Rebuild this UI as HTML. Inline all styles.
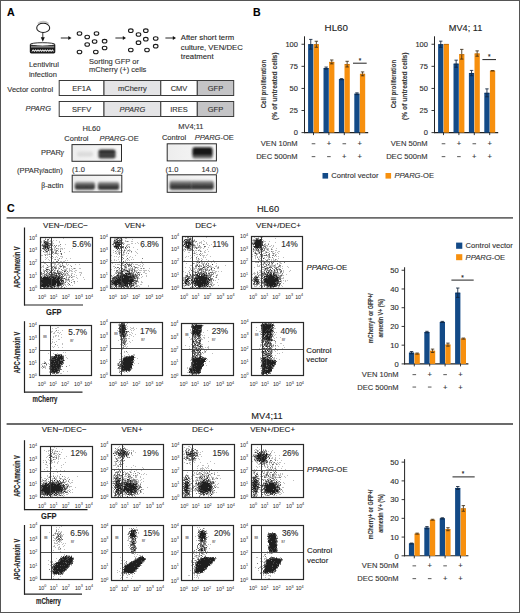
<!DOCTYPE html>
<html><head><meta charset="utf-8"><style>
html,body{margin:0;padding:0;background:#fff;}
body{width:520px;height:613px;overflow:hidden;}
svg{display:block;font-family:"Liberation Sans", sans-serif;}
</style></head><body>
<svg width="520" height="613" viewBox="0 0 520 613">
<defs>
<linearGradient id="blotbg" x1="0" y1="0" x2="1" y2="0"><stop offset="0" stop-color="#ededed"/><stop offset="1" stop-color="#f8f8f8"/></linearGradient>
<linearGradient id="gband" x1="0" y1="0" x2="0" y2="1"><stop offset="0" stop-color="#2a2a2a"/><stop offset="0.45" stop-color="#333"/><stop offset="0.55" stop-color="#555"/><stop offset="0.7" stop-color="#333"/><stop offset="1" stop-color="#4a4a4a"/></linearGradient>
<linearGradient id="gband2" x1="0" y1="0" x2="0" y2="1"><stop offset="0" stop-color="#141414"/><stop offset="0.55" stop-color="#111"/><stop offset="0.75" stop-color="#444"/><stop offset="1" stop-color="#9a9a9a"/></linearGradient>
<linearGradient id="gfaint" x1="0" y1="0" x2="0" y2="1"><stop offset="0" stop-color="#e2e2e2"/><stop offset="1" stop-color="#d8d8d8"/></linearGradient>
<linearGradient id="gactin" x1="0" y1="0" x2="0" y2="1"><stop offset="0" stop-color="#a8a8a8"/><stop offset="0.35" stop-color="#5a5a5a"/><stop offset="0.7" stop-color="#333"/><stop offset="1" stop-color="#474747"/></linearGradient>
<filter id="bl1" x="-30%" y="-50%" width="160%" height="200%"><feGaussianBlur stdDeviation="0.8"/></filter>
</defs>
<rect x="0" y="0" width="520" height="613" fill="#fff"/>
<text x="6.90" y="16.20" font-size="10.6" font-weight="bold" fill="#000" stroke="#000" stroke-width="0.12">A</text>
<path d="M37.8 23.6 Q43.2 19.6 48.6 23.6" fill="none" stroke="#c4c4c4" stroke-width="1.6"/>
<ellipse cx="43.2" cy="27.9" rx="6.5" ry="4.6" fill="#fff" stroke="#1e1e1e" stroke-width="1.05"/>
<line x1="42.80" y1="32.50" x2="42.80" y2="38.00" stroke="#222" stroke-width="0.9"/>
<path d="M40.8 37.2 L44.8 37.2 L42.8 41.8 Z" fill="#111"/>
<path d="M29.8 44.6 L29.8 52 Q29.8 53.4 31.3 53.4 L53.8 53.4 Q55.3 53.4 55.3 52 L55.3 44.6 Z" fill="#1a1a1a"/>
<ellipse cx="42.55" cy="44.4" rx="12.4" ry="1.7" fill="#fff" stroke="#1a1a1a" stroke-width="0.9"/>
<line x1="31.00" y1="46.90" x2="54.20" y2="46.90" stroke="#f4f4f4" stroke-width="0.75"/>
<path d="M32 51.6 L33.2 49.6 L34.4 51.6 L35.6 49.6 L36.8 51.6 L38 49.6 L39.2 51.6 L40.4 49.6 L41.6 51.6 L42.8 49.6 L44 51.6 L45.2 49.6 L46.4 51.6 L47.6 49.6 L48.8 51.6 L50 49.6 L51.2 51.6 L52.4 49.6 L53.4 51.6" fill="none" stroke="#fff" stroke-width="0.8"/>
<line x1="32.00" y1="50.60" x2="53.40" y2="50.60" stroke="#fff" stroke-width="0.6"/>
<line x1="60.80" y1="38.00" x2="69.00" y2="38.00" stroke="#111" stroke-width="0.9"/>
<path d="M68.3 36.0 L71.5 38.0 L68.3 40.0 Z" fill="#111"/>
<line x1="115.40" y1="38.00" x2="123.50" y2="38.00" stroke="#111" stroke-width="0.9"/>
<path d="M122.8 36.0 L126.0 38.0 L122.8 40.0 Z" fill="#111"/>
<line x1="165.40" y1="38.00" x2="173.50" y2="38.00" stroke="#111" stroke-width="0.9"/>
<path d="M172.8 36.0 L176.0 38.0 L172.8 40.0 Z" fill="#111"/>
<ellipse cx="79.5" cy="33.5" rx="2.3" ry="1.8" fill="#fff" stroke="#1a1a1a" stroke-width="1.1"/>
<ellipse cx="87.2" cy="37.0" rx="2.3" ry="1.8" fill="#fff" stroke="#1a1a1a" stroke-width="1.1"/>
<ellipse cx="96.5" cy="33.5" rx="2.3" ry="1.8" fill="#fff" stroke="#1a1a1a" stroke-width="1.1"/>
<ellipse cx="94.6" cy="41.5" rx="2.3" ry="1.8" fill="#fff" stroke="#1a1a1a" stroke-width="1.1"/>
<ellipse cx="104.6" cy="41.2" rx="2.3" ry="1.8" fill="#fff" stroke="#1a1a1a" stroke-width="1.1"/>
<ellipse cx="87.2" cy="44.5" rx="2.3" ry="1.8" fill="#fff" stroke="#1a1a1a" stroke-width="1.1"/>
<ellipse cx="104.6" cy="48.0" rx="2.3" ry="1.8" fill="#fff" stroke="#1a1a1a" stroke-width="1.1"/>
<ellipse cx="79.5" cy="52.0" rx="2.3" ry="1.8" fill="#fff" stroke="#1a1a1a" stroke-width="1.1"/>
<ellipse cx="95.8" cy="52.0" rx="2.3" ry="1.8" fill="#fff" stroke="#1a1a1a" stroke-width="1.1"/>
<ellipse cx="130.8" cy="30.7" rx="2.3" ry="1.8" fill="#fff" stroke="#1a1a1a" stroke-width="1.1"/>
<ellipse cx="138.5" cy="34.5" rx="2.3" ry="1.8" fill="#fff" stroke="#1a1a1a" stroke-width="1.1"/>
<ellipse cx="145.8" cy="30.7" rx="2.3" ry="1.8" fill="#fff" stroke="#1a1a1a" stroke-width="1.1"/>
<ellipse cx="145.8" cy="39.2" rx="2.3" ry="1.8" fill="#fff" stroke="#1a1a1a" stroke-width="1.1"/>
<ellipse cx="155.7" cy="38.5" rx="2.3" ry="1.8" fill="#fff" stroke="#1a1a1a" stroke-width="1.1"/>
<ellipse cx="138.5" cy="42.7" rx="2.3" ry="1.8" fill="#fff" stroke="#1a1a1a" stroke-width="1.1"/>
<ellipse cx="155.7" cy="46.2" rx="2.3" ry="1.8" fill="#fff" stroke="#1a1a1a" stroke-width="1.1"/>
<ellipse cx="130.8" cy="50.0" rx="2.3" ry="1.8" fill="#fff" stroke="#1a1a1a" stroke-width="1.1"/>
<ellipse cx="147.0" cy="50.0" rx="2.3" ry="1.8" fill="#fff" stroke="#1a1a1a" stroke-width="1.1"/>
<text x="28.90" y="67.20" font-size="7.5" fill="#333" stroke="#333" stroke-width="0.12">Lentivirul</text>
<text x="28.90" y="76.70" font-size="7.5" fill="#333" stroke="#333" stroke-width="0.12">infection</text>
<text x="89.00" y="63.70" font-size="7.5" fill="#333" stroke="#333" stroke-width="0.12">Sorting GFP or</text>
<text x="89.00" y="72.30" font-size="7.5" fill="#333" stroke="#333" stroke-width="0.12">mCherry (+) cells</text>
<text x="180.80" y="40.10" font-size="7.75" fill="#2a2a2a" stroke="#2a2a2a" stroke-width="0.12">After short term</text>
<text x="180.80" y="49.50" font-size="7.75" fill="#2a2a2a" stroke="#2a2a2a" stroke-width="0.12">culture, VEN/DEC</text>
<text x="180.80" y="58.90" font-size="7.75" fill="#2a2a2a" stroke="#2a2a2a" stroke-width="0.12">treatment</text>
<rect x="59.20" y="80.50" width="44.80" height="15.00" fill="#fff" stroke="#3a3a3a" stroke-width="1"/>
<rect x="104.00" y="80.50" width="56.80" height="15.00" fill="#e4e4e6" stroke="#3a3a3a" stroke-width="1"/>
<rect x="160.80" y="80.50" width="36.50" height="15.00" fill="#fff" stroke="#3a3a3a" stroke-width="1"/>
<rect x="197.30" y="80.50" width="36.40" height="15.00" fill="#c4c4c6" stroke="#3a3a3a" stroke-width="1"/>
<text x="81.60" y="90.70" font-size="7.5" text-anchor="middle" fill="#333" stroke="#333" stroke-width="0.12">EF1A</text>
<text x="132.40" y="90.70" font-size="7.5" text-anchor="middle" fill="#333" stroke="#333" stroke-width="0.12">mCherry</text>
<text x="179.05" y="90.70" font-size="7.5" text-anchor="middle" fill="#333" stroke="#333" stroke-width="0.12">CMV</text>
<text x="215.50" y="90.70" font-size="7.5" text-anchor="middle" fill="#333" stroke="#333" stroke-width="0.12">GFP</text>
<rect x="59.20" y="101.50" width="44.80" height="15.00" fill="#fff" stroke="#3a3a3a" stroke-width="1"/>
<rect x="104.00" y="101.50" width="56.80" height="15.00" fill="#e4e4e6" stroke="#3a3a3a" stroke-width="1"/>
<rect x="160.80" y="101.50" width="36.50" height="15.00" fill="#fff" stroke="#3a3a3a" stroke-width="1"/>
<rect x="197.30" y="101.50" width="36.40" height="15.00" fill="#c4c4c6" stroke="#3a3a3a" stroke-width="1"/>
<text x="81.60" y="111.70" font-size="7.5" text-anchor="middle" fill="#333" stroke="#333" stroke-width="0.12">SFFV</text>
<text x="132.40" y="111.70" font-size="7.5" text-anchor="middle" font-style="italic" fill="#333" stroke="#333" stroke-width="0.12">PPARG</text>
<text x="179.05" y="111.70" font-size="7.5" text-anchor="middle" fill="#333" stroke="#333" stroke-width="0.12">IRES</text>
<text x="215.50" y="111.70" font-size="7.5" text-anchor="middle" fill="#333" stroke="#333" stroke-width="0.12">GFP</text>
<text x="53.20" y="92.40" font-size="7.5" text-anchor="end" fill="#333" stroke="#333" stroke-width="0.12">Vector control</text>
<text x="51.10" y="111.40" font-size="7.5" text-anchor="end" font-style="italic" fill="#333" stroke="#333" stroke-width="0.12">PPARG</text>
<text x="91.50" y="130.80" font-size="7.5" text-anchor="middle" fill="#333" stroke="#333" stroke-width="0.12">HL60</text>
<text x="190.80" y="129.40" font-size="7.5" text-anchor="middle" fill="#333" stroke="#333" stroke-width="0.12">MV4;11</text>
<text x="76.40" y="140.70" font-size="7.5" text-anchor="middle" fill="#333" stroke="#333" stroke-width="0.12">Control</text>
<text x="99.60" y="140.70" font-size="7.5" fill="#333" stroke="#333" stroke-width="0.12"><tspan font-style="italic">PPARG</tspan>-OE</text>
<text x="174.00" y="140.20" font-size="7.5" text-anchor="middle" fill="#333" stroke="#333" stroke-width="0.12">Control</text>
<text x="194.70" y="140.20" font-size="7.5" fill="#333" stroke="#333" stroke-width="0.12"><tspan font-style="italic">PPARG</tspan>-OE</text>
<text x="63.80" y="154.80" font-size="7.5" text-anchor="end" fill="#333" stroke="#333" stroke-width="0.12">PPAR<tspan font-family="Liberation Serif" font-style="italic">γ</tspan></text>
<text x="62.70" y="173.10" font-size="7.5" text-anchor="end" fill="#333" stroke="#333" stroke-width="0.12">(PPAR<tspan font-family="Liberation Serif" font-style="italic">γ</tspan>/actin)</text>
<text x="63.40" y="188.10" font-size="7.5" text-anchor="end" fill="#333" stroke="#333" stroke-width="0.12"><tspan font-family="Liberation Serif">β</tspan>-actin</text>
<text x="72.00" y="172.30" font-size="7.5" fill="#333" stroke="#333" stroke-width="0.12">(1.0</text>
<text x="123.60" y="172.30" font-size="7.5" text-anchor="end" fill="#333" stroke="#333" stroke-width="0.12">4.2)</text>
<text x="165.40" y="171.70" font-size="7.5" fill="#333" stroke="#333" stroke-width="0.12">(1.0</text>
<text x="218.50" y="171.70" font-size="7.5" text-anchor="end" fill="#333" stroke="#333" stroke-width="0.12">14.0)</text>
<rect x="72.0" y="144.6" width="49.50" height="16.70" fill="url(#blotbg)"/>
<rect x="77" y="151.3" width="16.00" height="5.20" rx="2.2" fill="url(#gfaint)" filter="url(#bl1)"/>
<rect x="98.4" y="149.6" width="17.20" height="8.80" rx="2.2" fill="url(#gband)" filter="url(#bl1)"/>
<rect x="72.0" y="144.6" width="49.50" height="16.70" fill="none" stroke="#2a2a2a" stroke-width="1"/>
<rect x="72.2" y="175.2" width="49.60" height="16.80" fill="url(#blotbg)"/>
<rect x="74.8" y="181.8" width="20.20" height="8.00" rx="2.2" fill="url(#gactin)" filter="url(#bl1)"/>
<rect x="97.8" y="181.8" width="21.40" height="8.20" rx="2.2" fill="url(#gactin)" filter="url(#bl1)"/>
<rect x="72.2" y="175.2" width="49.60" height="16.80" fill="none" stroke="#2a2a2a" stroke-width="1"/>
<rect x="167.2" y="143.8" width="49.20" height="17.10" fill="url(#blotbg)"/>
<rect x="192.4" y="147.2" width="20.20" height="11.60" rx="2.2" fill="url(#gband2)" filter="url(#bl1)"/>
<rect x="167.2" y="143.8" width="49.20" height="17.10" fill="none" stroke="#2a2a2a" stroke-width="1"/>
<rect x="167.2" y="174.8" width="49.20" height="17.50" fill="url(#blotbg)"/>
<rect x="169.6" y="180.6" width="22.60" height="9.20" rx="2.2" fill="url(#gactin)" filter="url(#bl1)"/>
<rect x="190.6" y="180.6" width="23.20" height="9.20" rx="2.2" fill="url(#gactin)" filter="url(#bl1)"/>
<rect x="167.2" y="174.8" width="49.20" height="17.50" fill="none" stroke="#2a2a2a" stroke-width="1"/>
<text x="253.00" y="16.20" font-size="10.6" font-weight="bold" fill="#000" stroke="#000" stroke-width="0.12">B</text>
<text x="336.30" y="30.60" font-size="9.2" text-anchor="middle" fill="#222" textLength="23.40" lengthAdjust="spacingAndGlyphs" stroke="#222" stroke-width="0.12">HL60</text>
<line x1="304.50" y1="36.30" x2="304.50" y2="133.10" stroke="#222" stroke-width="1"/>
<line x1="304.00" y1="132.60" x2="368.20" y2="132.60" stroke="#222" stroke-width="1.1"/>
<line x1="301.50" y1="132.60" x2="304.50" y2="132.60" stroke="#222" stroke-width="0.9"/>
<text x="297.90" y="135.30" font-size="7.5" text-anchor="end" fill="#2a2a2a" stroke="#2a2a2a" stroke-width="0.12">0</text>
<line x1="301.50" y1="110.51" x2="304.50" y2="110.51" stroke="#222" stroke-width="0.9"/>
<text x="297.90" y="113.21" font-size="7.5" text-anchor="end" fill="#2a2a2a" stroke="#2a2a2a" stroke-width="0.12">25</text>
<line x1="301.50" y1="88.43" x2="304.50" y2="88.43" stroke="#222" stroke-width="0.9"/>
<text x="297.90" y="91.13" font-size="7.5" text-anchor="end" fill="#2a2a2a" stroke="#2a2a2a" stroke-width="0.12">50</text>
<line x1="301.50" y1="66.34" x2="304.50" y2="66.34" stroke="#222" stroke-width="0.9"/>
<text x="297.90" y="69.05" font-size="7.5" text-anchor="end" fill="#2a2a2a" stroke="#2a2a2a" stroke-width="0.12">75</text>
<line x1="301.50" y1="44.26" x2="304.50" y2="44.26" stroke="#222" stroke-width="0.9"/>
<text x="297.90" y="46.96" font-size="7.5" text-anchor="end" fill="#2a2a2a" stroke="#2a2a2a" stroke-width="0.12">100</text>
<rect x="308.10" y="44.26" width="5.30" height="88.34" fill="#134a87"/>
<line x1="310.75" y1="39.40" x2="310.75" y2="49.12" stroke="#10243c" stroke-width="0.85"/>
<line x1="309.05" y1="39.40" x2="312.45" y2="39.40" stroke="#10243c" stroke-width="0.85"/>
<line x1="309.05" y1="49.12" x2="312.45" y2="49.12" stroke="#10243c" stroke-width="0.85"/>
<line x1="308.40" y1="44.66" x2="313.10" y2="44.66" stroke="#0b2c52" stroke-width="0.8"/>
<rect x="313.70" y="44.26" width="5.30" height="88.34" fill="#f7900e"/>
<line x1="316.35" y1="41.26" x2="316.35" y2="47.26" stroke="#3a2a14" stroke-width="0.85"/>
<line x1="314.65" y1="41.26" x2="318.05" y2="41.26" stroke="#3a2a14" stroke-width="0.85"/>
<line x1="314.65" y1="47.26" x2="318.05" y2="47.26" stroke="#3a2a14" stroke-width="0.85"/>
<line x1="314.00" y1="44.66" x2="318.70" y2="44.66" stroke="#b0650a" stroke-width="0.8"/>
<rect x="323.50" y="68.11" width="5.30" height="64.49" fill="#134a87"/>
<line x1="326.15" y1="67.05" x2="326.15" y2="69.17" stroke="#10243c" stroke-width="0.85"/>
<line x1="324.45" y1="67.05" x2="327.85" y2="67.05" stroke="#10243c" stroke-width="0.85"/>
<line x1="324.45" y1="69.17" x2="327.85" y2="69.17" stroke="#10243c" stroke-width="0.85"/>
<line x1="323.80" y1="68.51" x2="328.50" y2="68.51" stroke="#0b2c52" stroke-width="0.8"/>
<rect x="329.10" y="61.93" width="5.30" height="70.67" fill="#f7900e"/>
<line x1="331.75" y1="59.98" x2="331.75" y2="63.87" stroke="#3a2a14" stroke-width="0.85"/>
<line x1="330.05" y1="59.98" x2="333.45" y2="59.98" stroke="#3a2a14" stroke-width="0.85"/>
<line x1="330.05" y1="63.87" x2="333.45" y2="63.87" stroke="#3a2a14" stroke-width="0.85"/>
<line x1="329.40" y1="62.33" x2="334.10" y2="62.33" stroke="#b0650a" stroke-width="0.8"/>
<rect x="338.90" y="79.15" width="5.30" height="53.45" fill="#134a87"/>
<line x1="341.55" y1="78.62" x2="341.55" y2="79.68" stroke="#10243c" stroke-width="0.85"/>
<line x1="339.85" y1="78.62" x2="343.25" y2="78.62" stroke="#10243c" stroke-width="0.85"/>
<line x1="339.85" y1="79.68" x2="343.25" y2="79.68" stroke="#10243c" stroke-width="0.85"/>
<line x1="339.20" y1="79.55" x2="343.90" y2="79.55" stroke="#0b2c52" stroke-width="0.8"/>
<rect x="344.50" y="64.14" width="5.30" height="68.46" fill="#f7900e"/>
<line x1="347.15" y1="61.31" x2="347.15" y2="66.96" stroke="#3a2a14" stroke-width="0.85"/>
<line x1="345.45" y1="61.31" x2="348.85" y2="61.31" stroke="#3a2a14" stroke-width="0.85"/>
<line x1="345.45" y1="66.96" x2="348.85" y2="66.96" stroke="#3a2a14" stroke-width="0.85"/>
<line x1="344.80" y1="64.54" x2="349.50" y2="64.54" stroke="#b0650a" stroke-width="0.8"/>
<rect x="354.30" y="93.73" width="5.30" height="38.87" fill="#134a87"/>
<line x1="356.95" y1="92.85" x2="356.95" y2="94.61" stroke="#10243c" stroke-width="0.85"/>
<line x1="355.25" y1="92.85" x2="358.65" y2="92.85" stroke="#10243c" stroke-width="0.85"/>
<line x1="355.25" y1="94.61" x2="358.65" y2="94.61" stroke="#10243c" stroke-width="0.85"/>
<line x1="354.60" y1="94.13" x2="359.30" y2="94.13" stroke="#0b2c52" stroke-width="0.8"/>
<rect x="359.90" y="73.85" width="5.30" height="58.75" fill="#f7900e"/>
<line x1="362.55" y1="71.91" x2="362.55" y2="75.80" stroke="#3a2a14" stroke-width="0.85"/>
<line x1="360.85" y1="71.91" x2="364.25" y2="71.91" stroke="#3a2a14" stroke-width="0.85"/>
<line x1="360.85" y1="75.80" x2="364.25" y2="75.80" stroke="#3a2a14" stroke-width="0.85"/>
<line x1="360.20" y1="74.25" x2="364.90" y2="74.25" stroke="#b0650a" stroke-width="0.8"/>
<line x1="313.50" y1="132.60" x2="313.50" y2="135.10" stroke="#222" stroke-width="0.9"/>
<line x1="328.90" y1="132.60" x2="328.90" y2="135.10" stroke="#222" stroke-width="0.9"/>
<line x1="344.30" y1="132.60" x2="344.30" y2="135.10" stroke="#222" stroke-width="0.9"/>
<line x1="359.70" y1="132.60" x2="359.70" y2="135.10" stroke="#222" stroke-width="0.9"/>
<line x1="353.00" y1="63.20" x2="366.70" y2="63.20" stroke="#222" stroke-width="1"/>
<text x="360.00" y="62.70" font-size="6.5" text-anchor="middle" fill="#222" stroke="#222" stroke-width="0.12">*</text>
<text transform="translate(264.75,84.00) rotate(-90)" x="0" y="1.69" font-size="7.7" text-anchor="middle" font-weight="bold" fill="#3a3a3a" textLength="48.60" lengthAdjust="spacingAndGlyphs" stroke="#3a3a3a" stroke-width="0.12">Cell proliferation</text>
<text transform="translate(275.05,86.20) rotate(-90)" x="0" y="1.65" font-size="7.5" text-anchor="middle" font-weight="bold" fill="#3a3a3a" textLength="67.40" lengthAdjust="spacingAndGlyphs" stroke="#3a3a3a" stroke-width="0.12">(% of untreated cells)</text>
<text x="297.50" y="146.30" font-size="7.6" text-anchor="end" fill="#333" stroke="#333" stroke-width="0.12">VEN 10nM</text>
<text x="297.50" y="159.20" font-size="7.6" text-anchor="end" fill="#333" stroke="#333" stroke-width="0.12">DEC 500nM</text>
<line x1="311.70" y1="143.75" x2="315.30" y2="143.75" stroke="#3a3a3a" stroke-width="0.85"/>
<line x1="311.70" y1="156.65" x2="315.30" y2="156.65" stroke="#3a3a3a" stroke-width="0.85"/>
<text x="328.90" y="146.30" font-size="7.6" text-anchor="middle" fill="#333" stroke="#333" stroke-width="0.12">+</text>
<line x1="327.10" y1="156.65" x2="330.70" y2="156.65" stroke="#3a3a3a" stroke-width="0.85"/>
<line x1="342.50" y1="143.75" x2="346.10" y2="143.75" stroke="#3a3a3a" stroke-width="0.85"/>
<text x="344.30" y="159.20" font-size="7.6" text-anchor="middle" fill="#333" stroke="#333" stroke-width="0.12">+</text>
<text x="359.70" y="146.30" font-size="7.6" text-anchor="middle" fill="#333" stroke="#333" stroke-width="0.12">+</text>
<text x="359.70" y="159.20" font-size="7.6" text-anchor="middle" fill="#333" stroke="#333" stroke-width="0.12">+</text>
<text x="465.60" y="30.60" font-size="9.2" text-anchor="middle" fill="#222" stroke="#222" stroke-width="0.12">MV4; 11</text>
<line x1="434.50" y1="36.30" x2="434.50" y2="133.10" stroke="#222" stroke-width="1"/>
<line x1="434.00" y1="132.60" x2="498.20" y2="132.60" stroke="#222" stroke-width="1.1"/>
<line x1="431.50" y1="132.60" x2="434.50" y2="132.60" stroke="#222" stroke-width="0.9"/>
<text x="427.90" y="135.30" font-size="7.5" text-anchor="end" fill="#2a2a2a" stroke="#2a2a2a" stroke-width="0.12">0</text>
<line x1="431.50" y1="110.51" x2="434.50" y2="110.51" stroke="#222" stroke-width="0.9"/>
<text x="427.90" y="113.21" font-size="7.5" text-anchor="end" fill="#2a2a2a" stroke="#2a2a2a" stroke-width="0.12">25</text>
<line x1="431.50" y1="88.43" x2="434.50" y2="88.43" stroke="#222" stroke-width="0.9"/>
<text x="427.90" y="91.13" font-size="7.5" text-anchor="end" fill="#2a2a2a" stroke="#2a2a2a" stroke-width="0.12">50</text>
<line x1="431.50" y1="66.34" x2="434.50" y2="66.34" stroke="#222" stroke-width="0.9"/>
<text x="427.90" y="69.05" font-size="7.5" text-anchor="end" fill="#2a2a2a" stroke="#2a2a2a" stroke-width="0.12">75</text>
<line x1="431.50" y1="44.26" x2="434.50" y2="44.26" stroke="#222" stroke-width="0.9"/>
<text x="427.90" y="46.96" font-size="7.5" text-anchor="end" fill="#2a2a2a" stroke="#2a2a2a" stroke-width="0.12">100</text>
<rect x="438.10" y="44.26" width="5.30" height="88.34" fill="#134a87"/>
<line x1="440.75" y1="41.17" x2="440.75" y2="47.35" stroke="#10243c" stroke-width="0.85"/>
<line x1="439.05" y1="41.17" x2="442.45" y2="41.17" stroke="#10243c" stroke-width="0.85"/>
<line x1="439.05" y1="47.35" x2="442.45" y2="47.35" stroke="#10243c" stroke-width="0.85"/>
<line x1="438.40" y1="44.66" x2="443.10" y2="44.66" stroke="#0b2c52" stroke-width="0.8"/>
<rect x="443.70" y="43.99" width="5.30" height="88.61" fill="#f7900e"/>
<line x1="444.00" y1="44.39" x2="448.70" y2="44.39" stroke="#b0650a" stroke-width="0.8"/>
<rect x="453.50" y="63.69" width="5.30" height="68.91" fill="#134a87"/>
<line x1="456.15" y1="60.16" x2="456.15" y2="67.23" stroke="#10243c" stroke-width="0.85"/>
<line x1="454.45" y1="60.16" x2="457.85" y2="60.16" stroke="#10243c" stroke-width="0.85"/>
<line x1="454.45" y1="67.23" x2="457.85" y2="67.23" stroke="#10243c" stroke-width="0.85"/>
<line x1="453.80" y1="64.09" x2="458.50" y2="64.09" stroke="#0b2c52" stroke-width="0.8"/>
<rect x="459.10" y="54.24" width="5.30" height="78.36" fill="#f7900e"/>
<line x1="461.75" y1="49.38" x2="461.75" y2="59.10" stroke="#3a2a14" stroke-width="0.85"/>
<line x1="460.05" y1="49.38" x2="463.45" y2="49.38" stroke="#3a2a14" stroke-width="0.85"/>
<line x1="460.05" y1="59.10" x2="463.45" y2="59.10" stroke="#3a2a14" stroke-width="0.85"/>
<line x1="459.40" y1="54.64" x2="464.10" y2="54.64" stroke="#b0650a" stroke-width="0.8"/>
<rect x="468.90" y="73.06" width="5.30" height="59.54" fill="#134a87"/>
<line x1="471.55" y1="70.41" x2="471.55" y2="75.71" stroke="#10243c" stroke-width="0.85"/>
<line x1="469.85" y1="70.41" x2="473.25" y2="70.41" stroke="#10243c" stroke-width="0.85"/>
<line x1="469.85" y1="75.71" x2="473.25" y2="75.71" stroke="#10243c" stroke-width="0.85"/>
<line x1="469.20" y1="73.46" x2="473.90" y2="73.46" stroke="#0b2c52" stroke-width="0.8"/>
<rect x="474.50" y="53.54" width="5.30" height="79.06" fill="#f7900e"/>
<line x1="477.15" y1="50.89" x2="477.15" y2="56.19" stroke="#3a2a14" stroke-width="0.85"/>
<line x1="475.45" y1="50.89" x2="478.85" y2="50.89" stroke="#3a2a14" stroke-width="0.85"/>
<line x1="475.45" y1="56.19" x2="478.85" y2="56.19" stroke="#3a2a14" stroke-width="0.85"/>
<line x1="474.80" y1="53.94" x2="479.50" y2="53.94" stroke="#b0650a" stroke-width="0.8"/>
<rect x="484.30" y="92.85" width="5.30" height="39.75" fill="#134a87"/>
<line x1="486.95" y1="88.87" x2="486.95" y2="96.82" stroke="#10243c" stroke-width="0.85"/>
<line x1="485.25" y1="88.87" x2="488.65" y2="88.87" stroke="#10243c" stroke-width="0.85"/>
<line x1="485.25" y1="96.82" x2="488.65" y2="96.82" stroke="#10243c" stroke-width="0.85"/>
<line x1="484.60" y1="93.25" x2="489.30" y2="93.25" stroke="#0b2c52" stroke-width="0.8"/>
<rect x="489.90" y="70.76" width="5.30" height="61.84" fill="#f7900e"/>
<line x1="492.55" y1="70.50" x2="492.55" y2="71.03" stroke="#3a2a14" stroke-width="0.85"/>
<line x1="490.85" y1="70.50" x2="494.25" y2="70.50" stroke="#3a2a14" stroke-width="0.85"/>
<line x1="490.85" y1="71.03" x2="494.25" y2="71.03" stroke="#3a2a14" stroke-width="0.85"/>
<line x1="490.20" y1="71.16" x2="494.90" y2="71.16" stroke="#b0650a" stroke-width="0.8"/>
<line x1="443.50" y1="132.60" x2="443.50" y2="135.10" stroke="#222" stroke-width="0.9"/>
<line x1="458.90" y1="132.60" x2="458.90" y2="135.10" stroke="#222" stroke-width="0.9"/>
<line x1="474.30" y1="132.60" x2="474.30" y2="135.10" stroke="#222" stroke-width="0.9"/>
<line x1="489.70" y1="132.60" x2="489.70" y2="135.10" stroke="#222" stroke-width="0.9"/>
<line x1="482.40" y1="59.60" x2="496.00" y2="59.60" stroke="#222" stroke-width="1"/>
<text x="489.20" y="59.10" font-size="6.5" text-anchor="middle" fill="#222" stroke="#222" stroke-width="0.12">*</text>
<text transform="translate(394.75,84.00) rotate(-90)" x="0" y="1.69" font-size="7.7" text-anchor="middle" font-weight="bold" fill="#3a3a3a" textLength="48.60" lengthAdjust="spacingAndGlyphs" stroke="#3a3a3a" stroke-width="0.12">Cell proliferation</text>
<text transform="translate(405.05,86.20) rotate(-90)" x="0" y="1.65" font-size="7.5" text-anchor="middle" font-weight="bold" fill="#3a3a3a" textLength="67.40" lengthAdjust="spacingAndGlyphs" stroke="#3a3a3a" stroke-width="0.12">(% of untreated cells)</text>
<text x="427.50" y="146.30" font-size="7.6" text-anchor="end" fill="#333" stroke="#333" stroke-width="0.12">VEN 50nM</text>
<text x="427.50" y="159.20" font-size="7.6" text-anchor="end" fill="#333" stroke="#333" stroke-width="0.12">DEC 500nM</text>
<line x1="441.70" y1="143.75" x2="445.30" y2="143.75" stroke="#3a3a3a" stroke-width="0.85"/>
<line x1="441.70" y1="156.65" x2="445.30" y2="156.65" stroke="#3a3a3a" stroke-width="0.85"/>
<text x="458.90" y="146.30" font-size="7.6" text-anchor="middle" fill="#333" stroke="#333" stroke-width="0.12">+</text>
<line x1="457.10" y1="156.65" x2="460.70" y2="156.65" stroke="#3a3a3a" stroke-width="0.85"/>
<line x1="472.50" y1="143.75" x2="476.10" y2="143.75" stroke="#3a3a3a" stroke-width="0.85"/>
<text x="474.30" y="159.20" font-size="7.6" text-anchor="middle" fill="#333" stroke="#333" stroke-width="0.12">+</text>
<text x="489.70" y="146.30" font-size="7.6" text-anchor="middle" fill="#333" stroke="#333" stroke-width="0.12">+</text>
<text x="489.70" y="159.20" font-size="7.6" text-anchor="middle" fill="#333" stroke="#333" stroke-width="0.12">+</text>
<rect x="322.50" y="173.00" width="5.60" height="5.60" fill="#134a87"/>
<text x="331.20" y="178.30" font-size="7.6" fill="#333" stroke="#333" stroke-width="0.12">Control vector</text>
<rect x="385.50" y="173.00" width="5.60" height="5.60" fill="#f7900e"/>
<text x="394.50" y="178.30" font-size="7.6" fill="#333" stroke="#333" stroke-width="0.12"><tspan font-style="italic">PPARG</tspan>-OE</text>
<text x="6.90" y="212.00" font-size="10.6" font-weight="bold" fill="#000" stroke="#000" stroke-width="0.12">C</text>
<line x1="6.60" y1="217.80" x2="513.00" y2="217.80" stroke="#6b6b6b" stroke-width="1.8"/>
<line x1="6.60" y1="424.00" x2="513.00" y2="424.00" stroke="#6b6b6b" stroke-width="1.8"/>
<text x="268.00" y="212.10" font-size="9.3" text-anchor="middle" fill="#222" stroke="#222" stroke-width="0.12">HL60</text>
<text x="267.00" y="418.80" font-size="9.3" text-anchor="middle" fill="#222" stroke="#222" stroke-width="0.12">MV4;11</text>
<text x="65.50" y="227.50" font-size="8.0" text-anchor="middle" fill="#222" stroke="#222" stroke-width="0.12">VEN−/DEC−</text>
<text x="135.20" y="227.50" font-size="8.0" text-anchor="middle" fill="#222" stroke="#222" stroke-width="0.12">VEN+</text>
<text x="206.00" y="227.50" font-size="8.0" text-anchor="middle" fill="#222" stroke="#222" stroke-width="0.12">DEC+</text>
<text x="278.50" y="227.50" font-size="8.0" text-anchor="middle" fill="#222" stroke="#222" stroke-width="0.12">VEN+/DEC+</text>
<text x="64.20" y="432.20" font-size="8.0" text-anchor="middle" fill="#222" stroke="#222" stroke-width="0.12">VEN−/DEC−</text>
<text x="132.00" y="432.20" font-size="8.0" text-anchor="middle" fill="#222" stroke="#222" stroke-width="0.12">VEN+</text>
<text x="202.80" y="432.20" font-size="8.0" text-anchor="middle" fill="#222" stroke="#222" stroke-width="0.12">DEC+</text>
<text x="272.60" y="432.20" font-size="8.0" text-anchor="middle" fill="#222" stroke="#222" stroke-width="0.12">VEN+/DEC+</text>
<line x1="24.50" y1="227.50" x2="24.50" y2="305.50" stroke="#222" stroke-width="1.2"/>
<line x1="24.00" y1="305.00" x2="83.00" y2="305.00" stroke="#222" stroke-width="1.2"/>
<text x="53.80" y="315.00" font-size="8.3" text-anchor="middle" fill="#222" textLength="15.50" lengthAdjust="spacingAndGlyphs" stroke="#222" stroke-width="0.12" font-weight="bold">GFP</text>
<text transform="translate(17.80,267.20) rotate(-90)" x="0" y="1.83" font-size="8.3" text-anchor="middle" font-weight="bold" fill="#222" textLength="41.50" lengthAdjust="spacingAndGlyphs" stroke="#222" stroke-width="0.12">APC-Annexin V</text>
<line x1="24.50" y1="321.20" x2="24.50" y2="392.70" stroke="#222" stroke-width="1.2"/>
<line x1="24.00" y1="392.20" x2="82.50" y2="392.20" stroke="#222" stroke-width="1.2"/>
<text x="45.00" y="402.30" font-size="8.3" text-anchor="middle" fill="#222" textLength="25.00" lengthAdjust="spacingAndGlyphs" stroke="#222" stroke-width="0.12" font-weight="bold">mCherry</text>
<text transform="translate(17.80,352.50) rotate(-90)" x="0" y="1.83" font-size="8.3" text-anchor="middle" font-weight="bold" fill="#222" textLength="41.50" lengthAdjust="spacingAndGlyphs" stroke="#222" stroke-width="0.12">APC-Annexin V</text>
<line x1="24.50" y1="440.20" x2="24.50" y2="510.10" stroke="#222" stroke-width="1.2"/>
<line x1="24.00" y1="509.60" x2="87.50" y2="509.60" stroke="#222" stroke-width="1.2"/>
<text x="48.80" y="518.50" font-size="8.3" text-anchor="middle" fill="#222" textLength="15.50" lengthAdjust="spacingAndGlyphs" stroke="#222" stroke-width="0.12" font-weight="bold">GFP</text>
<text transform="translate(17.80,476.00) rotate(-90)" x="0" y="1.83" font-size="8.3" text-anchor="middle" font-weight="bold" fill="#222" textLength="41.50" lengthAdjust="spacingAndGlyphs" stroke="#222" stroke-width="0.12">APC-Annexin V</text>
<line x1="24.50" y1="525.00" x2="24.50" y2="594.70" stroke="#222" stroke-width="1.2"/>
<line x1="24.00" y1="594.20" x2="82.00" y2="594.20" stroke="#222" stroke-width="1.2"/>
<text x="48.50" y="604.30" font-size="8.3" text-anchor="middle" fill="#222" textLength="25.00" lengthAdjust="spacingAndGlyphs" stroke="#222" stroke-width="0.12" font-weight="bold">mCherry</text>
<text transform="translate(17.80,559.50) rotate(-90)" x="0" y="1.83" font-size="8.3" text-anchor="middle" font-weight="bold" fill="#222" textLength="41.50" lengthAdjust="spacingAndGlyphs" stroke="#222" stroke-width="0.12">APC-Annexin V</text>
<text x="306.60" y="270.00" font-size="7.8" fill="#222" stroke="#222" stroke-width="0.12"><tspan font-style="italic">PPARG</tspan>-OE</text>
<text x="306.30" y="352.50" font-size="7.8" fill="#222" stroke="#222" stroke-width="0.12">Control</text>
<text x="306.30" y="362.30" font-size="7.8" fill="#222" stroke="#222" stroke-width="0.12">vector</text>
<text x="307.00" y="472.40" font-size="7.8" fill="#222" stroke="#222" stroke-width="0.12"><tspan font-style="italic">PPARG</tspan>-OE</text>
<text x="307.00" y="553.20" font-size="7.8" fill="#222" stroke="#222" stroke-width="0.12">Control</text>
<text x="307.00" y="563.20" font-size="7.8" fill="#222" stroke="#222" stroke-width="0.12">vector</text>
<path d="M48 237h1v1h-1zM45 238h1v1h-1zM49 238h1v1h-1zM63 238h1v1h-1zM43 240h1v1h-1zM48 240h1v1h-1zM50 240h1v1h-1zM53 240h1v1h-1zM56 240h1v1h-1zM41 241h1v1h-1zM43 241h1v1h-1zM48 241h3v1h-3zM52 241h1v1h-1zM59 241h1v1h-1zM41 242h1v1h-1zM43 242h1v1h-1zM51 242h2v1h-2zM59 242h1v1h-1zM43 243h1v1h-1zM51 243h3v1h-3zM43 244h1v1h-1zM49 244h1v1h-1zM52 244h1v1h-1zM65 244h1v1h-1zM41 245h1v1h-1zM58 245h2v1h-2zM42 246h1v1h-1zM53 246h1v1h-1zM58 246h1v1h-1zM60 246h1v1h-1zM54 247h2v1h-2zM46 248h1v1h-1zM49 248h1v1h-1zM51 248h2v1h-2zM54 248h1v1h-1zM57 248h2v1h-2zM60 248h3v1h-3zM64 248h1v1h-1zM72 248h1v1h-1zM40 249h1v1h-1zM43 249h1v1h-1zM45 249h1v1h-1zM47 249h1v1h-1zM49 249h1v1h-1zM54 249h2v1h-2zM58 249h1v1h-1zM60 249h1v1h-1zM62 249h1v1h-1zM41 250h1v1h-1zM44 250h1v1h-1zM46 250h2v1h-2zM49 250h2v1h-2zM52 250h1v1h-1zM54 250h2v1h-2zM60 250h1v1h-1zM40 251h1v1h-1zM45 251h1v1h-1zM49 251h1v1h-1zM51 251h1v1h-1zM53 251h1v1h-1zM55 251h1v1h-1zM58 251h1v1h-1zM69 251h1v1h-1zM44 252h4v1h-4zM49 252h1v1h-1zM51 252h1v1h-1zM56 252h1v1h-1zM64 252h1v1h-1zM47 253h1v1h-1zM49 253h1v1h-1zM54 253h1v1h-1zM57 253h2v1h-2zM60 253h1v1h-1zM44 254h5v1h-5zM50 254h2v1h-2zM53 254h1v1h-1zM57 254h1v1h-1zM41 255h2v1h-2zM47 255h1v1h-1zM51 255h1v1h-1zM58 255h1v1h-1zM49 256h1v1h-1zM51 256h1v1h-1zM56 256h1v1h-1zM60 256h3v1h-3zM45 257h1v1h-1zM47 257h1v1h-1zM50 257h1v1h-1zM53 257h1v1h-1zM55 257h1v1h-1zM57 257h1v1h-1zM62 257h1v1h-1zM46 258h1v1h-1zM51 258h2v1h-2zM61 258h1v1h-1zM66 258h1v1h-1zM70 258h1v1h-1zM45 259h1v1h-1zM48 259h1v1h-1zM54 259h1v1h-1zM57 259h2v1h-2zM49 260h1v1h-1zM65 260h1v1h-1zM67 260h1v1h-1zM43 261h1v1h-1zM51 261h1v1h-1zM53 261h1v1h-1zM60 261h2v1h-2zM63 261h2v1h-2zM47 262h1v1h-1zM49 262h1v1h-1zM52 262h1v1h-1zM56 262h2v1h-2zM66 262h1v1h-1zM77 262h1v1h-1zM44 263h2v1h-2zM50 263h1v1h-1zM52 263h4v1h-4zM58 263h2v1h-2zM66 263h1v1h-1zM46 264h1v1h-1zM50 264h2v1h-2zM54 264h2v1h-2zM57 264h2v1h-2zM60 264h1v1h-1zM62 264h1v1h-1zM66 264h1v1h-1zM68 264h1v1h-1zM75 264h1v1h-1zM79 264h1v1h-1zM43 265h1v1h-1zM50 265h2v1h-2zM54 265h1v1h-1zM56 265h1v1h-1zM59 265h2v1h-2zM63 265h1v1h-1zM67 265h1v1h-1zM70 265h1v1h-1zM42 266h2v1h-2zM48 266h5v1h-5zM54 266h3v1h-3zM59 266h1v1h-1zM65 266h1v1h-1zM40 267h2v1h-2zM43 267h1v1h-1zM46 267h1v1h-1zM48 267h1v1h-1zM51 267h1v1h-1zM56 267h1v1h-1zM58 267h1v1h-1zM60 267h1v1h-1zM64 267h2v1h-2zM45 268h2v1h-2zM50 268h5v1h-5zM58 268h1v1h-1zM63 268h1v1h-1zM66 268h2v1h-2zM69 268h1v1h-1zM71 268h1v1h-1zM73 268h1v1h-1zM75 268h1v1h-1zM79 268h2v1h-2zM43 269h1v1h-1zM49 269h1v1h-1zM52 269h1v1h-1zM55 269h1v1h-1zM58 269h1v1h-1zM64 269h3v1h-3zM69 269h1v1h-1zM72 269h1v1h-1zM43 270h2v1h-2zM46 270h2v1h-2zM50 270h1v1h-1zM55 270h1v1h-1zM58 270h1v1h-1zM63 270h2v1h-2zM66 270h1v1h-1zM69 270h3v1h-3zM75 270h2v1h-2zM43 271h1v1h-1zM47 271h2v1h-2zM53 271h2v1h-2zM58 271h1v1h-1zM60 271h2v1h-2zM69 271h1v1h-1zM71 271h2v1h-2zM74 271h1v1h-1zM52 272h1v1h-1zM59 272h1v1h-1zM61 272h1v1h-1zM64 272h1v1h-1zM66 272h1v1h-1zM68 272h1v1h-1zM75 272h1v1h-1zM79 272h3v1h-3zM42 273h1v1h-1zM44 273h1v1h-1zM47 273h1v1h-1zM51 273h1v1h-1zM53 273h1v1h-1zM64 273h3v1h-3zM71 273h2v1h-2zM81 273h1v1h-1zM42 274h1v1h-1zM47 274h2v1h-2zM55 274h1v1h-1zM60 274h1v1h-1zM63 274h2v1h-2zM67 274h2v1h-2zM71 274h1v1h-1zM74 274h1v1h-1zM80 274h1v1h-1zM40 275h1v1h-1zM42 275h2v1h-2zM45 275h1v1h-1zM49 275h1v1h-1zM58 275h1v1h-1zM65 275h5v1h-5zM76 275h1v1h-1zM80 275h1v1h-1zM42 276h2v1h-2zM46 276h1v1h-1zM60 276h1v1h-1zM66 276h1v1h-1zM69 276h2v1h-2zM72 276h3v1h-3zM42 277h1v1h-1zM68 277h1v1h-1zM72 277h1v1h-1zM76 277h1v1h-1zM83 277h1v1h-1zM40 278h1v1h-1zM65 278h2v1h-2zM68 278h1v1h-1zM77 278h1v1h-1zM62 279h2v1h-2zM67 279h1v1h-1zM69 279h1v1h-1zM72 279h2v1h-2zM84 279h1v1h-1zM65 280h5v1h-5zM71 280h1v1h-1zM60 281h1v1h-1zM65 281h2v1h-2zM73 281h1v1h-1zM77 281h1v1h-1zM64 282h1v1h-1zM67 282h1v1h-1zM74 282h1v1h-1zM64 283h1v1h-1zM74 283h1v1h-1zM40 284h1v1h-1zM56 284h1v1h-1zM63 284h3v1h-3zM67 284h1v1h-1zM40 285h1v1h-1zM65 285h1v1h-1zM68 285h1v1h-1zM70 285h1v1h-1zM72 285h1v1h-1zM56 286h1v1h-1zM59 286h1v1h-1zM66 286h1v1h-1zM41 287h1v1h-1zM49 287h1v1h-1zM53 287h1v1h-1zM56 287h2v1h-2zM60 287h1v1h-1z" fill="#000" fill-opacity="0.25"/>
<path d="M45 239h1v1h-1zM47 239h1v1h-1zM44 240h1v1h-1zM47 240h1v1h-1zM46 241h2v1h-2zM48 242h1v1h-1zM44 243h1v1h-1zM50 243h1v1h-1zM42 244h1v1h-1zM44 244h1v1h-1zM48 244h1v1h-1zM60 244h1v1h-1zM50 245h1v1h-1zM52 245h1v1h-1zM54 245h1v1h-1zM56 245h1v1h-1zM48 246h2v1h-2zM55 246h1v1h-1zM43 247h1v1h-1zM48 247h1v1h-1zM50 247h1v1h-1zM44 248h1v1h-1zM56 248h1v1h-1zM50 249h1v1h-1zM52 249h1v1h-1zM56 250h2v1h-2zM52 251h1v1h-1zM56 251h1v1h-1zM52 252h2v1h-2zM55 252h1v1h-1zM52 253h1v1h-1zM55 253h2v1h-2zM49 254h1v1h-1zM45 255h1v1h-1zM52 256h1v1h-1zM59 258h1v1h-1zM55 259h1v1h-1zM58 260h1v1h-1zM56 261h2v1h-2zM68 262h1v1h-1zM62 263h1v1h-1zM47 265h1v1h-1zM62 265h1v1h-1zM53 266h1v1h-1zM63 266h2v1h-2zM71 266h1v1h-1zM55 267h1v1h-1zM63 267h1v1h-1zM56 268h1v1h-1zM59 268h1v1h-1zM74 268h1v1h-1zM48 269h1v1h-1zM53 269h1v1h-1zM61 269h1v1h-1zM45 270h1v1h-1zM49 270h1v1h-1zM54 270h1v1h-1zM62 270h1v1h-1zM65 270h1v1h-1zM44 271h1v1h-1zM50 271h1v1h-1zM59 271h1v1h-1zM65 271h1v1h-1zM67 271h1v1h-1zM41 272h1v1h-1zM44 272h1v1h-1zM49 272h1v1h-1zM55 272h1v1h-1zM57 272h2v1h-2zM60 272h1v1h-1zM62 272h1v1h-1zM41 273h1v1h-1zM43 273h1v1h-1zM46 273h1v1h-1zM48 273h2v1h-2zM52 273h1v1h-1zM57 273h1v1h-1zM60 273h2v1h-2zM63 273h1v1h-1zM67 273h1v1h-1zM41 274h1v1h-1zM44 274h3v1h-3zM59 274h1v1h-1zM65 274h1v1h-1zM44 275h1v1h-1zM47 275h2v1h-2zM51 275h1v1h-1zM53 275h1v1h-1zM57 275h1v1h-1zM60 275h1v1h-1zM62 275h1v1h-1zM64 275h1v1h-1zM71 275h1v1h-1zM40 276h2v1h-2zM48 276h1v1h-1zM62 276h1v1h-1zM66 277h1v1h-1zM69 277h1v1h-1zM71 277h1v1h-1zM60 278h1v1h-1zM63 278h1v1h-1zM59 279h1v1h-1zM65 279h2v1h-2zM62 281h1v1h-1zM69 281h1v1h-1zM74 281h1v1h-1zM61 282h3v1h-3zM71 282h1v1h-1zM56 283h1v1h-1zM63 283h1v1h-1zM68 283h1v1h-1zM62 284h1v1h-1zM55 285h2v1h-2zM61 285h1v1h-1zM63 285h1v1h-1zM46 286h1v1h-1zM52 286h2v1h-2zM55 286h1v1h-1zM61 286h2v1h-2zM40 287h1v1h-1zM45 287h1v1h-1zM48 287h1v1h-1zM50 287h2v1h-2zM54 287h1v1h-1zM58 287h1v1h-1zM61 287h1v1h-1zM64 287h1v1h-1z" fill="#000" fill-opacity="0.50"/>
<path d="M48 239h1v1h-1zM44 241h1v1h-1zM51 241h1v1h-1zM45 242h1v1h-1zM48 243h2v1h-2zM50 244h1v1h-1zM42 245h2v1h-2zM46 245h1v1h-1zM49 245h1v1h-1zM44 247h1v1h-1zM46 247h1v1h-1zM49 247h1v1h-1zM42 248h1v1h-1zM44 249h1v1h-1zM46 249h1v1h-1zM48 249h1v1h-1zM51 249h1v1h-1zM45 250h1v1h-1zM43 251h1v1h-1zM47 251h1v1h-1zM61 253h1v1h-1zM61 254h1v1h-1zM60 266h2v1h-2zM47 267h1v1h-1zM52 267h1v1h-1zM54 267h1v1h-1zM55 268h1v1h-1zM52 270h1v1h-1zM57 270h1v1h-1zM46 271h1v1h-1zM47 272h1v1h-1zM53 272h2v1h-2zM54 273h2v1h-2zM50 274h1v1h-1zM53 274h2v1h-2zM56 274h1v1h-1zM58 274h1v1h-1zM61 274h2v1h-2zM50 275h1v1h-1zM52 275h1v1h-1zM54 275h1v1h-1zM45 276h1v1h-1zM54 276h2v1h-2zM57 276h1v1h-1zM63 276h1v1h-1zM50 277h1v1h-1zM57 277h1v1h-1zM61 277h2v1h-2zM52 278h1v1h-1zM56 278h1v1h-1zM62 278h1v1h-1zM68 279h1v1h-1zM59 280h1v1h-1zM63 280h1v1h-1zM60 282h1v1h-1zM65 282h1v1h-1zM40 283h1v1h-1zM61 284h1v1h-1zM69 284h1v1h-1zM60 285h1v1h-1zM49 286h1v1h-1zM57 286h2v1h-2zM43 287h1v1h-1zM46 287h2v1h-2z" fill="#000" fill-opacity="0.62"/>
<path d="M45 241h1v1h-1zM46 242h2v1h-2zM46 243h2v1h-2zM45 244h1v1h-1zM44 245h2v1h-2zM47 245h2v1h-2zM43 246h2v1h-2zM46 246h1v1h-1zM51 247h1v1h-1zM43 248h1v1h-1zM45 248h1v1h-1zM47 248h1v1h-1zM48 250h1v1h-1zM46 251h1v1h-1zM60 251h1v1h-1zM46 269h2v1h-2zM57 271h1v1h-1zM64 271h1v1h-1zM50 272h1v1h-1zM56 273h1v1h-1zM58 273h2v1h-2zM49 274h1v1h-1zM51 274h2v1h-2zM46 275h1v1h-1zM55 275h1v1h-1zM59 275h1v1h-1zM44 276h1v1h-1zM47 276h1v1h-1zM49 276h2v1h-2zM52 276h2v1h-2zM56 276h1v1h-1zM58 276h2v1h-2zM61 276h1v1h-1zM48 277h1v1h-1zM51 277h1v1h-1zM54 277h1v1h-1zM56 277h1v1h-1zM59 277h2v1h-2zM41 278h1v1h-1zM49 278h1v1h-1zM61 278h1v1h-1zM64 278h1v1h-1zM40 279h3v1h-3zM55 279h1v1h-1zM60 279h2v1h-2zM56 280h1v1h-1zM60 280h2v1h-2zM40 281h1v1h-1zM63 281h1v1h-1zM40 282h2v1h-2zM41 283h2v1h-2zM61 283h2v1h-2zM41 284h1v1h-1zM48 284h1v1h-1zM59 284h1v1h-1zM49 285h3v1h-3zM54 285h1v1h-1zM59 285h1v1h-1zM41 286h1v1h-1zM51 286h1v1h-1zM44 287h1v1h-1zM52 287h1v1h-1z" fill="#000" fill-opacity="0.75"/>
<path d="M44 242h1v1h-1zM45 243h1v1h-1zM46 244h2v1h-2zM45 246h1v1h-1zM47 246h1v1h-1zM45 247h1v1h-1zM47 247h1v1h-1zM48 248h1v1h-1zM56 275h1v1h-1zM51 276h1v1h-1zM41 277h1v1h-1zM43 277h5v1h-5zM49 277h1v1h-1zM52 277h2v1h-2zM55 277h1v1h-1zM58 277h1v1h-1zM42 278h7v1h-7zM50 278h2v1h-2zM53 278h3v1h-3zM57 278h3v1h-3zM43 279h12v1h-12zM56 279h3v1h-3zM41 280h15v1h-15zM57 280h2v1h-2zM62 280h1v1h-1zM41 281h19v1h-19zM61 281h1v1h-1zM42 282h18v1h-18zM43 283h13v1h-13zM57 283h4v1h-4zM42 284h6v1h-6zM49 284h7v1h-7zM57 284h2v1h-2zM60 284h1v1h-1zM41 285h8v1h-8zM52 285h2v1h-2zM57 285h2v1h-2zM42 286h4v1h-4zM47 286h2v1h-2zM50 286h1v1h-1zM54 286h1v1h-1z" fill="#000" fill-opacity="0.88"/>
<line x1="40.50" y1="262.50" x2="92.50" y2="262.50" stroke="#505050" stroke-width="1.0"/>
<line x1="51.50" y1="237.50" x2="51.50" y2="288.50" stroke="#3a3a3a" stroke-width="1.0"/>
<rect x="40.50" y="237.50" width="52.00" height="51.00" fill="none" stroke="#2a2a2a" stroke-width="1.2"/>
<text x="91.00" y="246.50" font-size="8.2" text-anchor="end" fill="#2a2a2a" stroke="#2a2a2a" stroke-width="0.12">5.6%</text>
<text x="29.04" y="290.50" font-size="5.3" fill="#222">10<tspan dy="-2.38" font-size="3.71">0</tspan></text>
<text x="29.04" y="277.77" font-size="5.3" fill="#222">10<tspan dy="-2.38" font-size="3.71">1</tspan></text>
<text x="29.04" y="264.50" font-size="5.3" fill="#222">10<tspan dy="-2.38" font-size="3.71">2</tspan></text>
<text x="29.04" y="252.32" font-size="5.3" fill="#222">10<tspan dy="-2.38" font-size="3.71">3</tspan></text>
<text x="29.04" y="239.60" font-size="5.3" fill="#222">10<tspan dy="-2.38" font-size="3.71">4</tspan></text>
<text x="38.12" y="298.90" font-size="5.3" fill="#222">10<tspan dy="-2.38" font-size="3.71">0</tspan></text>
<text x="49.67" y="298.90" font-size="5.3" fill="#222">10<tspan dy="-2.38" font-size="3.71">1</tspan></text>
<text x="61.75" y="298.90" font-size="5.3" fill="#222">10<tspan dy="-2.38" font-size="3.71">2</tspan></text>
<text x="74.87" y="298.90" font-size="5.3" fill="#222">10<tspan dy="-2.38" font-size="3.71">3</tspan></text>
<text x="85.11" y="298.90" font-size="5.3" fill="#222">10<tspan dy="-2.38" font-size="3.71">4</tspan></text>
<path d="M116 237h2v1h-2zM114 238h3v1h-3zM119 238h1v1h-1zM121 238h1v1h-1zM125 238h2v1h-2zM114 239h2v1h-2zM120 239h3v1h-3zM132 239h1v1h-1zM116 240h1v1h-1zM122 240h1v1h-1zM125 240h1v1h-1zM113 241h1v1h-1zM118 241h1v1h-1zM125 241h2v1h-2zM128 241h1v1h-1zM131 241h2v1h-2zM113 242h1v1h-1zM123 242h1v1h-1zM137 242h1v1h-1zM123 243h2v1h-2zM131 243h2v1h-2zM135 243h1v1h-1zM138 243h1v1h-1zM127 244h3v1h-3zM113 245h2v1h-2zM126 245h2v1h-2zM113 246h1v1h-1zM121 246h1v1h-1zM128 246h2v1h-2zM133 247h1v1h-1zM142 247h1v1h-1zM115 248h1v1h-1zM123 248h1v1h-1zM126 248h1v1h-1zM124 249h1v1h-1zM126 249h1v1h-1zM129 249h1v1h-1zM137 249h1v1h-1zM113 250h1v1h-1zM116 250h1v1h-1zM118 250h5v1h-5zM125 250h1v1h-1zM127 250h1v1h-1zM129 250h2v1h-2zM117 251h3v1h-3zM123 251h2v1h-2zM127 251h1v1h-1zM129 251h1v1h-1zM135 251h1v1h-1zM113 252h1v1h-1zM116 252h1v1h-1zM118 252h1v1h-1zM120 252h2v1h-2zM124 252h1v1h-1zM126 252h1v1h-1zM131 252h1v1h-1zM136 252h1v1h-1zM115 253h2v1h-2zM118 253h1v1h-1zM123 253h1v1h-1zM126 253h1v1h-1zM137 253h1v1h-1zM117 254h1v1h-1zM122 254h3v1h-3zM111 255h1v1h-1zM122 255h2v1h-2zM127 255h1v1h-1zM135 255h1v1h-1zM114 256h1v1h-1zM116 256h1v1h-1zM119 256h1v1h-1zM126 256h1v1h-1zM130 256h1v1h-1zM118 257h1v1h-1zM121 257h1v1h-1zM129 257h1v1h-1zM132 257h1v1h-1zM114 259h1v1h-1zM118 259h1v1h-1zM121 259h2v1h-2zM126 259h1v1h-1zM128 259h1v1h-1zM131 259h1v1h-1zM133 259h1v1h-1zM111 260h1v1h-1zM114 260h1v1h-1zM116 260h1v1h-1zM125 260h1v1h-1zM127 260h1v1h-1zM129 260h1v1h-1zM119 261h1v1h-1zM125 261h1v1h-1zM141 261h1v1h-1zM117 262h1v1h-1zM122 262h1v1h-1zM125 262h1v1h-1zM130 262h1v1h-1zM138 262h1v1h-1zM112 263h1v1h-1zM123 263h1v1h-1zM127 263h1v1h-1zM129 263h1v1h-1zM131 263h2v1h-2zM142 263h1v1h-1zM115 264h1v1h-1zM117 264h3v1h-3zM121 264h2v1h-2zM124 264h1v1h-1zM130 264h1v1h-1zM133 264h1v1h-1zM135 264h3v1h-3zM140 264h1v1h-1zM143 264h1v1h-1zM120 265h1v1h-1zM122 265h1v1h-1zM124 265h3v1h-3zM131 265h1v1h-1zM138 265h2v1h-2zM142 265h1v1h-1zM113 266h2v1h-2zM126 266h1v1h-1zM129 266h1v1h-1zM133 266h1v1h-1zM140 266h1v1h-1zM142 266h1v1h-1zM120 267h1v1h-1zM124 267h1v1h-1zM130 267h1v1h-1zM132 267h1v1h-1zM134 267h1v1h-1zM137 267h2v1h-2zM114 268h1v1h-1zM116 268h1v1h-1zM124 268h3v1h-3zM128 268h4v1h-4zM134 268h2v1h-2zM137 268h1v1h-1zM140 268h1v1h-1zM144 268h1v1h-1zM149 268h1v1h-1zM111 269h1v1h-1zM118 269h2v1h-2zM121 269h2v1h-2zM125 269h2v1h-2zM128 269h1v1h-1zM130 269h2v1h-2zM133 269h1v1h-1zM138 269h1v1h-1zM114 270h1v1h-1zM119 270h1v1h-1zM122 270h1v1h-1zM128 270h1v1h-1zM130 270h1v1h-1zM135 270h3v1h-3zM139 270h3v1h-3zM143 270h4v1h-4zM148 270h1v1h-1zM117 271h5v1h-5zM124 271h3v1h-3zM131 271h1v1h-1zM135 271h2v1h-2zM144 271h1v1h-1zM149 271h1v1h-1zM115 272h2v1h-2zM121 272h1v1h-1zM124 272h4v1h-4zM130 272h1v1h-1zM132 272h1v1h-1zM134 272h1v1h-1zM137 272h1v1h-1zM139 272h2v1h-2zM143 272h2v1h-2zM115 273h1v1h-1zM123 273h1v1h-1zM135 273h1v1h-1zM139 273h1v1h-1zM145 273h2v1h-2zM114 274h1v1h-1zM119 274h1v1h-1zM134 274h1v1h-1zM136 274h2v1h-2zM113 275h1v1h-1zM146 275h1v1h-1zM111 276h2v1h-2zM137 276h2v1h-2zM142 276h1v1h-1zM146 276h1v1h-1zM112 277h1v1h-1zM135 277h1v1h-1zM138 277h1v1h-1zM141 277h1v1h-1zM111 278h1v1h-1zM136 278h1v1h-1zM138 278h2v1h-2zM134 279h2v1h-2zM134 281h1v1h-1zM138 281h1v1h-1zM141 281h1v1h-1zM132 282h2v1h-2zM136 282h1v1h-1zM138 282h1v1h-1zM141 282h2v1h-2zM134 283h1v1h-1zM128 284h1v1h-1zM132 284h1v1h-1zM134 284h3v1h-3zM140 284h2v1h-2zM111 285h3v1h-3zM134 285h1v1h-1zM136 285h3v1h-3zM148 285h1v1h-1zM112 286h2v1h-2zM117 286h1v1h-1zM124 286h1v1h-1zM129 286h1v1h-1zM132 286h2v1h-2zM135 286h1v1h-1zM137 286h1v1h-1zM139 286h1v1h-1zM148 286h1v1h-1zM111 287h2v1h-2zM118 287h3v1h-3zM126 287h1v1h-1zM131 287h1v1h-1z" fill="#000" fill-opacity="0.25"/>
<path d="M120 238h1v1h-1zM117 239h1v1h-1zM119 239h1v1h-1zM115 240h1v1h-1zM121 240h1v1h-1zM114 241h2v1h-2zM120 241h1v1h-1zM127 241h1v1h-1zM122 242h1v1h-1zM113 243h1v1h-1zM120 243h1v1h-1zM112 244h2v1h-2zM121 244h1v1h-1zM123 244h1v1h-1zM121 245h1v1h-1zM122 246h1v1h-1zM126 246h1v1h-1zM114 247h2v1h-2zM123 247h1v1h-1zM127 247h1v1h-1zM129 247h1v1h-1zM117 248h1v1h-1zM119 248h3v1h-3zM125 248h1v1h-1zM119 249h1v1h-1zM128 250h1v1h-1zM115 251h1v1h-1zM131 251h1v1h-1zM119 252h1v1h-1zM123 252h1v1h-1zM119 253h1v1h-1zM128 253h1v1h-1zM119 254h1v1h-1zM122 257h1v1h-1zM123 258h1v1h-1zM142 258h1v1h-1zM122 263h1v1h-1zM126 263h1v1h-1zM128 264h1v1h-1zM131 264h1v1h-1zM123 265h1v1h-1zM129 265h1v1h-1zM124 266h2v1h-2zM128 266h1v1h-1zM134 266h1v1h-1zM115 267h1v1h-1zM118 267h1v1h-1zM126 267h1v1h-1zM136 267h1v1h-1zM132 268h1v1h-1zM141 268h1v1h-1zM143 268h1v1h-1zM123 269h1v1h-1zM129 269h1v1h-1zM132 269h1v1h-1zM134 269h1v1h-1zM116 270h1v1h-1zM120 270h1v1h-1zM123 270h2v1h-2zM132 270h1v1h-1zM116 271h1v1h-1zM123 271h1v1h-1zM132 271h1v1h-1zM134 271h1v1h-1zM117 272h3v1h-3zM128 272h1v1h-1zM131 272h1v1h-1zM133 272h1v1h-1zM136 272h1v1h-1zM116 273h1v1h-1zM119 273h1v1h-1zM132 273h2v1h-2zM137 273h1v1h-1zM117 274h1v1h-1zM120 274h1v1h-1zM125 274h1v1h-1zM131 274h1v1h-1zM138 274h2v1h-2zM141 274h1v1h-1zM111 275h1v1h-1zM116 275h1v1h-1zM119 275h1v1h-1zM128 275h2v1h-2zM134 275h2v1h-2zM137 275h1v1h-1zM139 275h1v1h-1zM114 276h1v1h-1zM135 276h1v1h-1zM123 277h1v1h-1zM136 277h1v1h-1zM137 279h1v1h-1zM136 280h2v1h-2zM135 281h1v1h-1zM137 281h1v1h-1zM111 282h1v1h-1zM135 282h1v1h-1zM111 283h1v1h-1zM136 283h1v1h-1zM113 284h1v1h-1zM114 285h1v1h-1zM118 285h1v1h-1zM121 285h1v1h-1zM130 285h1v1h-1zM111 286h1v1h-1zM118 286h1v1h-1zM136 286h1v1h-1zM114 287h1v1h-1zM123 287h1v1h-1zM127 287h1v1h-1z" fill="#000" fill-opacity="0.50"/>
<path d="M117 238h2v1h-2zM117 240h1v1h-1zM119 240h1v1h-1zM116 241h1v1h-1zM119 241h1v1h-1zM120 242h1v1h-1zM114 243h1v1h-1zM117 243h1v1h-1zM119 243h1v1h-1zM122 243h1v1h-1zM119 246h1v1h-1zM123 246h1v1h-1zM117 247h1v1h-1zM120 247h2v1h-2zM124 250h1v1h-1zM127 258h1v1h-1zM123 261h1v1h-1zM127 264h1v1h-1zM129 264h1v1h-1zM128 265h1v1h-1zM130 265h1v1h-1zM131 266h1v1h-1zM117 267h1v1h-1zM125 267h1v1h-1zM135 267h1v1h-1zM119 268h1v1h-1zM122 268h1v1h-1zM117 270h1v1h-1zM125 270h1v1h-1zM127 270h1v1h-1zM129 270h1v1h-1zM131 270h1v1h-1zM134 270h1v1h-1zM129 271h1v1h-1zM120 272h1v1h-1zM122 272h1v1h-1zM131 273h1v1h-1zM118 274h1v1h-1zM127 274h1v1h-1zM132 274h2v1h-2zM131 275h1v1h-1zM136 275h1v1h-1zM115 276h3v1h-3zM119 276h1v1h-1zM134 276h1v1h-1zM136 276h1v1h-1zM117 277h1v1h-1zM137 277h1v1h-1zM115 278h1v1h-1zM133 278h1v1h-1zM135 278h1v1h-1zM137 278h1v1h-1zM112 279h3v1h-3zM116 279h1v1h-1zM111 280h1v1h-1zM114 280h1v1h-1zM135 280h1v1h-1zM112 281h1v1h-1zM128 282h1v1h-1zM134 282h1v1h-1zM112 283h1v1h-1zM117 283h1v1h-1zM132 283h2v1h-2zM135 283h1v1h-1zM111 284h1v1h-1zM118 284h1v1h-1zM131 284h1v1h-1zM133 284h1v1h-1zM120 285h1v1h-1zM116 286h1v1h-1zM120 286h1v1h-1zM125 286h1v1h-1zM128 286h1v1h-1zM130 286h1v1h-1zM116 287h1v1h-1zM124 287h1v1h-1zM128 287h1v1h-1zM130 287h1v1h-1zM134 287h1v1h-1z" fill="#000" fill-opacity="0.62"/>
<path d="M116 239h1v1h-1zM114 240h1v1h-1zM118 240h1v1h-1zM120 240h1v1h-1zM114 242h2v1h-2zM119 242h1v1h-1zM116 243h1v1h-1zM118 243h1v1h-1zM115 244h2v1h-2zM115 245h4v1h-4zM118 246h1v1h-1zM120 246h1v1h-1zM122 247h1v1h-1zM125 247h1v1h-1zM116 248h1v1h-1zM117 249h1v1h-1zM125 264h1v1h-1zM124 269h1v1h-1zM126 270h1v1h-1zM128 271h1v1h-1zM129 272h1v1h-1zM138 272h1v1h-1zM118 273h1v1h-1zM120 273h1v1h-1zM122 273h1v1h-1zM127 273h2v1h-2zM130 273h1v1h-1zM122 274h3v1h-3zM129 274h2v1h-2zM135 274h1v1h-1zM118 275h1v1h-1zM120 275h1v1h-1zM122 275h1v1h-1zM127 275h1v1h-1zM130 275h1v1h-1zM132 275h2v1h-2zM118 276h1v1h-1zM123 276h1v1h-1zM131 276h2v1h-2zM113 277h4v1h-4zM119 277h1v1h-1zM121 277h1v1h-1zM132 277h3v1h-3zM112 278h3v1h-3zM117 278h2v1h-2zM120 278h1v1h-1zM129 278h4v1h-4zM134 278h1v1h-1zM115 279h1v1h-1zM129 279h1v1h-1zM133 279h1v1h-1zM112 280h2v1h-2zM133 280h2v1h-2zM111 281h1v1h-1zM113 281h1v1h-1zM120 281h1v1h-1zM133 281h1v1h-1zM136 281h1v1h-1zM113 282h1v1h-1zM122 282h1v1h-1zM129 282h1v1h-1zM122 283h2v1h-2zM130 283h1v1h-1zM112 284h1v1h-1zM114 284h1v1h-1zM119 284h1v1h-1zM122 284h3v1h-3zM126 284h1v1h-1zM130 284h1v1h-1zM115 285h1v1h-1zM119 285h1v1h-1zM122 285h2v1h-2zM126 285h1v1h-1zM129 285h1v1h-1zM131 285h3v1h-3zM115 286h1v1h-1zM119 286h1v1h-1zM122 286h2v1h-2zM126 286h2v1h-2zM131 286h1v1h-1z" fill="#000" fill-opacity="0.75"/>
<path d="M117 241h1v1h-1zM116 242h3v1h-3zM115 243h1v1h-1zM117 244h4v1h-4zM119 245h1v1h-1zM114 246h4v1h-4zM116 247h1v1h-1zM118 247h1v1h-1zM118 248h1v1h-1zM122 271h1v1h-1zM127 271h1v1h-1zM121 273h1v1h-1zM125 273h2v1h-2zM129 273h1v1h-1zM121 274h1v1h-1zM126 274h1v1h-1zM128 274h1v1h-1zM117 275h1v1h-1zM121 275h1v1h-1zM123 275h4v1h-4zM120 276h3v1h-3zM124 276h7v1h-7zM133 276h1v1h-1zM118 277h1v1h-1zM120 277h1v1h-1zM122 277h1v1h-1zM124 277h8v1h-8zM116 278h1v1h-1zM119 278h1v1h-1zM121 278h8v1h-8zM117 279h12v1h-12zM130 279h3v1h-3zM115 280h18v1h-18zM114 281h6v1h-6zM121 281h12v1h-12zM112 282h1v1h-1zM114 282h8v1h-8zM123 282h5v1h-5zM130 282h2v1h-2zM113 283h4v1h-4zM118 283h4v1h-4zM124 283h6v1h-6zM131 283h1v1h-1zM115 284h3v1h-3zM120 284h2v1h-2zM125 284h1v1h-1zM127 284h1v1h-1zM129 284h1v1h-1zM116 285h1v1h-1zM124 285h2v1h-2zM127 285h1v1h-1z" fill="#000" fill-opacity="0.88"/>
<line x1="110.50" y1="262.50" x2="162.50" y2="262.50" stroke="#505050" stroke-width="1.0"/>
<line x1="121.50" y1="237.50" x2="121.50" y2="288.50" stroke="#3a3a3a" stroke-width="1.0"/>
<rect x="110.50" y="237.50" width="52.00" height="51.00" fill="none" stroke="#2a2a2a" stroke-width="1.2"/>
<text x="158.80" y="246.50" font-size="8.2" text-anchor="end" fill="#2a2a2a" stroke="#2a2a2a" stroke-width="0.12">6.8%</text>
<text x="99.74" y="290.60" font-size="5.3" fill="#222">10<tspan dy="-2.38" font-size="3.71">0</tspan></text>
<text x="99.74" y="277.80" font-size="5.3" fill="#222">10<tspan dy="-2.38" font-size="3.71">1</tspan></text>
<text x="99.74" y="264.20" font-size="5.3" fill="#222">10<tspan dy="-2.38" font-size="3.71">2</tspan></text>
<text x="99.74" y="252.20" font-size="5.3" fill="#222">10<tspan dy="-2.38" font-size="3.71">3</tspan></text>
<text x="99.74" y="239.40" font-size="5.3" fill="#222">10<tspan dy="-2.38" font-size="3.71">4</tspan></text>
<text x="108.80" y="299.00" font-size="5.3" fill="#222">10<tspan dy="-2.38" font-size="3.71">0</tspan></text>
<text x="120.24" y="299.00" font-size="5.3" fill="#222">10<tspan dy="-2.38" font-size="3.71">1</tspan></text>
<text x="132.20" y="299.00" font-size="5.3" fill="#222">10<tspan dy="-2.38" font-size="3.71">2</tspan></text>
<text x="145.20" y="299.00" font-size="5.3" fill="#222">10<tspan dy="-2.38" font-size="3.71">3</tspan></text>
<text x="155.34" y="299.00" font-size="5.3" fill="#222">10<tspan dy="-2.38" font-size="3.71">4</tspan></text>
<path d="M189 236h1v1h-1zM185 237h1v1h-1zM190 237h1v1h-1zM206 237h1v1h-1zM187 238h2v1h-2zM191 238h2v1h-2zM184 239h1v1h-1zM191 239h2v1h-2zM194 239h1v1h-1zM185 240h1v1h-1zM190 240h1v1h-1zM193 240h1v1h-1zM203 240h1v1h-1zM182 241h1v1h-1zM184 241h1v1h-1zM194 241h2v1h-2zM201 241h1v1h-1zM204 241h1v1h-1zM183 242h1v1h-1zM193 242h1v1h-1zM195 242h1v1h-1zM199 242h3v1h-3zM206 242h1v1h-1zM193 243h1v1h-1zM197 243h1v1h-1zM199 243h1v1h-1zM201 243h1v1h-1zM206 243h1v1h-1zM183 244h1v1h-1zM187 244h1v1h-1zM192 244h1v1h-1zM194 244h1v1h-1zM197 244h1v1h-1zM204 244h1v1h-1zM207 244h1v1h-1zM211 244h1v1h-1zM195 245h1v1h-1zM197 245h1v1h-1zM209 245h1v1h-1zM183 246h1v1h-1zM191 246h1v1h-1zM193 246h3v1h-3zM198 246h3v1h-3zM190 247h5v1h-5zM197 247h1v1h-1zM199 247h3v1h-3zM204 247h1v1h-1zM208 247h1v1h-1zM213 247h1v1h-1zM184 248h1v1h-1zM186 248h1v1h-1zM191 248h1v1h-1zM194 248h1v1h-1zM197 248h1v1h-1zM200 248h1v1h-1zM203 248h1v1h-1zM183 249h2v1h-2zM188 249h2v1h-2zM199 249h1v1h-1zM207 249h1v1h-1zM183 250h1v1h-1zM185 250h1v1h-1zM187 250h2v1h-2zM191 250h2v1h-2zM195 250h2v1h-2zM199 250h2v1h-2zM205 250h1v1h-1zM184 251h1v1h-1zM194 251h1v1h-1zM201 251h1v1h-1zM204 251h1v1h-1zM208 251h1v1h-1zM188 252h2v1h-2zM192 252h1v1h-1zM194 252h1v1h-1zM196 252h1v1h-1zM204 252h2v1h-2zM193 253h1v1h-1zM195 253h1v1h-1zM202 253h1v1h-1zM196 254h2v1h-2zM201 254h1v1h-1zM207 254h1v1h-1zM190 255h1v1h-1zM194 255h1v1h-1zM202 255h3v1h-3zM206 255h1v1h-1zM186 256h1v1h-1zM188 256h1v1h-1zM197 256h1v1h-1zM203 256h1v1h-1zM210 256h1v1h-1zM185 257h1v1h-1zM191 257h1v1h-1zM203 257h1v1h-1zM205 257h1v1h-1zM190 258h1v1h-1zM196 258h1v1h-1zM201 258h1v1h-1zM196 259h1v1h-1zM198 259h2v1h-2zM202 259h1v1h-1zM206 259h1v1h-1zM184 260h1v1h-1zM197 260h2v1h-2zM208 260h1v1h-1zM213 260h1v1h-1zM186 261h1v1h-1zM196 261h1v1h-1zM200 261h1v1h-1zM203 261h1v1h-1zM208 261h1v1h-1zM196 262h1v1h-1zM198 262h1v1h-1zM201 262h2v1h-2zM204 262h1v1h-1zM207 262h1v1h-1zM211 262h1v1h-1zM214 262h1v1h-1zM186 263h1v1h-1zM194 263h1v1h-1zM196 263h1v1h-1zM198 263h1v1h-1zM201 263h4v1h-4zM216 263h1v1h-1zM196 264h1v1h-1zM199 264h1v1h-1zM202 264h1v1h-1zM205 264h1v1h-1zM208 264h1v1h-1zM190 265h2v1h-2zM195 265h1v1h-1zM200 265h2v1h-2zM205 265h1v1h-1zM210 265h1v1h-1zM216 265h1v1h-1zM225 265h1v1h-1zM200 266h1v1h-1zM203 266h1v1h-1zM205 266h1v1h-1zM208 266h1v1h-1zM210 266h2v1h-2zM215 266h2v1h-2zM218 266h1v1h-1zM185 267h1v1h-1zM189 267h1v1h-1zM193 267h1v1h-1zM195 267h2v1h-2zM199 267h1v1h-1zM202 267h1v1h-1zM205 267h1v1h-1zM210 267h4v1h-4zM217 267h1v1h-1zM182 268h1v1h-1zM190 268h1v1h-1zM193 268h4v1h-4zM199 268h1v1h-1zM204 268h4v1h-4zM217 268h2v1h-2zM190 269h1v1h-1zM192 269h3v1h-3zM197 269h2v1h-2zM202 269h1v1h-1zM204 269h1v1h-1zM206 269h1v1h-1zM209 269h2v1h-2zM189 270h1v1h-1zM193 270h1v1h-1zM195 270h1v1h-1zM197 270h2v1h-2zM200 270h1v1h-1zM202 270h2v1h-2zM207 270h2v1h-2zM211 270h4v1h-4zM183 271h1v1h-1zM188 271h1v1h-1zM194 271h2v1h-2zM202 271h1v1h-1zM204 271h1v1h-1zM208 271h1v1h-1zM212 271h1v1h-1zM215 271h2v1h-2zM218 271h1v1h-1zM221 271h1v1h-1zM185 272h1v1h-1zM192 272h3v1h-3zM197 272h1v1h-1zM199 272h1v1h-1zM202 272h2v1h-2zM208 272h2v1h-2zM213 272h3v1h-3zM187 273h1v1h-1zM189 273h1v1h-1zM193 273h1v1h-1zM205 273h1v1h-1zM211 273h1v1h-1zM215 273h1v1h-1zM187 274h1v1h-1zM189 274h1v1h-1zM194 274h1v1h-1zM207 274h2v1h-2zM210 274h1v1h-1zM213 274h1v1h-1zM217 274h1v1h-1zM185 275h1v1h-1zM191 275h1v1h-1zM217 275h1v1h-1zM185 276h1v1h-1zM190 276h1v1h-1zM209 276h1v1h-1zM211 276h1v1h-1zM216 276h1v1h-1zM183 277h2v1h-2zM187 277h1v1h-1zM190 277h1v1h-1zM192 277h1v1h-1zM194 277h1v1h-1zM215 277h1v1h-1zM183 278h2v1h-2zM191 278h1v1h-1zM183 279h2v1h-2zM192 279h2v1h-2zM212 279h2v1h-2zM218 279h1v1h-1zM184 280h1v1h-1zM188 280h1v1h-1zM190 280h1v1h-1zM192 280h1v1h-1zM215 280h1v1h-1zM182 281h1v1h-1zM190 281h2v1h-2zM209 281h2v1h-2zM182 282h1v1h-1zM210 282h3v1h-3zM217 282h1v1h-1zM184 283h1v1h-1zM187 283h1v1h-1zM190 283h1v1h-1zM210 283h3v1h-3zM185 284h1v1h-1zM189 284h1v1h-1zM193 284h1v1h-1zM209 284h1v1h-1zM213 284h2v1h-2zM183 285h2v1h-2zM186 285h2v1h-2zM189 285h1v1h-1zM192 285h1v1h-1zM207 285h1v1h-1zM212 285h2v1h-2zM218 285h1v1h-1zM184 286h1v1h-1zM191 286h1v1h-1zM193 286h1v1h-1zM206 286h1v1h-1zM208 286h1v1h-1zM212 286h1v1h-1zM191 287h1v1h-1zM193 287h2v1h-2zM201 287h2v1h-2zM204 287h3v1h-3zM209 287h2v1h-2z" fill="#000" fill-opacity="0.25"/>
<path d="M187 237h2v1h-2zM189 238h1v1h-1zM186 240h1v1h-1zM191 240h1v1h-1zM194 240h1v1h-1zM183 241h1v1h-1zM190 241h3v1h-3zM196 241h1v1h-1zM184 242h1v1h-1zM184 243h1v1h-1zM191 243h1v1h-1zM185 244h1v1h-1zM193 244h1v1h-1zM203 244h1v1h-1zM185 245h1v1h-1zM190 245h2v1h-2zM194 245h1v1h-1zM199 245h1v1h-1zM184 246h1v1h-1zM192 246h1v1h-1zM205 246h1v1h-1zM195 247h2v1h-2zM198 247h1v1h-1zM185 249h1v1h-1zM187 249h1v1h-1zM190 249h3v1h-3zM189 250h2v1h-2zM193 250h1v1h-1zM198 250h1v1h-1zM200 251h1v1h-1zM194 253h1v1h-1zM200 253h1v1h-1zM192 254h1v1h-1zM199 254h1v1h-1zM200 255h1v1h-1zM196 257h1v1h-1zM198 258h1v1h-1zM201 260h1v1h-1zM198 261h1v1h-1zM205 261h1v1h-1zM197 262h1v1h-1zM193 263h1v1h-1zM206 263h1v1h-1zM208 263h1v1h-1zM197 264h1v1h-1zM203 264h1v1h-1zM206 264h1v1h-1zM196 265h1v1h-1zM199 265h1v1h-1zM207 265h2v1h-2zM195 266h2v1h-2zM199 266h1v1h-1zM201 266h1v1h-1zM204 266h1v1h-1zM206 266h1v1h-1zM209 266h1v1h-1zM204 267h1v1h-1zM208 267h1v1h-1zM218 267h1v1h-1zM198 268h1v1h-1zM200 268h2v1h-2zM203 269h1v1h-1zM207 269h1v1h-1zM191 270h1v1h-1zM201 270h1v1h-1zM205 270h2v1h-2zM193 271h1v1h-1zM197 271h2v1h-2zM201 271h1v1h-1zM205 271h1v1h-1zM189 272h1v1h-1zM204 272h3v1h-3zM211 272h2v1h-2zM195 273h1v1h-1zM197 273h1v1h-1zM200 273h1v1h-1zM202 273h1v1h-1zM204 273h1v1h-1zM213 273h1v1h-1zM200 274h1v1h-1zM203 274h1v1h-1zM205 274h2v1h-2zM209 274h1v1h-1zM211 274h2v1h-2zM195 275h1v1h-1zM208 275h4v1h-4zM216 275h1v1h-1zM186 276h1v1h-1zM188 276h1v1h-1zM191 276h1v1h-1zM193 276h1v1h-1zM195 276h1v1h-1zM207 276h2v1h-2zM213 276h1v1h-1zM186 277h1v1h-1zM189 277h1v1h-1zM191 277h1v1h-1zM193 277h1v1h-1zM208 277h1v1h-1zM210 277h1v1h-1zM216 277h1v1h-1zM185 278h1v1h-1zM190 278h1v1h-1zM193 278h1v1h-1zM211 278h2v1h-2zM195 279h1v1h-1zM183 280h1v1h-1zM193 280h1v1h-1zM208 280h1v1h-1zM210 280h2v1h-2zM213 280h1v1h-1zM184 281h1v1h-1zM211 281h1v1h-1zM184 282h1v1h-1zM186 282h4v1h-4zM192 282h1v1h-1zM194 282h1v1h-1zM183 283h1v1h-1zM189 283h1v1h-1zM191 283h1v1h-1zM193 283h1v1h-1zM188 284h1v1h-1zM194 284h1v1h-1zM208 284h1v1h-1zM210 284h2v1h-2zM208 285h1v1h-1zM211 285h1v1h-1zM203 286h1v1h-1zM210 286h1v1h-1zM190 287h1v1h-1zM192 287h1v1h-1zM196 287h3v1h-3zM200 287h1v1h-1zM203 287h1v1h-1z" fill="#000" fill-opacity="0.50"/>
<path d="M190 238h1v1h-1zM187 239h2v1h-2zM188 240h1v1h-1zM192 240h1v1h-1zM187 241h1v1h-1zM193 241h1v1h-1zM191 242h1v1h-1zM187 243h1v1h-1zM192 245h2v1h-2zM186 246h1v1h-1zM190 246h1v1h-1zM204 246h1v1h-1zM186 247h1v1h-1zM187 248h1v1h-1zM189 248h2v1h-2zM192 248h1v1h-1zM196 248h1v1h-1zM197 265h1v1h-1zM203 265h1v1h-1zM207 267h1v1h-1zM202 268h1v1h-1zM214 268h1v1h-1zM199 269h3v1h-3zM205 269h1v1h-1zM211 269h1v1h-1zM199 270h1v1h-1zM209 270h1v1h-1zM203 271h1v1h-1zM196 272h1v1h-1zM198 272h1v1h-1zM200 272h2v1h-2zM210 272h1v1h-1zM192 273h1v1h-1zM198 273h2v1h-2zM201 273h1v1h-1zM208 273h2v1h-2zM190 274h1v1h-1zM193 274h1v1h-1zM195 274h1v1h-1zM201 274h1v1h-1zM186 275h2v1h-2zM190 275h1v1h-1zM193 275h1v1h-1zM202 275h1v1h-1zM207 275h1v1h-1zM189 276h1v1h-1zM196 276h1v1h-1zM205 276h1v1h-1zM210 276h1v1h-1zM185 277h1v1h-1zM188 277h1v1h-1zM207 277h1v1h-1zM189 278h1v1h-1zM210 278h1v1h-1zM185 279h1v1h-1zM188 279h1v1h-1zM198 279h1v1h-1zM207 279h1v1h-1zM210 279h2v1h-2zM192 281h1v1h-1zM208 282h2v1h-2zM188 283h1v1h-1zM192 283h1v1h-1zM207 283h1v1h-1zM186 284h2v1h-2zM190 284h1v1h-1zM192 284h1v1h-1zM203 284h1v1h-1zM185 285h1v1h-1zM188 285h1v1h-1zM195 285h1v1h-1zM205 285h1v1h-1zM205 286h1v1h-1zM209 286h1v1h-1z" fill="#000" fill-opacity="0.62"/>
<path d="M185 239h2v1h-2zM189 239h2v1h-2zM187 240h1v1h-1zM189 240h1v1h-1zM185 241h2v1h-2zM188 241h2v1h-2zM185 242h1v1h-1zM190 242h1v1h-1zM185 243h1v1h-1zM189 244h1v1h-1zM191 244h1v1h-1zM183 245h1v1h-1zM189 245h1v1h-1zM185 246h1v1h-1zM189 246h1v1h-1zM185 247h1v1h-1zM189 247h1v1h-1zM188 248h1v1h-1zM199 262h1v1h-1zM212 264h1v1h-1zM198 266h1v1h-1zM211 268h1v1h-1zM195 272h1v1h-1zM206 273h1v1h-1zM196 274h1v1h-1zM202 274h1v1h-1zM194 275h1v1h-1zM196 275h1v1h-1zM198 275h2v1h-2zM203 275h1v1h-1zM205 275h1v1h-1zM187 276h1v1h-1zM192 276h1v1h-1zM197 276h1v1h-1zM204 276h1v1h-1zM206 276h1v1h-1zM195 277h3v1h-3zM209 277h1v1h-1zM188 278h1v1h-1zM192 278h1v1h-1zM194 278h1v1h-1zM207 278h1v1h-1zM191 279h1v1h-1zM209 279h1v1h-1zM185 280h1v1h-1zM187 280h1v1h-1zM191 280h1v1h-1zM195 280h1v1h-1zM206 280h2v1h-2zM185 281h1v1h-1zM187 281h1v1h-1zM194 281h1v1h-1zM201 281h1v1h-1zM206 281h1v1h-1zM208 281h1v1h-1zM191 282h1v1h-1zM193 282h1v1h-1zM206 282h1v1h-1zM196 283h1v1h-1zM195 284h2v1h-2zM205 284h2v1h-2zM194 285h1v1h-1zM196 285h2v1h-2zM201 285h1v1h-1zM203 285h1v1h-1zM195 286h1v1h-1zM201 286h2v1h-2zM204 286h1v1h-1zM199 287h1v1h-1z" fill="#000" fill-opacity="0.75"/>
<path d="M184 240h1v1h-1zM186 242h4v1h-4zM186 243h1v1h-1zM188 243h3v1h-3zM184 244h1v1h-1zM186 244h1v1h-1zM188 244h1v1h-1zM190 244h1v1h-1zM186 245h3v1h-3zM187 246h2v1h-2zM187 247h2v1h-2zM203 267h1v1h-1zM203 273h1v1h-1zM197 274h1v1h-1zM199 274h1v1h-1zM204 274h1v1h-1zM197 275h1v1h-1zM201 275h1v1h-1zM204 275h1v1h-1zM206 275h1v1h-1zM198 276h6v1h-6zM198 277h9v1h-9zM187 278h1v1h-1zM195 278h12v1h-12zM208 278h1v1h-1zM186 279h2v1h-2zM194 279h1v1h-1zM196 279h2v1h-2zM199 279h8v1h-8zM208 279h1v1h-1zM186 280h1v1h-1zM189 280h1v1h-1zM194 280h1v1h-1zM196 280h10v1h-10zM209 280h1v1h-1zM186 281h1v1h-1zM188 281h1v1h-1zM193 281h1v1h-1zM195 281h6v1h-6zM202 281h4v1h-4zM207 281h1v1h-1zM185 282h1v1h-1zM195 282h11v1h-11zM207 282h1v1h-1zM185 283h2v1h-2zM194 283h2v1h-2zM197 283h10v1h-10zM208 283h1v1h-1zM197 284h6v1h-6zM204 284h1v1h-1zM207 284h1v1h-1zM198 285h3v1h-3zM202 285h1v1h-1zM204 285h1v1h-1zM206 285h1v1h-1zM198 286h3v1h-3zM207 286h1v1h-1z" fill="#000" fill-opacity="0.88"/>
<line x1="182.50" y1="261.50" x2="233.50" y2="261.50" stroke="#505050" stroke-width="1.0"/>
<line x1="192.50" y1="236.50" x2="192.50" y2="288.50" stroke="#3a3a3a" stroke-width="1.0"/>
<rect x="182.50" y="236.50" width="51.00" height="52.00" fill="none" stroke="#2a2a2a" stroke-width="1.2"/>
<text x="228.30" y="246.50" font-size="8.2" text-anchor="end" fill="#2a2a2a" stroke="#2a2a2a" stroke-width="0.12">11%</text>
<text x="171.04" y="290.40" font-size="5.3" fill="#222">10<tspan dy="-2.38" font-size="3.71">0</tspan></text>
<text x="171.04" y="277.43" font-size="5.3" fill="#222">10<tspan dy="-2.38" font-size="3.71">1</tspan></text>
<text x="171.04" y="263.60" font-size="5.3" fill="#222">10<tspan dy="-2.38" font-size="3.71">2</tspan></text>
<text x="171.04" y="251.47" font-size="5.3" fill="#222">10<tspan dy="-2.38" font-size="3.71">3</tspan></text>
<text x="171.04" y="238.50" font-size="5.3" fill="#222">10<tspan dy="-2.38" font-size="3.71">4</tspan></text>
<text x="180.10" y="298.80" font-size="5.3" fill="#222">10<tspan dy="-2.38" font-size="3.71">0</tspan></text>
<text x="191.52" y="298.80" font-size="5.3" fill="#222">10<tspan dy="-2.38" font-size="3.71">1</tspan></text>
<text x="203.45" y="298.80" font-size="5.3" fill="#222">10<tspan dy="-2.38" font-size="3.71">2</tspan></text>
<text x="216.43" y="298.80" font-size="5.3" fill="#222">10<tspan dy="-2.38" font-size="3.71">3</tspan></text>
<text x="226.55" y="298.80" font-size="5.3" fill="#222">10<tspan dy="-2.38" font-size="3.71">4</tspan></text>
<path d="M261 236h1v1h-1zM254 237h1v1h-1zM258 237h1v1h-1zM260 237h1v1h-1zM262 237h1v1h-1zM255 238h1v1h-1zM261 238h1v1h-1zM275 238h1v1h-1zM253 239h3v1h-3zM261 239h2v1h-2zM252 240h1v1h-1zM263 240h1v1h-1zM253 241h1v1h-1zM263 241h3v1h-3zM269 241h1v1h-1zM252 242h2v1h-2zM263 242h1v1h-1zM275 242h1v1h-1zM265 243h1v1h-1zM268 243h1v1h-1zM251 244h2v1h-2zM265 244h1v1h-1zM253 245h1v1h-1zM264 245h4v1h-4zM271 245h1v1h-1zM273 245h1v1h-1zM263 246h1v1h-1zM267 246h1v1h-1zM269 246h2v1h-2zM273 246h1v1h-1zM262 247h1v1h-1zM266 247h1v1h-1zM272 247h1v1h-1zM258 248h1v1h-1zM261 248h1v1h-1zM263 248h1v1h-1zM265 248h4v1h-4zM271 248h1v1h-1zM276 248h1v1h-1zM254 249h2v1h-2zM257 249h1v1h-1zM266 249h1v1h-1zM268 249h1v1h-1zM272 249h1v1h-1zM253 250h3v1h-3zM259 250h2v1h-2zM262 250h1v1h-1zM267 250h2v1h-2zM275 250h2v1h-2zM255 251h1v1h-1zM257 251h1v1h-1zM259 251h2v1h-2zM263 251h1v1h-1zM265 251h2v1h-2zM269 251h1v1h-1zM272 251h2v1h-2zM278 251h2v1h-2zM254 252h1v1h-1zM258 252h1v1h-1zM260 252h2v1h-2zM265 252h1v1h-1zM267 252h2v1h-2zM272 252h1v1h-1zM275 252h1v1h-1zM277 252h1v1h-1zM254 253h1v1h-1zM257 253h2v1h-2zM263 253h3v1h-3zM272 253h1v1h-1zM274 253h1v1h-1zM278 253h1v1h-1zM252 254h1v1h-1zM257 254h1v1h-1zM273 254h1v1h-1zM275 254h2v1h-2zM254 255h3v1h-3zM260 255h1v1h-1zM263 255h1v1h-1zM267 255h2v1h-2zM252 256h1v1h-1zM255 256h1v1h-1zM257 256h1v1h-1zM259 256h2v1h-2zM267 256h2v1h-2zM274 256h1v1h-1zM276 256h1v1h-1zM278 256h1v1h-1zM255 257h1v1h-1zM259 257h1v1h-1zM261 257h2v1h-2zM264 257h1v1h-1zM266 257h1v1h-1zM268 257h1v1h-1zM270 257h1v1h-1zM283 257h1v1h-1zM255 258h1v1h-1zM258 258h1v1h-1zM260 258h2v1h-2zM264 258h1v1h-1zM268 258h1v1h-1zM273 258h1v1h-1zM278 258h1v1h-1zM259 259h1v1h-1zM265 259h1v1h-1zM267 259h2v1h-2zM271 259h1v1h-1zM273 259h1v1h-1zM276 259h1v1h-1zM259 260h2v1h-2zM262 260h2v1h-2zM271 260h1v1h-1zM273 260h3v1h-3zM277 260h1v1h-1zM262 261h1v1h-1zM264 261h1v1h-1zM268 261h1v1h-1zM271 261h1v1h-1zM275 261h2v1h-2zM279 261h1v1h-1zM283 261h1v1h-1zM255 262h3v1h-3zM260 262h1v1h-1zM263 262h1v1h-1zM265 262h4v1h-4zM272 262h1v1h-1zM279 262h2v1h-2zM263 263h1v1h-1zM265 263h1v1h-1zM267 263h1v1h-1zM271 263h1v1h-1zM280 263h2v1h-2zM257 264h1v1h-1zM260 264h1v1h-1zM262 264h1v1h-1zM265 264h1v1h-1zM269 264h1v1h-1zM271 264h2v1h-2zM275 264h1v1h-1zM277 264h1v1h-1zM279 264h1v1h-1zM257 265h1v1h-1zM259 265h1v1h-1zM261 265h1v1h-1zM263 265h1v1h-1zM267 265h7v1h-7zM275 265h1v1h-1zM257 266h3v1h-3zM262 266h1v1h-1zM266 266h1v1h-1zM269 266h1v1h-1zM271 266h5v1h-5zM280 266h1v1h-1zM282 266h1v1h-1zM287 266h1v1h-1zM254 267h1v1h-1zM264 267h1v1h-1zM266 267h1v1h-1zM268 267h1v1h-1zM275 267h1v1h-1zM278 267h1v1h-1zM280 267h1v1h-1zM288 267h1v1h-1zM264 268h1v1h-1zM270 268h1v1h-1zM278 268h2v1h-2zM282 268h1v1h-1zM262 269h3v1h-3zM266 269h1v1h-1zM269 269h1v1h-1zM273 269h1v1h-1zM278 269h1v1h-1zM259 270h2v1h-2zM265 270h2v1h-2zM270 270h1v1h-1zM272 270h1v1h-1zM275 270h2v1h-2zM279 270h2v1h-2zM283 270h1v1h-1zM290 270h1v1h-1zM257 271h1v1h-1zM260 271h1v1h-1zM262 271h3v1h-3zM270 271h1v1h-1zM272 271h2v1h-2zM275 271h1v1h-1zM283 271h1v1h-1zM289 271h1v1h-1zM251 272h1v1h-1zM254 272h1v1h-1zM259 272h2v1h-2zM262 272h2v1h-2zM269 272h1v1h-1zM272 272h1v1h-1zM278 272h1v1h-1zM281 272h1v1h-1zM283 272h1v1h-1zM253 273h3v1h-3zM257 273h2v1h-2zM266 273h1v1h-1zM275 273h6v1h-6zM252 274h1v1h-1zM254 274h1v1h-1zM259 274h3v1h-3zM268 274h1v1h-1zM272 274h1v1h-1zM277 274h2v1h-2zM281 274h2v1h-2zM286 274h1v1h-1zM255 275h2v1h-2zM259 275h2v1h-2zM264 275h2v1h-2zM277 275h1v1h-1zM279 275h1v1h-1zM282 275h2v1h-2zM254 276h1v1h-1zM257 276h1v1h-1zM278 276h1v1h-1zM281 276h1v1h-1zM252 277h1v1h-1zM258 277h2v1h-2zM262 277h1v1h-1zM265 277h1v1h-1zM283 277h1v1h-1zM260 278h2v1h-2zM263 278h1v1h-1zM281 278h3v1h-3zM251 279h2v1h-2zM259 279h1v1h-1zM253 280h1v1h-1zM260 280h3v1h-3zM280 280h2v1h-2zM283 280h1v1h-1zM285 280h1v1h-1zM287 280h1v1h-1zM259 281h1v1h-1zM263 281h1v1h-1zM281 281h1v1h-1zM285 281h1v1h-1zM255 282h1v1h-1zM260 282h2v1h-2zM279 282h1v1h-1zM281 282h1v1h-1zM259 283h1v1h-1zM283 283h1v1h-1zM258 284h2v1h-2zM263 284h1v1h-1zM280 284h1v1h-1zM254 285h1v1h-1zM256 285h2v1h-2zM262 285h2v1h-2zM281 285h1v1h-1zM254 286h3v1h-3zM259 286h1v1h-1zM266 286h1v1h-1zM278 286h2v1h-2zM282 286h1v1h-1zM261 287h2v1h-2zM266 287h1v1h-1zM268 287h2v1h-2zM272 287h1v1h-1zM278 287h1v1h-1z" fill="#000" fill-opacity="0.25"/>
<path d="M257 238h2v1h-2zM258 239h2v1h-2zM253 240h1v1h-1zM254 241h1v1h-1zM253 243h1v1h-1zM254 244h1v1h-1zM264 244h1v1h-1zM268 244h1v1h-1zM263 245h1v1h-1zM253 246h1v1h-1zM264 246h2v1h-2zM263 247h1v1h-1zM265 247h1v1h-1zM253 248h1v1h-1zM255 248h2v1h-2zM259 248h2v1h-2zM262 248h1v1h-1zM264 248h1v1h-1zM264 249h1v1h-1zM267 249h1v1h-1zM271 249h1v1h-1zM256 250h2v1h-2zM261 250h1v1h-1zM263 250h2v1h-2zM253 251h1v1h-1zM258 251h1v1h-1zM262 251h1v1h-1zM271 251h1v1h-1zM255 252h1v1h-1zM256 253h1v1h-1zM259 253h1v1h-1zM269 253h1v1h-1zM273 253h1v1h-1zM256 254h1v1h-1zM262 254h1v1h-1zM266 254h1v1h-1zM268 254h2v1h-2zM262 255h1v1h-1zM265 255h1v1h-1zM269 255h1v1h-1zM272 255h2v1h-2zM275 255h1v1h-1zM262 256h1v1h-1zM269 256h1v1h-1zM257 257h1v1h-1zM269 257h1v1h-1zM272 257h1v1h-1zM258 259h1v1h-1zM269 259h1v1h-1zM275 259h1v1h-1zM266 260h2v1h-2zM261 261h1v1h-1zM273 261h2v1h-2zM258 262h1v1h-1zM269 262h1v1h-1zM273 262h1v1h-1zM284 262h1v1h-1zM264 263h1v1h-1zM269 263h1v1h-1zM277 263h1v1h-1zM263 264h1v1h-1zM266 265h1v1h-1zM274 265h1v1h-1zM279 265h2v1h-2zM261 266h1v1h-1zM265 266h1v1h-1zM270 266h1v1h-1zM278 266h2v1h-2zM262 267h2v1h-2zM270 267h1v1h-1zM274 267h1v1h-1zM276 267h2v1h-2zM267 268h2v1h-2zM275 268h1v1h-1zM261 269h1v1h-1zM267 269h1v1h-1zM274 269h1v1h-1zM264 270h1v1h-1zM267 270h2v1h-2zM277 270h1v1h-1zM281 270h1v1h-1zM268 271h2v1h-2zM271 271h1v1h-1zM274 271h1v1h-1zM280 271h1v1h-1zM257 272h1v1h-1zM266 272h1v1h-1zM271 272h1v1h-1zM273 272h1v1h-1zM275 272h3v1h-3zM280 272h1v1h-1zM263 273h1v1h-1zM268 273h2v1h-2zM282 273h1v1h-1zM257 274h1v1h-1zM262 274h3v1h-3zM276 274h1v1h-1zM258 275h1v1h-1zM262 275h2v1h-2zM278 275h1v1h-1zM280 275h1v1h-1zM256 276h1v1h-1zM258 276h1v1h-1zM277 276h1v1h-1zM279 276h2v1h-2zM263 277h1v1h-1zM279 277h2v1h-2zM253 278h2v1h-2zM257 278h1v1h-1zM278 278h1v1h-1zM280 278h1v1h-1zM253 279h1v1h-1zM261 279h1v1h-1zM279 279h1v1h-1zM252 280h1v1h-1zM263 280h1v1h-1zM253 281h1v1h-1zM262 281h1v1h-1zM256 282h1v1h-1zM258 282h2v1h-2zM261 283h3v1h-3zM265 283h1v1h-1zM279 283h1v1h-1zM253 284h4v1h-4zM260 285h1v1h-1zM265 285h1v1h-1zM277 285h2v1h-2zM262 286h1v1h-1zM269 286h1v1h-1zM276 286h1v1h-1zM267 287h1v1h-1zM271 287h1v1h-1zM273 287h1v1h-1z" fill="#000" fill-opacity="0.50"/>
<path d="M256 238h1v1h-1zM254 240h1v1h-1zM254 242h1v1h-1zM261 242h1v1h-1zM252 243h1v1h-1zM262 243h1v1h-1zM253 249h1v1h-1zM256 249h1v1h-1zM260 249h1v1h-1zM258 250h1v1h-1zM266 252h1v1h-1zM261 253h1v1h-1zM260 254h1v1h-1zM264 255h1v1h-1zM266 255h1v1h-1zM269 261h1v1h-1zM264 262h1v1h-1zM271 262h1v1h-1zM272 263h1v1h-1zM266 264h1v1h-1zM264 266h1v1h-1zM267 267h1v1h-1zM271 267h1v1h-1zM266 268h1v1h-1zM272 268h1v1h-1zM276 268h1v1h-1zM265 269h1v1h-1zM276 269h2v1h-2zM279 269h2v1h-2zM269 270h1v1h-1zM277 271h1v1h-1zM281 271h1v1h-1zM267 272h1v1h-1zM274 272h1v1h-1zM264 273h2v1h-2zM267 273h1v1h-1zM270 273h1v1h-1zM274 273h1v1h-1zM266 274h1v1h-1zM274 274h2v1h-2zM272 275h1v1h-1zM281 275h1v1h-1zM255 276h1v1h-1zM261 276h2v1h-2zM274 276h2v1h-2zM255 277h1v1h-1zM275 277h1v1h-1zM256 278h1v1h-1zM264 278h1v1h-1zM279 278h1v1h-1zM258 279h1v1h-1zM263 279h1v1h-1zM278 279h1v1h-1zM280 279h1v1h-1zM254 280h1v1h-1zM257 280h2v1h-2zM255 281h1v1h-1zM279 281h1v1h-1zM262 282h2v1h-2zM275 282h2v1h-2zM278 282h1v1h-1zM253 283h2v1h-2zM257 283h1v1h-1zM264 283h1v1h-1zM276 283h1v1h-1zM278 283h1v1h-1zM280 283h1v1h-1zM257 284h1v1h-1zM264 284h1v1h-1zM277 284h1v1h-1zM264 285h1v1h-1zM273 285h1v1h-1zM279 285h1v1h-1zM264 286h1v1h-1zM267 286h1v1h-1z" fill="#000" fill-opacity="0.62"/>
<path d="M256 239h2v1h-2zM255 240h1v1h-1zM255 241h1v1h-1zM262 241h1v1h-1zM262 242h1v1h-1zM253 244h1v1h-1zM262 244h1v1h-1zM262 245h1v1h-1zM259 246h1v1h-1zM254 247h2v1h-2zM259 247h1v1h-1zM261 247h1v1h-1zM257 248h1v1h-1zM258 249h1v1h-1zM262 249h1v1h-1zM261 251h1v1h-1zM259 252h1v1h-1zM255 253h1v1h-1zM261 254h1v1h-1zM263 258h1v1h-1zM268 264h1v1h-1zM269 267h1v1h-1zM265 268h1v1h-1zM270 269h1v1h-1zM271 270h1v1h-1zM274 270h1v1h-1zM266 271h1v1h-1zM264 272h1v1h-1zM270 272h1v1h-1zM262 273h1v1h-1zM271 273h1v1h-1zM265 274h1v1h-1zM269 274h1v1h-1zM271 274h1v1h-1zM266 275h2v1h-2zM269 275h1v1h-1zM273 275h1v1h-1zM275 275h2v1h-2zM265 276h1v1h-1zM268 276h1v1h-1zM254 277h1v1h-1zM264 277h1v1h-1zM266 277h2v1h-2zM276 277h1v1h-1zM278 277h1v1h-1zM255 278h1v1h-1zM262 278h1v1h-1zM267 278h1v1h-1zM274 278h1v1h-1zM254 279h2v1h-2zM257 279h1v1h-1zM256 280h1v1h-1zM264 280h1v1h-1zM278 280h1v1h-1zM254 281h1v1h-1zM258 281h1v1h-1zM261 281h1v1h-1zM276 281h3v1h-3zM280 281h1v1h-1zM254 282h1v1h-1zM264 282h2v1h-2zM277 282h1v1h-1zM256 283h1v1h-1zM258 283h1v1h-1zM266 283h1v1h-1zM265 284h2v1h-2zM268 284h1v1h-1zM276 284h1v1h-1zM279 284h1v1h-1zM266 285h1v1h-1zM268 285h1v1h-1zM275 285h2v1h-2zM268 286h1v1h-1zM271 286h2v1h-2zM275 286h1v1h-1zM270 287h1v1h-1z" fill="#000" fill-opacity="0.75"/>
<path d="M260 239h1v1h-1zM256 240h5v1h-5zM256 241h6v1h-6zM255 242h6v1h-6zM254 243h8v1h-8zM255 244h7v1h-7zM255 245h7v1h-7zM254 246h5v1h-5zM260 246h2v1h-2zM256 247h3v1h-3zM260 247h1v1h-1zM268 272h1v1h-1zM273 273h1v1h-1zM267 274h1v1h-1zM270 274h1v1h-1zM273 274h1v1h-1zM268 275h1v1h-1zM270 275h2v1h-2zM274 275h1v1h-1zM264 276h1v1h-1zM266 276h2v1h-2zM269 276h5v1h-5zM276 276h1v1h-1zM256 277h2v1h-2zM268 277h7v1h-7zM277 277h1v1h-1zM265 278h2v1h-2zM268 278h6v1h-6zM275 278h3v1h-3zM256 279h1v1h-1zM264 279h14v1h-14zM255 280h1v1h-1zM265 280h13v1h-13zM256 281h2v1h-2zM264 281h12v1h-12zM257 282h1v1h-1zM266 282h9v1h-9zM267 283h9v1h-9zM277 283h1v1h-1zM267 284h1v1h-1zM269 284h7v1h-7zM267 285h1v1h-1zM269 285h4v1h-4zM274 285h1v1h-1zM270 286h1v1h-1zM273 286h2v1h-2z" fill="#000" fill-opacity="0.88"/>
<line x1="251.50" y1="261.50" x2="302.50" y2="261.50" stroke="#505050" stroke-width="1.0"/>
<line x1="261.50" y1="236.50" x2="261.50" y2="288.50" stroke="#3a3a3a" stroke-width="1.0"/>
<rect x="251.50" y="236.50" width="51.00" height="52.00" fill="none" stroke="#2a2a2a" stroke-width="1.2"/>
<text x="297.70" y="246.50" font-size="8.2" text-anchor="end" fill="#2a2a2a" stroke="#2a2a2a" stroke-width="0.12">14%</text>
<text x="240.04" y="290.40" font-size="5.3" fill="#222">10<tspan dy="-2.38" font-size="3.71">0</tspan></text>
<text x="240.04" y="277.38" font-size="5.3" fill="#222">10<tspan dy="-2.38" font-size="3.71">1</tspan></text>
<text x="240.04" y="263.80" font-size="5.3" fill="#222">10<tspan dy="-2.38" font-size="3.71">2</tspan></text>
<text x="240.04" y="251.32" font-size="5.3" fill="#222">10<tspan dy="-2.38" font-size="3.71">3</tspan></text>
<text x="240.04" y="238.30" font-size="5.3" fill="#222">10<tspan dy="-2.38" font-size="3.71">4</tspan></text>
<text x="249.08" y="298.80" font-size="5.3" fill="#222">10<tspan dy="-2.38" font-size="3.71">0</tspan></text>
<text x="260.41" y="298.80" font-size="5.3" fill="#222">10<tspan dy="-2.38" font-size="3.71">1</tspan></text>
<text x="272.26" y="298.80" font-size="5.3" fill="#222">10<tspan dy="-2.38" font-size="3.71">2</tspan></text>
<text x="285.13" y="298.80" font-size="5.3" fill="#222">10<tspan dy="-2.38" font-size="3.71">3</tspan></text>
<text x="295.17" y="298.80" font-size="5.3" fill="#222">10<tspan dy="-2.38" font-size="3.71">4</tspan></text>
<path d="M57 327h2v1h-2zM52 328h1v1h-1zM55 328h2v1h-2zM58 330h1v1h-1zM62 330h1v1h-1zM51 331h2v1h-2zM55 331h1v1h-1zM51 332h1v1h-1zM54 332h1v1h-1zM57 332h2v1h-2zM60 332h1v1h-1zM53 333h2v1h-2zM59 333h1v1h-1zM61 334h1v1h-1zM55 335h2v1h-2zM58 335h1v1h-1zM53 336h1v1h-1zM55 336h1v1h-1zM58 336h1v1h-1zM50 337h1v1h-1zM53 337h1v1h-1zM61 337h1v1h-1zM52 339h1v1h-1zM58 339h2v1h-2zM52 341h1v1h-1zM56 341h1v1h-1zM52 342h1v1h-1zM54 342h1v1h-1zM51 343h1v1h-1zM62 343h1v1h-1zM62 344h1v1h-1zM57 345h1v1h-1zM52 346h1v1h-1zM54 346h1v1h-1zM53 347h1v1h-1zM58 347h1v1h-1zM62 347h1v1h-1zM63 352h1v1h-1zM65 352h1v1h-1zM48 353h1v1h-1zM53 353h1v1h-1zM57 353h1v1h-1zM54 354h1v1h-1zM57 354h1v1h-1zM62 355h2v1h-2zM65 355h1v1h-1zM66 357h1v1h-1zM67 358h1v1h-1zM49 359h1v1h-1zM49 360h1v1h-1zM44 361h1v1h-1zM63 361h1v1h-1zM44 362h1v1h-1zM42 363h2v1h-2zM46 363h1v1h-1zM48 363h1v1h-1zM41 364h1v1h-1zM49 364h1v1h-1zM42 365h1v1h-1zM44 365h1v1h-1zM46 365h1v1h-1zM61 365h1v1h-1zM69 365h1v1h-1zM43 366h3v1h-3zM50 366h1v1h-1zM61 366h1v1h-1zM41 367h1v1h-1zM44 367h2v1h-2zM49 367h1v1h-1zM42 368h1v1h-1zM45 368h1v1h-1zM49 369h1v1h-1zM49 371h2v1h-2zM58 371h1v1h-1zM63 371h1v1h-1zM67 371h1v1h-1zM49 372h2v1h-2zM59 372h1v1h-1zM58 373h1v1h-1zM60 373h2v1h-2zM55 374h1v1h-1z" fill="#000" fill-opacity="0.25"/>
<path d="M56 330h1v1h-1zM55 344h1v1h-1zM58 354h3v1h-3zM60 355h1v1h-1zM51 356h1v1h-1zM53 356h1v1h-1zM57 356h1v1h-1zM50 357h1v1h-1zM50 358h1v1h-1zM50 360h1v1h-1zM64 360h1v1h-1zM45 362h1v1h-1zM50 362h1v1h-1zM63 362h1v1h-1zM45 363h1v1h-1zM62 363h2v1h-2zM60 364h1v1h-1zM50 365h1v1h-1zM42 366h1v1h-1zM49 366h1v1h-1zM62 366h1v1h-1zM66 366h1v1h-1zM43 367h1v1h-1zM49 368h1v1h-1zM60 368h1v1h-1zM61 369h1v1h-1zM55 372h1v1h-1zM50 373h1v1h-1zM52 373h2v1h-2zM57 373h1v1h-1z" fill="#000" fill-opacity="0.50"/>
<path d="M56 354h1v1h-1zM61 354h1v1h-1zM52 356h1v1h-1zM63 356h1v1h-1zM51 357h2v1h-2zM63 357h1v1h-1zM51 358h1v1h-1zM56 358h1v1h-1zM63 358h1v1h-1zM50 359h1v1h-1zM60 359h1v1h-1zM62 359h2v1h-2zM60 360h3v1h-3zM54 361h1v1h-1zM46 364h1v1h-1zM62 364h1v1h-1zM50 367h1v1h-1zM60 367h1v1h-1zM59 369h2v1h-2zM50 370h1v1h-1zM57 371h1v1h-1zM59 371h1v1h-1zM52 372h1v1h-1zM54 373h1v1h-1zM56 373h1v1h-1z" fill="#000" fill-opacity="0.62"/>
<path d="M55 354h1v1h-1zM57 355h1v1h-1zM55 356h1v1h-1zM59 356h1v1h-1zM62 356h1v1h-1zM53 357h1v1h-1zM57 357h1v1h-1zM62 357h1v1h-1zM51 359h4v1h-4zM56 360h1v1h-1zM50 361h2v1h-2zM58 361h1v1h-1zM58 362h1v1h-1zM61 362h1v1h-1zM44 363h1v1h-1zM50 363h1v1h-1zM53 363h1v1h-1zM55 363h1v1h-1zM58 363h1v1h-1zM50 364h2v1h-2zM61 364h1v1h-1zM53 365h1v1h-1zM56 365h1v1h-1zM60 365h1v1h-1zM60 366h1v1h-1zM51 367h1v1h-1zM56 367h1v1h-1zM59 367h1v1h-1zM51 368h1v1h-1zM54 368h1v1h-1zM57 368h1v1h-1zM59 368h1v1h-1zM50 369h1v1h-1zM57 369h2v1h-2zM51 370h1v1h-1zM54 370h1v1h-1zM58 370h2v1h-2zM51 371h1v1h-1zM51 372h1v1h-1zM53 372h1v1h-1zM56 372h3v1h-3z" fill="#000" fill-opacity="0.75"/>
<path d="M55 355h2v1h-2zM58 355h2v1h-2zM61 355h1v1h-1zM54 356h1v1h-1zM56 356h1v1h-1zM58 356h1v1h-1zM60 356h2v1h-2zM54 357h3v1h-3zM58 357h4v1h-4zM52 358h4v1h-4zM57 358h6v1h-6zM55 359h5v1h-5zM61 359h1v1h-1zM51 360h5v1h-5zM57 360h3v1h-3zM63 360h1v1h-1zM52 361h2v1h-2zM55 361h3v1h-3zM59 361h4v1h-4zM51 362h7v1h-7zM59 362h2v1h-2zM62 362h1v1h-1zM51 363h2v1h-2zM54 363h1v1h-1zM56 363h2v1h-2zM59 363h3v1h-3zM52 364h8v1h-8zM51 365h2v1h-2zM54 365h2v1h-2zM57 365h3v1h-3zM51 366h9v1h-9zM52 367h4v1h-4zM57 367h2v1h-2zM52 368h2v1h-2zM55 368h2v1h-2zM58 368h1v1h-1zM51 369h6v1h-6zM52 370h2v1h-2zM55 370h3v1h-3zM52 371h5v1h-5zM54 372h1v1h-1z" fill="#000" fill-opacity="0.88"/>
<line x1="39.50" y1="350.50" x2="91.50" y2="350.50" stroke="#505050" stroke-width="1.0"/>
<line x1="50.50" y1="325.50" x2="50.50" y2="375.50" stroke="#3a3a3a" stroke-width="1.0"/>
<rect x="39.50" y="325.50" width="52.00" height="50.00" fill="none" stroke="#2a2a2a" stroke-width="1.2"/>
<text x="87.00" y="335.30" font-size="8.2" text-anchor="end" fill="#2a2a2a" stroke="#2a2a2a" stroke-width="0.12">5.7%</text>
<text x="45.00" y="337.65" font-size="3.0" text-anchor="middle" fill="#555" stroke="#555" stroke-width="0.12">88</text>
<text x="71.82" y="341.80" font-size="3.0" text-anchor="middle" fill="#555" stroke="#555" stroke-width="0.12">87</text>
<text x="28.74" y="378.00" font-size="5.3" fill="#222">10<tspan dy="-2.38" font-size="3.71">0</tspan></text>
<text x="28.74" y="365.30" font-size="5.3" fill="#222">10<tspan dy="-2.38" font-size="3.71">1</tspan></text>
<text x="28.74" y="352.50" font-size="5.3" fill="#222">10<tspan dy="-2.38" font-size="3.71">2</tspan></text>
<text x="28.74" y="339.90" font-size="5.3" fill="#222">10<tspan dy="-2.38" font-size="3.71">3</tspan></text>
<text x="28.74" y="327.20" font-size="5.3" fill="#222">10<tspan dy="-2.38" font-size="3.71">4</tspan></text>
<text x="37.79" y="386.40" font-size="5.3" fill="#222">10<tspan dy="-2.38" font-size="3.71">0</tspan></text>
<text x="49.19" y="386.40" font-size="5.3" fill="#222">10<tspan dy="-2.38" font-size="3.71">1</tspan></text>
<text x="61.10" y="386.40" font-size="5.3" fill="#222">10<tspan dy="-2.38" font-size="3.71">2</tspan></text>
<text x="74.05" y="386.40" font-size="5.3" fill="#222">10<tspan dy="-2.38" font-size="3.71">3</tspan></text>
<text x="84.15" y="386.40" font-size="5.3" fill="#222">10<tspan dy="-2.38" font-size="3.71">4</tspan></text>
<path d="M119 323h1v1h-1zM127 323h1v1h-1zM118 324h1v1h-1zM126 324h1v1h-1zM118 325h1v1h-1zM126 325h1v1h-1zM127 326h1v1h-1zM126 327h1v1h-1zM130 327h1v1h-1zM133 327h1v1h-1zM127 328h1v1h-1zM131 328h3v1h-3zM136 328h1v1h-1zM130 329h1v1h-1zM134 329h1v1h-1zM117 330h1v1h-1zM125 330h1v1h-1zM131 330h1v1h-1zM133 330h1v1h-1zM118 331h1v1h-1zM125 332h1v1h-1zM127 332h1v1h-1zM129 332h1v1h-1zM131 332h1v1h-1zM132 333h1v1h-1zM119 334h1v1h-1zM121 334h1v1h-1zM126 334h2v1h-2zM129 334h2v1h-2zM135 334h1v1h-1zM119 335h1v1h-1zM126 335h1v1h-1zM131 335h1v1h-1zM126 336h1v1h-1zM129 336h1v1h-1zM133 336h1v1h-1zM120 337h1v1h-1zM125 337h1v1h-1zM120 338h1v1h-1zM128 338h2v1h-2zM121 339h1v1h-1zM123 339h1v1h-1zM125 339h2v1h-2zM118 340h1v1h-1zM121 340h1v1h-1zM125 340h1v1h-1zM132 340h1v1h-1zM121 341h2v1h-2zM126 341h1v1h-1zM129 341h1v1h-1zM121 342h1v1h-1zM130 342h1v1h-1zM121 343h2v1h-2zM125 343h1v1h-1zM127 343h1v1h-1zM120 344h1v1h-1zM122 344h1v1h-1zM125 344h2v1h-2zM122 345h1v1h-1zM125 345h1v1h-1zM123 346h3v1h-3zM127 346h1v1h-1zM122 347h1v1h-1zM126 347h1v1h-1zM121 348h2v1h-2zM125 348h1v1h-1zM122 349h1v1h-1zM124 351h1v1h-1zM124 352h1v1h-1zM127 352h1v1h-1zM120 353h1v1h-1zM128 354h1v1h-1zM133 354h2v1h-2zM124 355h1v1h-1zM129 355h1v1h-1zM133 355h2v1h-2zM122 356h1v1h-1zM124 356h2v1h-2zM123 357h1v1h-1zM135 357h1v1h-1zM122 358h1v1h-1zM137 358h1v1h-1zM119 359h2v1h-2zM122 359h1v1h-1zM121 360h1v1h-1zM133 360h2v1h-2zM119 361h1v1h-1zM117 363h1v1h-1zM119 363h2v1h-2zM134 363h1v1h-1zM138 363h1v1h-1zM117 364h1v1h-1zM119 364h1v1h-1zM117 365h1v1h-1zM132 365h2v1h-2zM120 367h1v1h-1zM117 368h1v1h-1zM132 368h1v1h-1zM119 369h1v1h-1zM131 369h1v1h-1zM119 370h1v1h-1zM119 371h1v1h-1zM121 371h1v1h-1zM124 371h2v1h-2zM128 371h1v1h-1zM124 372h1v1h-1zM127 372h1v1h-1zM120 373h1v1h-1z" fill="#000" fill-opacity="0.25"/>
<path d="M119 324h1v1h-1zM125 325h1v1h-1zM119 326h1v1h-1zM125 326h1v1h-1zM120 327h1v1h-1zM118 328h1v1h-1zM126 329h1v1h-1zM125 331h1v1h-1zM127 331h1v1h-1zM119 332h1v1h-1zM119 333h1v1h-1zM120 334h1v1h-1zM127 335h1v1h-1zM125 336h1v1h-1zM124 337h1v1h-1zM122 338h1v1h-1zM124 338h3v1h-3zM120 339h1v1h-1zM122 340h2v1h-2zM126 340h1v1h-1zM124 341h1v1h-1zM122 342h1v1h-1zM125 342h1v1h-1zM123 345h1v1h-1zM123 347h1v1h-1zM126 351h1v1h-1zM131 355h2v1h-2zM128 356h1v1h-1zM134 357h1v1h-1zM122 360h1v1h-1zM133 361h1v1h-1zM121 362h1v1h-1zM133 362h1v1h-1zM118 363h1v1h-1zM132 363h1v1h-1zM118 364h1v1h-1zM119 365h1v1h-1zM119 367h1v1h-1zM118 368h3v1h-3zM130 370h1v1h-1zM122 371h2v1h-2zM129 371h1v1h-1zM119 372h1v1h-1z" fill="#000" fill-opacity="0.50"/>
<path d="M123 323h2v1h-2zM120 324h2v1h-2zM119 325h1v1h-1zM125 327h1v1h-1zM119 329h1v1h-1zM119 330h1v1h-1zM128 331h1v1h-1zM126 332h1v1h-1zM120 333h1v1h-1zM124 333h3v1h-3zM124 334h1v1h-1zM122 335h1v1h-1zM125 335h1v1h-1zM120 336h3v1h-3zM121 337h1v1h-1zM123 338h1v1h-1zM122 339h1v1h-1zM124 339h1v1h-1zM124 340h1v1h-1zM123 341h1v1h-1zM125 341h1v1h-1zM123 342h2v1h-2zM123 343h2v1h-2zM126 356h2v1h-2zM130 356h1v1h-1zM124 357h1v1h-1zM120 361h1v1h-1zM119 362h1v1h-1zM121 363h1v1h-1zM122 364h1v1h-1zM120 365h1v1h-1zM119 366h1v1h-1zM118 367h1v1h-1zM121 368h1v1h-1zM130 368h2v1h-2zM121 369h1v1h-1zM125 370h1v1h-1zM127 370h1v1h-1zM120 371h1v1h-1z" fill="#000" fill-opacity="0.62"/>
<path d="M122 323h1v1h-1zM122 324h3v1h-3zM120 325h1v1h-1zM124 326h1v1h-1zM119 327h1v1h-1zM121 327h1v1h-1zM119 328h2v1h-2zM125 328h1v1h-1zM121 329h1v1h-1zM124 329h1v1h-1zM120 330h1v1h-1zM119 331h1v1h-1zM121 332h1v1h-1zM123 333h1v1h-1zM125 334h1v1h-1zM120 335h2v1h-2zM124 335h1v1h-1zM123 337h1v1h-1zM124 344h1v1h-1zM129 356h1v1h-1zM125 357h1v1h-1zM127 357h1v1h-1zM123 358h1v1h-1zM133 358h1v1h-1zM122 361h2v1h-2zM131 361h2v1h-2zM122 362h1v1h-1zM122 363h1v1h-1zM120 364h1v1h-1zM118 365h1v1h-1zM123 365h1v1h-1zM131 365h1v1h-1zM120 366h1v1h-1zM121 367h1v1h-1zM123 368h1v1h-1zM130 369h1v1h-1zM122 370h3v1h-3zM129 370h1v1h-1zM126 371h1v1h-1z" fill="#000" fill-opacity="0.75"/>
<path d="M121 323h1v1h-1zM121 325h4v1h-4zM120 326h4v1h-4zM122 327h3v1h-3zM121 328h4v1h-4zM120 329h1v1h-1zM122 329h2v1h-2zM125 329h1v1h-1zM121 330h4v1h-4zM120 331h5v1h-5zM126 331h1v1h-1zM120 332h1v1h-1zM122 332h3v1h-3zM121 333h2v1h-2zM122 334h2v1h-2zM123 335h1v1h-1zM123 336h2v1h-2zM131 356h3v1h-3zM126 357h1v1h-1zM128 357h6v1h-6zM124 358h9v1h-9zM123 359h11v1h-11zM123 360h10v1h-10zM124 361h7v1h-7zM123 362h10v1h-10zM123 363h9v1h-9zM121 364h1v1h-1zM123 364h10v1h-10zM121 365h2v1h-2zM124 365h7v1h-7zM121 366h11v1h-11zM122 367h10v1h-10zM122 368h1v1h-1zM124 368h6v1h-6zM122 369h8v1h-8zM126 370h1v1h-1zM128 370h1v1h-1z" fill="#000" fill-opacity="0.88"/>
<line x1="110.50" y1="348.50" x2="162.50" y2="348.50" stroke="#505050" stroke-width="1.0"/>
<line x1="121.50" y1="322.50" x2="121.50" y2="375.50" stroke="#3a3a3a" stroke-width="1.0"/>
<rect x="110.50" y="322.50" width="52.00" height="53.00" fill="none" stroke="#2a2a2a" stroke-width="1.2"/>
<text x="156.50" y="334.40" font-size="8.2" text-anchor="end" fill="#2a2a2a" stroke="#2a2a2a" stroke-width="0.12">17%</text>
<text x="115.95" y="335.35" font-size="3.0" text-anchor="middle" fill="#555" stroke="#555" stroke-width="0.12">88</text>
<text x="143.00" y="340.90" font-size="3.0" text-anchor="middle" fill="#555" stroke="#555" stroke-width="0.12">87</text>
<text x="99.74" y="377.60" font-size="5.3" fill="#222">10<tspan dy="-2.38" font-size="3.71">0</tspan></text>
<text x="99.74" y="364.35" font-size="5.3" fill="#222">10<tspan dy="-2.38" font-size="3.71">1</tspan></text>
<text x="99.74" y="350.50" font-size="5.3" fill="#222">10<tspan dy="-2.38" font-size="3.71">2</tspan></text>
<text x="99.74" y="337.85" font-size="5.3" fill="#222">10<tspan dy="-2.38" font-size="3.71">3</tspan></text>
<text x="99.74" y="324.60" font-size="5.3" fill="#222">10<tspan dy="-2.38" font-size="3.71">4</tspan></text>
<text x="108.81" y="386.00" font-size="5.3" fill="#222">10<tspan dy="-2.38" font-size="3.71">0</tspan></text>
<text x="120.27" y="386.00" font-size="5.3" fill="#222">10<tspan dy="-2.38" font-size="3.71">1</tspan></text>
<text x="132.25" y="386.00" font-size="5.3" fill="#222">10<tspan dy="-2.38" font-size="3.71">2</tspan></text>
<text x="145.28" y="386.00" font-size="5.3" fill="#222">10<tspan dy="-2.38" font-size="3.71">3</tspan></text>
<text x="155.44" y="386.00" font-size="5.3" fill="#222">10<tspan dy="-2.38" font-size="3.71">4</tspan></text>
<path d="M193 323h1v1h-1zM197 323h1v1h-1zM191 324h3v1h-3zM197 324h5v1h-5zM191 325h1v1h-1zM194 325h1v1h-1zM203 325h1v1h-1zM202 326h1v1h-1zM190 329h1v1h-1zM190 330h1v1h-1zM207 330h1v1h-1zM191 331h1v1h-1zM190 332h2v1h-2zM201 332h1v1h-1zM203 332h1v1h-1zM201 334h1v1h-1zM202 335h1v1h-1zM204 335h1v1h-1zM196 336h1v1h-1zM200 336h1v1h-1zM189 337h1v1h-1zM192 337h2v1h-2zM203 337h2v1h-2zM208 337h1v1h-1zM191 338h4v1h-4zM200 338h2v1h-2zM204 338h1v1h-1zM190 339h2v1h-2zM193 339h1v1h-1zM195 339h1v1h-1zM197 339h3v1h-3zM201 339h2v1h-2zM192 340h1v1h-1zM208 341h1v1h-1zM194 342h2v1h-2zM200 342h1v1h-1zM192 343h2v1h-2zM195 343h1v1h-1zM197 343h1v1h-1zM191 344h1v1h-1zM200 344h3v1h-3zM185 345h1v1h-1zM201 345h1v1h-1zM189 346h1v1h-1zM194 346h1v1h-1zM197 346h1v1h-1zM208 346h1v1h-1zM197 347h3v1h-3zM202 347h1v1h-1zM205 347h1v1h-1zM207 347h2v1h-2zM189 348h1v1h-1zM192 348h3v1h-3zM197 348h1v1h-1zM200 348h1v1h-1zM202 348h2v1h-2zM208 348h1v1h-1zM194 349h1v1h-1zM198 349h2v1h-2zM201 349h1v1h-1zM203 349h1v1h-1zM195 350h1v1h-1zM199 350h1v1h-1zM204 350h1v1h-1zM206 350h1v1h-1zM191 351h1v1h-1zM195 351h1v1h-1zM198 351h1v1h-1zM200 351h1v1h-1zM204 351h1v1h-1zM192 352h1v1h-1zM204 352h2v1h-2zM196 353h1v1h-1zM201 353h1v1h-1zM203 353h1v1h-1zM212 353h1v1h-1zM201 354h1v1h-1zM192 355h1v1h-1zM195 355h1v1h-1zM198 355h1v1h-1zM196 356h1v1h-1zM202 356h1v1h-1zM191 357h1v1h-1zM201 357h1v1h-1zM204 357h2v1h-2zM191 358h1v1h-1zM207 359h1v1h-1zM190 360h2v1h-2zM206 360h1v1h-1zM209 361h1v1h-1zM205 363h1v1h-1zM206 365h1v1h-1zM187 367h1v1h-1zM189 367h2v1h-2zM187 368h1v1h-1zM201 369h1v1h-1zM188 370h2v1h-2zM187 372h2v1h-2zM190 373h1v1h-1zM189 374h1v1h-1zM191 374h1v1h-1zM193 374h3v1h-3zM198 374h1v1h-1z" fill="#000" fill-opacity="0.25"/>
<path d="M194 324h2v1h-2zM191 327h1v1h-1zM201 328h1v1h-1zM193 329h1v1h-1zM201 331h1v1h-1zM191 333h1v1h-1zM200 333h1v1h-1zM194 334h1v1h-1zM192 335h1v1h-1zM194 335h1v1h-1zM196 335h1v1h-1zM200 335h1v1h-1zM193 336h2v1h-2zM197 336h1v1h-1zM195 337h2v1h-2zM199 337h1v1h-1zM194 339h1v1h-1zM200 339h1v1h-1zM193 340h1v1h-1zM196 340h1v1h-1zM198 340h1v1h-1zM192 341h1v1h-1zM194 341h2v1h-2zM197 341h1v1h-1zM192 342h1v1h-1zM196 343h1v1h-1zM198 343h1v1h-1zM194 344h1v1h-1zM197 344h2v1h-2zM195 345h2v1h-2zM198 345h1v1h-1zM195 346h1v1h-1zM198 346h1v1h-1zM202 346h1v1h-1zM195 347h1v1h-1zM195 348h1v1h-1zM201 348h1v1h-1zM197 351h1v1h-1zM205 351h1v1h-1zM193 352h2v1h-2zM196 352h2v1h-2zM202 352h1v1h-1zM195 353h1v1h-1zM197 353h1v1h-1zM195 354h1v1h-1zM198 354h2v1h-2zM193 355h2v1h-2zM197 355h1v1h-1zM199 355h1v1h-1zM194 356h1v1h-1zM197 356h1v1h-1zM199 356h1v1h-1zM192 357h3v1h-3zM196 357h3v1h-3zM191 359h1v1h-1zM203 363h1v1h-1zM192 365h1v1h-1zM190 366h2v1h-2zM191 373h2v1h-2zM197 373h1v1h-1zM199 373h1v1h-1zM196 374h1v1h-1z" fill="#000" fill-opacity="0.50"/>
<path d="M202 325h1v1h-1zM191 326h2v1h-2zM199 329h3v1h-3zM201 330h1v1h-1zM192 333h1v1h-1zM196 334h1v1h-1zM199 334h2v1h-2zM193 335h1v1h-1zM195 335h1v1h-1zM192 336h1v1h-1zM194 337h1v1h-1zM198 337h1v1h-1zM200 337h1v1h-1zM195 338h1v1h-1zM198 338h2v1h-2zM192 339h1v1h-1zM196 339h1v1h-1zM196 341h1v1h-1zM199 341h2v1h-2zM193 342h1v1h-1zM196 342h3v1h-3zM200 343h1v1h-1zM199 344h1v1h-1zM193 345h2v1h-2zM192 346h1v1h-1zM201 346h1v1h-1zM193 347h2v1h-2zM196 347h1v1h-1zM198 348h2v1h-2zM192 349h1v1h-1zM196 349h2v1h-2zM192 351h2v1h-2zM198 352h1v1h-1zM200 352h1v1h-1zM192 353h3v1h-3zM198 353h1v1h-1zM200 353h1v1h-1zM197 354h1v1h-1zM200 354h1v1h-1zM200 355h1v1h-1zM192 356h1v1h-1zM195 356h1v1h-1zM201 356h1v1h-1zM203 357h1v1h-1zM203 358h1v1h-1zM206 358h1v1h-1zM205 361h1v1h-1zM191 362h1v1h-1zM191 363h3v1h-3zM191 364h1v1h-1zM191 365h1v1h-1zM191 367h1v1h-1zM189 368h1v1h-1zM193 371h1v1h-1zM195 371h1v1h-1zM200 371h1v1h-1zM190 372h1v1h-1zM194 373h2v1h-2z" fill="#000" fill-opacity="0.62"/>
<path d="M196 324h1v1h-1zM193 325h1v1h-1zM201 326h1v1h-1zM201 327h1v1h-1zM192 328h1v1h-1zM196 328h1v1h-1zM198 329h1v1h-1zM192 330h1v1h-1zM195 330h1v1h-1zM198 331h1v1h-1zM192 332h1v1h-1zM200 332h1v1h-1zM195 333h1v1h-1zM192 334h1v1h-1zM197 335h2v1h-2zM195 336h1v1h-1zM198 336h2v1h-2zM197 338h1v1h-1zM195 340h1v1h-1zM199 340h2v1h-2zM199 342h1v1h-1zM194 343h1v1h-1zM199 343h1v1h-1zM200 345h1v1h-1zM193 346h1v1h-1zM199 346h2v1h-2zM192 347h1v1h-1zM200 347h1v1h-1zM196 348h1v1h-1zM193 350h2v1h-2zM196 350h3v1h-3zM194 351h1v1h-1zM199 351h1v1h-1zM195 352h1v1h-1zM199 352h1v1h-1zM192 354h1v1h-1zM194 354h1v1h-1zM193 356h1v1h-1zM202 357h1v1h-1zM194 358h2v1h-2zM202 358h1v1h-1zM204 358h2v1h-2zM192 359h1v1h-1zM200 359h1v1h-1zM192 360h1v1h-1zM192 362h2v1h-2zM196 362h1v1h-1zM192 364h1v1h-1zM202 364h1v1h-1zM196 365h1v1h-1zM201 365h1v1h-1zM203 365h1v1h-1zM192 366h1v1h-1zM194 366h1v1h-1zM202 366h1v1h-1zM192 367h1v1h-1zM190 368h3v1h-3zM194 368h1v1h-1zM201 368h1v1h-1zM189 369h1v1h-1zM195 369h1v1h-1zM200 369h1v1h-1zM200 370h1v1h-1zM189 371h2v1h-2zM199 371h1v1h-1zM192 372h2v1h-2zM196 372h1v1h-1zM200 372h1v1h-1zM193 373h1v1h-1zM196 373h1v1h-1zM198 373h1v1h-1z" fill="#000" fill-opacity="0.75"/>
<path d="M192 325h1v1h-1zM195 325h7v1h-7zM193 326h8v1h-8zM192 327h9v1h-9zM193 328h3v1h-3zM197 328h4v1h-4zM192 329h1v1h-1zM194 329h4v1h-4zM193 330h2v1h-2zM196 330h5v1h-5zM193 331h5v1h-5zM199 331h2v1h-2zM193 332h7v1h-7zM193 333h2v1h-2zM196 333h4v1h-4zM193 334h1v1h-1zM195 334h1v1h-1zM197 334h2v1h-2zM199 335h1v1h-1zM193 341h1v1h-1zM195 344h1v1h-1zM192 345h1v1h-1zM197 345h1v1h-1zM193 349h1v1h-1zM195 349h1v1h-1zM200 349h1v1h-1zM200 350h1v1h-1zM196 355h1v1h-1zM200 356h1v1h-1zM195 357h1v1h-1zM199 357h2v1h-2zM192 358h2v1h-2zM196 358h6v1h-6zM193 359h7v1h-7zM201 359h5v1h-5zM193 360h12v1h-12zM192 361h13v1h-13zM194 362h2v1h-2zM197 362h7v1h-7zM194 363h9v1h-9zM193 364h9v1h-9zM203 364h1v1h-1zM193 365h3v1h-3zM197 365h4v1h-4zM202 365h1v1h-1zM193 366h1v1h-1zM195 366h7v1h-7zM193 367h9v1h-9zM193 368h1v1h-1zM195 368h6v1h-6zM190 369h5v1h-5zM196 369h4v1h-4zM190 370h10v1h-10zM191 371h2v1h-2zM194 371h1v1h-1zM196 371h3v1h-3zM189 372h1v1h-1zM191 372h1v1h-1zM194 372h2v1h-2zM197 372h3v1h-3z" fill="#000" fill-opacity="0.88"/>
<line x1="181.50" y1="349.50" x2="233.50" y2="349.50" stroke="#505050" stroke-width="1.0"/>
<line x1="192.50" y1="323.50" x2="192.50" y2="375.50" stroke="#3a3a3a" stroke-width="1.0"/>
<rect x="181.50" y="323.50" width="52.00" height="52.00" fill="none" stroke="#2a2a2a" stroke-width="1.2"/>
<text x="228.10" y="334.20" font-size="8.2" text-anchor="end" fill="#2a2a2a" stroke="#2a2a2a" stroke-width="0.12">23%</text>
<text x="186.80" y="336.35" font-size="3.0" text-anchor="middle" fill="#555" stroke="#555" stroke-width="0.12">88</text>
<text x="213.70" y="340.70" font-size="3.0" text-anchor="middle" fill="#555" stroke="#555" stroke-width="0.12">87</text>
<text x="170.44" y="377.90" font-size="5.3" fill="#222">10<tspan dy="-2.38" font-size="3.71">0</tspan></text>
<text x="170.44" y="364.82" font-size="5.3" fill="#222">10<tspan dy="-2.38" font-size="3.71">1</tspan></text>
<text x="170.44" y="351.50" font-size="5.3" fill="#222">10<tspan dy="-2.38" font-size="3.71">2</tspan></text>
<text x="170.44" y="338.67" font-size="5.3" fill="#222">10<tspan dy="-2.38" font-size="3.71">3</tspan></text>
<text x="170.44" y="325.60" font-size="5.3" fill="#222">10<tspan dy="-2.38" font-size="3.71">4</tspan></text>
<text x="179.51" y="386.30" font-size="5.3" fill="#222">10<tspan dy="-2.38" font-size="3.71">0</tspan></text>
<text x="190.97" y="386.30" font-size="5.3" fill="#222">10<tspan dy="-2.38" font-size="3.71">1</tspan></text>
<text x="202.95" y="386.30" font-size="5.3" fill="#222">10<tspan dy="-2.38" font-size="3.71">2</tspan></text>
<text x="215.98" y="386.30" font-size="5.3" fill="#222">10<tspan dy="-2.38" font-size="3.71">3</tspan></text>
<text x="226.14" y="386.30" font-size="5.3" fill="#222">10<tspan dy="-2.38" font-size="3.71">4</tspan></text>
<path d="M263 322h1v1h-1zM268 322h1v1h-1zM263 323h1v1h-1zM267 323h1v1h-1zM273 323h1v1h-1zM260 325h1v1h-1zM274 325h1v1h-1zM274 326h1v1h-1zM256 327h1v1h-1zM273 328h3v1h-3zM272 329h2v1h-2zM256 330h1v1h-1zM273 330h1v1h-1zM259 331h3v1h-3zM276 332h1v1h-1zM260 333h1v1h-1zM272 333h2v1h-2zM260 334h1v1h-1zM273 334h1v1h-1zM275 334h1v1h-1zM274 335h1v1h-1zM261 336h1v1h-1zM264 336h1v1h-1zM273 336h1v1h-1zM261 337h1v1h-1zM273 337h1v1h-1zM276 337h1v1h-1zM280 337h1v1h-1zM260 338h1v1h-1zM274 338h1v1h-1zM261 339h1v1h-1zM273 340h1v1h-1zM261 341h1v1h-1zM264 341h1v1h-1zM270 341h2v1h-2zM275 342h1v1h-1zM262 343h1v1h-1zM275 343h1v1h-1zM280 343h2v1h-2zM260 344h2v1h-2zM263 344h1v1h-1zM268 344h1v1h-1zM273 344h1v1h-1zM260 345h2v1h-2zM263 345h1v1h-1zM268 345h1v1h-1zM272 345h1v1h-1zM277 345h1v1h-1zM283 345h1v1h-1zM260 346h1v1h-1zM272 346h2v1h-2zM275 346h1v1h-1zM278 346h1v1h-1zM263 347h2v1h-2zM271 347h2v1h-2zM284 347h1v1h-1zM259 348h1v1h-1zM261 348h2v1h-2zM282 348h1v1h-1zM269 349h2v1h-2zM272 349h1v1h-1zM264 350h1v1h-1zM268 350h1v1h-1zM270 350h1v1h-1zM272 350h1v1h-1zM274 350h1v1h-1zM277 350h1v1h-1zM261 351h2v1h-2zM272 351h1v1h-1zM275 351h1v1h-1zM261 352h1v1h-1zM264 352h1v1h-1zM267 352h3v1h-3zM272 352h1v1h-1zM282 352h1v1h-1zM277 353h1v1h-1zM279 353h1v1h-1zM263 354h2v1h-2zM271 354h1v1h-1zM262 355h1v1h-1zM272 355h1v1h-1zM275 355h1v1h-1zM263 356h3v1h-3zM260 357h1v1h-1zM274 357h1v1h-1zM260 358h1v1h-1zM268 358h1v1h-1zM273 358h2v1h-2zM276 358h1v1h-1zM260 359h2v1h-2zM272 359h3v1h-3zM279 359h1v1h-1zM260 362h2v1h-2zM261 363h1v1h-1zM260 366h1v1h-1zM274 366h1v1h-1zM261 367h1v1h-1zM273 367h1v1h-1zM260 368h2v1h-2zM273 368h1v1h-1zM261 371h1v1h-1zM270 372h1v1h-1zM261 374h2v1h-2z" fill="#000" fill-opacity="0.25"/>
<path d="M264 323h1v1h-1zM269 323h3v1h-3zM261 324h1v1h-1zM271 324h1v1h-1zM273 324h1v1h-1zM271 327h1v1h-1zM262 328h1v1h-1zM261 329h2v1h-2zM261 330h1v1h-1zM271 332h2v1h-2zM274 332h1v1h-1zM262 333h1v1h-1zM266 333h1v1h-1zM265 334h1v1h-1zM272 334h1v1h-1zM264 335h1v1h-1zM268 335h1v1h-1zM271 335h1v1h-1zM272 336h1v1h-1zM271 338h1v1h-1zM262 339h1v1h-1zM272 339h1v1h-1zM261 340h2v1h-2zM264 340h3v1h-3zM274 340h1v1h-1zM268 341h2v1h-2zM275 341h1v1h-1zM261 342h1v1h-1zM263 342h1v1h-1zM267 342h1v1h-1zM269 342h1v1h-1zM264 343h1v1h-1zM266 343h1v1h-1zM271 343h1v1h-1zM262 344h1v1h-1zM266 344h1v1h-1zM269 344h1v1h-1zM271 344h1v1h-1zM262 345h1v1h-1zM265 345h1v1h-1zM267 345h1v1h-1zM271 345h1v1h-1zM273 345h1v1h-1zM275 345h1v1h-1zM265 346h1v1h-1zM269 347h1v1h-1zM265 348h1v1h-1zM267 348h1v1h-1zM271 348h1v1h-1zM275 348h1v1h-1zM264 349h2v1h-2zM267 349h1v1h-1zM271 349h1v1h-1zM269 350h1v1h-1zM264 351h1v1h-1zM266 351h1v1h-1zM269 351h2v1h-2zM262 352h1v1h-1zM265 352h1v1h-1zM271 352h1v1h-1zM262 353h2v1h-2zM265 353h2v1h-2zM270 353h1v1h-1zM267 354h3v1h-3zM264 355h3v1h-3zM270 355h2v1h-2zM266 356h1v1h-1zM268 356h1v1h-1zM266 357h2v1h-2zM270 357h1v1h-1zM266 358h1v1h-1zM270 358h1v1h-1zM269 359h1v1h-1zM271 359h1v1h-1zM273 360h1v1h-1zM261 361h2v1h-2zM261 364h1v1h-1zM273 364h1v1h-1zM266 365h1v1h-1zM274 365h1v1h-1zM267 369h1v1h-1zM261 370h1v1h-1zM271 371h1v1h-1zM269 373h2v1h-2zM266 374h2v1h-2z" fill="#000" fill-opacity="0.50"/>
<path d="M266 323h1v1h-1zM268 323h1v1h-1zM261 327h1v1h-1zM273 327h1v1h-1zM270 328h1v1h-1zM262 331h1v1h-1zM272 331h2v1h-2zM261 332h2v1h-2zM264 333h1v1h-1zM269 333h1v1h-1zM271 333h1v1h-1zM261 334h1v1h-1zM266 334h1v1h-1zM265 335h1v1h-1zM272 335h1v1h-1zM263 337h1v1h-1zM270 338h1v1h-1zM263 339h1v1h-1zM263 340h1v1h-1zM270 340h1v1h-1zM272 340h1v1h-1zM262 341h1v1h-1zM266 341h1v1h-1zM262 342h1v1h-1zM265 342h1v1h-1zM270 342h1v1h-1zM269 343h1v1h-1zM265 344h1v1h-1zM270 344h1v1h-1zM264 345h1v1h-1zM269 345h2v1h-2zM267 346h2v1h-2zM267 347h1v1h-1zM270 347h1v1h-1zM268 348h1v1h-1zM270 348h1v1h-1zM262 349h2v1h-2zM271 350h1v1h-1zM271 351h1v1h-1zM266 352h1v1h-1zM270 352h1v1h-1zM267 353h1v1h-1zM269 353h1v1h-1zM270 354h1v1h-1zM267 355h1v1h-1zM262 356h1v1h-1zM268 357h1v1h-1zM272 357h1v1h-1zM261 358h1v1h-1zM265 358h1v1h-1zM269 358h1v1h-1zM271 358h1v1h-1zM270 359h1v1h-1zM275 361h2v1h-2zM275 363h1v1h-1zM275 364h1v1h-1zM271 365h1v1h-1zM272 366h1v1h-1zM272 367h1v1h-1zM265 369h2v1h-2zM261 372h1v1h-1zM261 373h2v1h-2z" fill="#000" fill-opacity="0.62"/>
<path d="M265 323h1v1h-1zM262 324h1v1h-1zM264 324h1v1h-1zM267 324h3v1h-3zM262 325h1v1h-1zM265 325h1v1h-1zM271 325h1v1h-1zM273 325h1v1h-1zM261 326h2v1h-2zM271 326h2v1h-2zM272 327h1v1h-1zM261 328h1v1h-1zM271 328h2v1h-2zM267 329h1v1h-1zM269 329h1v1h-1zM262 330h1v1h-1zM266 330h1v1h-1zM268 330h2v1h-2zM265 331h1v1h-1zM271 331h1v1h-1zM268 333h1v1h-1zM262 334h1v1h-1zM269 334h1v1h-1zM269 335h1v1h-1zM268 336h1v1h-1zM270 336h2v1h-2zM262 337h1v1h-1zM265 337h2v1h-2zM270 337h2v1h-2zM262 338h1v1h-1zM264 338h2v1h-2zM264 339h2v1h-2zM267 339h1v1h-1zM270 339h2v1h-2zM267 340h3v1h-3zM263 341h1v1h-1zM265 341h1v1h-1zM267 341h1v1h-1zM266 342h1v1h-1zM265 343h1v1h-1zM267 343h2v1h-2zM270 343h1v1h-1zM264 344h1v1h-1zM267 344h1v1h-1zM266 345h1v1h-1zM262 346h2v1h-2zM269 346h1v1h-1zM271 346h1v1h-1zM262 347h1v1h-1zM263 348h2v1h-2zM266 348h1v1h-1zM269 348h1v1h-1zM268 349h1v1h-1zM265 350h1v1h-1zM265 351h1v1h-1zM263 352h1v1h-1zM264 353h1v1h-1zM268 353h1v1h-1zM271 353h1v1h-1zM265 354h1v1h-1zM263 355h1v1h-1zM268 355h1v1h-1zM270 356h2v1h-2zM263 357h2v1h-2zM269 357h1v1h-1zM267 358h1v1h-1zM264 359h1v1h-1zM266 359h1v1h-1zM261 360h1v1h-1zM263 360h1v1h-1zM266 360h1v1h-1zM271 360h1v1h-1zM274 360h2v1h-2zM266 361h1v1h-1zM271 361h1v1h-1zM274 361h1v1h-1zM262 362h1v1h-1zM264 362h1v1h-1zM266 362h1v1h-1zM266 363h1v1h-1zM266 364h1v1h-1zM269 364h1v1h-1zM274 364h1v1h-1zM262 365h1v1h-1zM267 365h1v1h-1zM261 366h1v1h-1zM266 366h1v1h-1zM268 366h1v1h-1zM271 366h1v1h-1zM273 366h1v1h-1zM262 367h2v1h-2zM267 367h1v1h-1zM265 368h1v1h-1zM271 368h2v1h-2zM262 369h1v1h-1zM263 370h1v1h-1zM265 371h1v1h-1zM270 371h1v1h-1zM264 372h1v1h-1zM269 372h1v1h-1zM264 373h2v1h-2zM268 373h1v1h-1zM263 374h1v1h-1z" fill="#000" fill-opacity="0.75"/>
<path d="M263 324h1v1h-1zM265 324h2v1h-2zM270 324h1v1h-1zM272 324h1v1h-1zM261 325h1v1h-1zM263 325h2v1h-2zM266 325h5v1h-5zM272 325h1v1h-1zM263 326h8v1h-8zM262 327h9v1h-9zM263 328h7v1h-7zM263 329h4v1h-4zM268 329h1v1h-1zM270 329h2v1h-2zM263 330h3v1h-3zM267 330h1v1h-1zM270 330h3v1h-3zM263 331h2v1h-2zM266 331h5v1h-5zM263 332h8v1h-8zM263 333h1v1h-1zM265 333h1v1h-1zM267 333h1v1h-1zM270 333h1v1h-1zM263 334h2v1h-2zM267 334h2v1h-2zM270 334h2v1h-2zM262 335h2v1h-2zM266 335h2v1h-2zM270 335h1v1h-1zM262 336h2v1h-2zM265 336h3v1h-3zM269 336h1v1h-1zM264 337h1v1h-1zM267 337h3v1h-3zM263 338h1v1h-1zM266 338h4v1h-4zM266 339h1v1h-1zM268 339h2v1h-2zM271 340h1v1h-1zM268 342h1v1h-1zM266 346h1v1h-1zM266 349h1v1h-1zM262 350h1v1h-1zM267 350h1v1h-1zM263 351h1v1h-1zM268 351h1v1h-1zM266 354h1v1h-1zM269 355h1v1h-1zM267 356h1v1h-1zM262 357h1v1h-1zM265 357h1v1h-1zM262 358h3v1h-3zM262 359h2v1h-2zM265 359h1v1h-1zM267 359h2v1h-2zM262 360h1v1h-1zM264 360h2v1h-2zM267 360h4v1h-4zM272 360h1v1h-1zM263 361h3v1h-3zM267 361h4v1h-4zM272 361h2v1h-2zM263 362h1v1h-1zM265 362h1v1h-1zM267 362h9v1h-9zM262 363h4v1h-4zM267 363h8v1h-8zM262 364h4v1h-4zM267 364h2v1h-2zM270 364h3v1h-3zM261 365h1v1h-1zM263 365h3v1h-3zM268 365h3v1h-3zM272 365h2v1h-2zM262 366h4v1h-4zM267 366h1v1h-1zM269 366h2v1h-2zM264 367h3v1h-3zM268 367h4v1h-4zM262 368h3v1h-3zM266 368h5v1h-5zM263 369h2v1h-2zM268 369h4v1h-4zM262 370h1v1h-1zM264 370h8v1h-8zM262 371h3v1h-3zM266 371h4v1h-4zM262 372h2v1h-2zM265 372h4v1h-4zM263 373h1v1h-1zM266 373h1v1h-1z" fill="#000" fill-opacity="0.88"/>
<line x1="251.50" y1="349.50" x2="303.50" y2="349.50" stroke="#505050" stroke-width="1.0"/>
<line x1="262.50" y1="322.50" x2="262.50" y2="375.50" stroke="#3a3a3a" stroke-width="1.0"/>
<rect x="251.50" y="322.50" width="52.00" height="53.00" fill="none" stroke="#2a2a2a" stroke-width="1.2"/>
<text x="296.80" y="334.20" font-size="8.2" text-anchor="end" fill="#2a2a2a" stroke="#2a2a2a" stroke-width="0.12">40%</text>
<text x="256.75" y="335.60" font-size="3.0" text-anchor="middle" fill="#555" stroke="#555" stroke-width="0.12">88</text>
<text x="283.62" y="340.70" font-size="3.0" text-anchor="middle" fill="#555" stroke="#555" stroke-width="0.12">87</text>
<text x="240.54" y="377.60" font-size="5.3" fill="#222">10<tspan dy="-2.38" font-size="3.71">0</tspan></text>
<text x="240.54" y="364.30" font-size="5.3" fill="#222">10<tspan dy="-2.38" font-size="3.71">1</tspan></text>
<text x="240.54" y="351.20" font-size="5.3" fill="#222">10<tspan dy="-2.38" font-size="3.71">2</tspan></text>
<text x="240.54" y="337.70" font-size="5.3" fill="#222">10<tspan dy="-2.38" font-size="3.71">3</tspan></text>
<text x="240.54" y="324.40" font-size="5.3" fill="#222">10<tspan dy="-2.38" font-size="3.71">4</tspan></text>
<text x="249.59" y="386.00" font-size="5.3" fill="#222">10<tspan dy="-2.38" font-size="3.71">0</tspan></text>
<text x="260.99" y="386.00" font-size="5.3" fill="#222">10<tspan dy="-2.38" font-size="3.71">1</tspan></text>
<text x="272.90" y="386.00" font-size="5.3" fill="#222">10<tspan dy="-2.38" font-size="3.71">2</tspan></text>
<text x="285.85" y="386.00" font-size="5.3" fill="#222">10<tspan dy="-2.38" font-size="3.71">3</tspan></text>
<text x="295.95" y="386.00" font-size="5.3" fill="#222">10<tspan dy="-2.38" font-size="3.71">4</tspan></text>
<path d="M54 447h1v1h-1zM56 448h1v1h-1zM51 449h3v1h-3zM62 449h1v1h-1zM44 450h1v1h-1zM48 450h2v1h-2zM55 450h1v1h-1zM46 451h1v1h-1zM48 451h1v1h-1zM51 451h2v1h-2zM54 451h3v1h-3zM59 451h1v1h-1zM50 452h1v1h-1zM54 452h1v1h-1zM61 452h1v1h-1zM48 453h1v1h-1zM53 453h1v1h-1zM55 453h2v1h-2zM58 453h1v1h-1zM49 454h3v1h-3zM53 454h2v1h-2zM57 454h1v1h-1zM60 454h1v1h-1zM48 455h1v1h-1zM55 455h2v1h-2zM58 455h1v1h-1zM47 456h1v1h-1zM52 456h1v1h-1zM54 456h1v1h-1zM56 456h1v1h-1zM58 456h2v1h-2zM66 456h1v1h-1zM46 457h1v1h-1zM50 457h1v1h-1zM52 457h1v1h-1zM54 457h2v1h-2zM58 457h1v1h-1zM50 458h2v1h-2zM58 458h1v1h-1zM60 458h1v1h-1zM64 458h1v1h-1zM48 459h1v1h-1zM51 459h1v1h-1zM54 459h2v1h-2zM58 459h1v1h-1zM43 460h1v1h-1zM45 460h1v1h-1zM49 460h2v1h-2zM52 460h1v1h-1zM46 461h1v1h-1zM54 461h1v1h-1zM58 461h1v1h-1zM43 462h1v1h-1zM51 462h2v1h-2zM54 462h1v1h-1zM57 462h1v1h-1zM65 462h1v1h-1zM49 463h1v1h-1zM51 463h1v1h-1zM57 463h1v1h-1zM45 464h2v1h-2zM63 464h1v1h-1zM47 465h1v1h-1zM61 465h1v1h-1zM54 466h1v1h-1zM46 467h2v1h-2zM51 467h1v1h-1zM61 467h1v1h-1zM51 468h1v1h-1zM44 469h1v1h-1zM56 469h1v1h-1zM47 470h1v1h-1zM60 470h1v1h-1zM64 470h1v1h-1zM57 472h1v1h-1zM49 473h1v1h-1zM53 473h1v1h-1zM47 475h1v1h-1zM53 475h1v1h-1zM57 475h1v1h-1zM47 476h1v1h-1zM49 476h1v1h-1zM51 476h1v1h-1zM55 476h1v1h-1zM57 476h1v1h-1zM59 476h1v1h-1zM64 476h1v1h-1zM77 476h1v1h-1zM41 477h1v1h-1zM48 477h1v1h-1zM56 477h1v1h-1zM59 477h1v1h-1zM65 477h1v1h-1zM68 477h1v1h-1zM44 478h2v1h-2zM47 478h1v1h-1zM52 478h2v1h-2zM55 478h2v1h-2zM59 478h1v1h-1zM61 478h1v1h-1zM64 478h1v1h-1zM67 478h1v1h-1zM42 479h1v1h-1zM48 479h1v1h-1zM50 479h1v1h-1zM52 479h1v1h-1zM56 479h1v1h-1zM60 479h1v1h-1zM62 479h3v1h-3zM42 480h1v1h-1zM44 480h1v1h-1zM46 480h1v1h-1zM50 480h1v1h-1zM56 480h1v1h-1zM66 480h1v1h-1zM68 480h1v1h-1zM72 480h1v1h-1zM41 481h2v1h-2zM44 481h3v1h-3zM49 481h1v1h-1zM53 481h4v1h-4zM59 481h1v1h-1zM62 481h1v1h-1zM65 481h2v1h-2zM40 482h1v1h-1zM44 482h2v1h-2zM47 482h1v1h-1zM59 482h1v1h-1zM65 482h1v1h-1zM69 482h1v1h-1zM71 482h2v1h-2zM41 483h2v1h-2zM47 483h1v1h-1zM62 483h1v1h-1zM64 483h1v1h-1zM67 483h1v1h-1zM70 483h1v1h-1zM62 484h1v1h-1zM67 484h2v1h-2zM66 485h2v1h-2zM40 486h1v1h-1zM65 486h2v1h-2zM68 486h4v1h-4zM40 487h1v1h-1zM65 487h1v1h-1zM69 487h1v1h-1zM75 487h1v1h-1zM63 488h1v1h-1zM67 488h1v1h-1zM66 489h1v1h-1zM69 489h1v1h-1zM72 489h1v1h-1zM63 490h1v1h-1zM65 490h1v1h-1zM67 490h2v1h-2zM70 490h1v1h-1zM62 491h1v1h-1zM66 491h2v1h-2zM70 492h1v1h-1zM72 492h1v1h-1zM54 493h1v1h-1zM57 493h1v1h-1zM62 493h3v1h-3zM68 493h1v1h-1zM52 494h2v1h-2zM55 494h1v1h-1zM58 494h1v1h-1zM61 494h1v1h-1zM63 494h1v1h-1zM66 494h2v1h-2zM43 495h1v1h-1zM45 495h1v1h-1zM51 495h3v1h-3zM58 495h1v1h-1zM61 495h1v1h-1zM64 495h1v1h-1zM44 496h1v1h-1zM48 496h1v1h-1zM51 496h2v1h-2zM57 496h1v1h-1zM63 496h1v1h-1z" fill="#000" fill-opacity="0.25"/>
<path d="M52 450h1v1h-1zM57 451h1v1h-1zM52 452h1v1h-1zM51 453h1v1h-1zM54 453h1v1h-1zM59 454h1v1h-1zM49 455h1v1h-1zM51 455h1v1h-1zM56 457h1v1h-1zM56 458h1v1h-1zM53 459h1v1h-1zM51 460h1v1h-1zM51 461h1v1h-1zM46 462h1v1h-1zM60 474h1v1h-1zM53 476h1v1h-1zM62 476h1v1h-1zM49 477h2v1h-2zM54 477h1v1h-1zM60 478h1v1h-1zM46 479h1v1h-1zM55 479h1v1h-1zM65 479h1v1h-1zM69 479h1v1h-1zM43 480h1v1h-1zM45 480h1v1h-1zM51 480h2v1h-2zM48 481h1v1h-1zM50 481h1v1h-1zM63 481h1v1h-1zM68 481h1v1h-1zM43 482h1v1h-1zM46 482h1v1h-1zM50 482h1v1h-1zM54 482h2v1h-2zM57 482h1v1h-1zM63 482h2v1h-2zM43 483h2v1h-2zM55 483h1v1h-1zM57 483h1v1h-1zM44 484h1v1h-1zM60 484h2v1h-2zM65 484h1v1h-1zM68 485h1v1h-1zM62 486h1v1h-1zM64 486h1v1h-1zM66 487h2v1h-2zM64 490h1v1h-1zM40 491h1v1h-1zM55 491h1v1h-1zM63 491h1v1h-1zM65 491h1v1h-1zM69 491h1v1h-1zM43 492h1v1h-1zM59 492h2v1h-2zM62 492h1v1h-1zM67 492h1v1h-1zM41 493h1v1h-1zM51 493h1v1h-1zM53 493h1v1h-1zM59 493h3v1h-3zM41 494h1v1h-1zM59 494h1v1h-1zM44 495h1v1h-1zM46 495h1v1h-1zM54 495h1v1h-1zM59 495h1v1h-1zM62 495h1v1h-1zM42 496h1v1h-1z" fill="#000" fill-opacity="0.50"/>
<path d="M49 457h1v1h-1zM53 457h1v1h-1zM54 478h1v1h-1zM57 480h1v1h-1zM52 481h1v1h-1zM58 481h1v1h-1zM60 481h1v1h-1zM51 482h1v1h-1zM60 482h3v1h-3zM50 483h1v1h-1zM56 483h1v1h-1zM42 484h2v1h-2zM49 484h1v1h-1zM56 484h1v1h-1zM66 484h1v1h-1zM61 485h1v1h-1zM41 486h1v1h-1zM47 486h1v1h-1zM61 486h1v1h-1zM42 487h1v1h-1zM63 487h1v1h-1zM41 488h1v1h-1zM65 488h2v1h-2zM41 489h1v1h-1zM63 489h2v1h-2zM41 491h1v1h-1zM41 492h1v1h-1zM55 492h1v1h-1zM61 492h1v1h-1zM63 492h1v1h-1zM65 492h2v1h-2zM42 493h3v1h-3zM50 493h1v1h-1zM58 493h1v1h-1zM42 494h1v1h-1zM44 494h1v1h-1zM46 494h1v1h-1zM50 494h1v1h-1zM56 494h1v1h-1zM55 495h2v1h-2zM50 496h1v1h-1z" fill="#000" fill-opacity="0.62"/>
<path d="M51 456h1v1h-1zM59 480h1v1h-1zM63 480h1v1h-1zM57 481h1v1h-1zM49 482h1v1h-1zM52 482h2v1h-2zM56 482h1v1h-1zM58 482h1v1h-1zM48 483h2v1h-2zM51 483h1v1h-1zM53 483h2v1h-2zM58 483h1v1h-1zM60 483h2v1h-2zM46 484h1v1h-1zM63 484h1v1h-1zM41 485h3v1h-3zM48 485h1v1h-1zM53 485h1v1h-1zM59 485h1v1h-1zM62 485h3v1h-3zM67 486h1v1h-1zM41 487h1v1h-1zM62 487h1v1h-1zM64 487h1v1h-1zM42 488h1v1h-1zM61 488h1v1h-1zM64 488h1v1h-1zM62 489h1v1h-1zM65 489h1v1h-1zM60 490h1v1h-1zM62 490h1v1h-1zM42 491h2v1h-2zM57 491h4v1h-4zM42 492h1v1h-1zM44 492h1v1h-1zM52 492h2v1h-2zM56 492h3v1h-3zM46 493h1v1h-1zM49 493h1v1h-1zM56 493h1v1h-1zM43 494h1v1h-1zM45 494h1v1h-1zM48 494h2v1h-2zM57 494h1v1h-1zM47 495h1v1h-1zM49 495h1v1h-1zM60 495h1v1h-1z" fill="#000" fill-opacity="0.75"/>
<path d="M54 480h1v1h-1zM45 483h2v1h-2zM52 483h1v1h-1zM59 483h1v1h-1zM45 484h1v1h-1zM47 484h2v1h-2zM50 484h6v1h-6zM57 484h3v1h-3zM44 485h4v1h-4zM49 485h4v1h-4zM54 485h5v1h-5zM60 485h1v1h-1zM42 486h5v1h-5zM48 486h13v1h-13zM63 486h1v1h-1zM43 487h19v1h-19zM43 488h18v1h-18zM62 488h1v1h-1zM42 489h20v1h-20zM41 490h19v1h-19zM61 490h1v1h-1zM44 491h11v1h-11zM56 491h1v1h-1zM61 491h1v1h-1zM64 491h1v1h-1zM45 492h7v1h-7zM54 492h1v1h-1zM45 493h1v1h-1zM47 493h2v1h-2zM52 493h1v1h-1zM55 493h1v1h-1zM47 494h1v1h-1zM51 494h1v1h-1zM54 494h1v1h-1z" fill="#000" fill-opacity="0.88"/>
<line x1="40.50" y1="471.50" x2="92.50" y2="471.50" stroke="#505050" stroke-width="1.0"/>
<line x1="50.50" y1="446.50" x2="50.50" y2="497.50" stroke="#3a3a3a" stroke-width="1.0"/>
<rect x="40.50" y="446.50" width="52.00" height="51.00" fill="none" stroke="#2a2a2a" stroke-width="1.2"/>
<text x="87.00" y="455.80" font-size="8.2" text-anchor="end" fill="#2a2a2a" stroke="#2a2a2a" stroke-width="0.12">12%</text>
<text x="29.04" y="499.20" font-size="5.3" fill="#222">10<tspan dy="-2.38" font-size="3.71">0</tspan></text>
<text x="29.04" y="486.47" font-size="5.3" fill="#222">10<tspan dy="-2.38" font-size="3.71">1</tspan></text>
<text x="29.04" y="473.40" font-size="5.3" fill="#222">10<tspan dy="-2.38" font-size="3.71">2</tspan></text>
<text x="29.04" y="461.03" font-size="5.3" fill="#222">10<tspan dy="-2.38" font-size="3.71">3</tspan></text>
<text x="29.04" y="448.30" font-size="5.3" fill="#222">10<tspan dy="-2.38" font-size="3.71">4</tspan></text>
<text x="38.11" y="507.60" font-size="5.3" fill="#222">10<tspan dy="-2.38" font-size="3.71">0</tspan></text>
<text x="49.62" y="507.60" font-size="5.3" fill="#222">10<tspan dy="-2.38" font-size="3.71">1</tspan></text>
<text x="61.65" y="507.60" font-size="5.3" fill="#222">10<tspan dy="-2.38" font-size="3.71">2</tspan></text>
<text x="74.72" y="507.60" font-size="5.3" fill="#222">10<tspan dy="-2.38" font-size="3.71">3</tspan></text>
<text x="84.92" y="507.60" font-size="5.3" fill="#222">10<tspan dy="-2.38" font-size="3.71">4</tspan></text>
<path d="M119 446h1v1h-1zM123 446h1v1h-1zM118 447h1v1h-1zM124 447h1v1h-1zM117 448h1v1h-1zM125 448h1v1h-1zM116 449h2v1h-2zM119 449h1v1h-1zM126 449h2v1h-2zM111 450h1v1h-1zM115 450h1v1h-1zM126 450h1v1h-1zM128 450h2v1h-2zM131 450h1v1h-1zM133 450h1v1h-1zM114 451h2v1h-2zM126 451h1v1h-1zM128 451h1v1h-1zM133 451h1v1h-1zM114 452h1v1h-1zM119 452h1v1h-1zM135 452h1v1h-1zM114 453h1v1h-1zM117 453h1v1h-1zM129 453h1v1h-1zM117 454h1v1h-1zM131 454h1v1h-1zM115 455h1v1h-1zM125 455h1v1h-1zM127 455h2v1h-2zM132 455h1v1h-1zM117 456h1v1h-1zM119 456h2v1h-2zM127 456h1v1h-1zM115 457h1v1h-1zM119 457h1v1h-1zM121 457h1v1h-1zM124 457h1v1h-1zM128 457h1v1h-1zM115 458h1v1h-1zM117 458h4v1h-4zM117 459h1v1h-1zM122 459h1v1h-1zM118 460h1v1h-1zM122 460h2v1h-2zM114 461h2v1h-2zM117 461h1v1h-1zM119 461h5v1h-5zM115 462h1v1h-1zM118 462h1v1h-1zM115 463h2v1h-2zM123 463h1v1h-1zM115 464h2v1h-2zM113 465h3v1h-3zM117 465h2v1h-2zM120 465h1v1h-1zM133 465h1v1h-1zM117 466h1v1h-1zM126 466h1v1h-1zM135 466h1v1h-1zM116 467h1v1h-1zM131 467h1v1h-1zM142 467h1v1h-1zM118 468h1v1h-1zM143 468h1v1h-1zM113 469h1v1h-1zM117 469h1v1h-1zM121 469h1v1h-1zM129 469h1v1h-1zM134 469h1v1h-1zM121 470h1v1h-1zM131 470h1v1h-1zM136 470h1v1h-1zM141 470h1v1h-1zM116 471h2v1h-2zM119 471h1v1h-1zM124 471h1v1h-1zM129 471h2v1h-2zM125 472h1v1h-1zM127 472h1v1h-1zM131 472h1v1h-1zM137 472h2v1h-2zM115 473h1v1h-1zM119 473h1v1h-1zM122 473h1v1h-1zM125 473h1v1h-1zM127 473h2v1h-2zM133 473h1v1h-1zM144 473h1v1h-1zM115 474h1v1h-1zM126 474h1v1h-1zM131 474h1v1h-1zM137 474h1v1h-1zM141 474h1v1h-1zM143 474h1v1h-1zM146 474h1v1h-1zM113 475h1v1h-1zM115 475h1v1h-1zM118 475h1v1h-1zM125 475h1v1h-1zM127 475h4v1h-4zM136 475h2v1h-2zM113 476h1v1h-1zM116 476h1v1h-1zM118 476h4v1h-4zM124 476h3v1h-3zM135 476h2v1h-2zM140 476h1v1h-1zM113 477h1v1h-1zM115 477h1v1h-1zM120 477h2v1h-2zM123 477h1v1h-1zM127 477h1v1h-1zM129 477h2v1h-2zM132 477h1v1h-1zM135 477h2v1h-2zM140 477h1v1h-1zM113 478h1v1h-1zM122 478h5v1h-5zM130 478h2v1h-2zM133 478h1v1h-1zM143 478h1v1h-1zM113 479h1v1h-1zM120 479h3v1h-3zM124 479h2v1h-2zM131 479h2v1h-2zM135 479h3v1h-3zM141 479h1v1h-1zM114 480h1v1h-1zM121 480h1v1h-1zM123 480h1v1h-1zM126 480h1v1h-1zM136 480h1v1h-1zM138 480h1v1h-1zM140 480h1v1h-1zM112 481h1v1h-1zM121 481h4v1h-4zM126 481h1v1h-1zM133 481h1v1h-1zM137 481h2v1h-2zM143 481h1v1h-1zM113 482h1v1h-1zM129 482h1v1h-1zM133 482h1v1h-1zM137 482h2v1h-2zM141 482h1v1h-1zM112 483h1v1h-1zM122 483h1v1h-1zM140 483h1v1h-1zM111 484h1v1h-1zM114 484h1v1h-1zM137 484h2v1h-2zM123 485h1v1h-1zM137 485h1v1h-1zM139 485h2v1h-2zM138 486h1v1h-1zM112 487h1v1h-1zM123 487h1v1h-1zM138 487h1v1h-1zM147 487h1v1h-1zM113 488h1v1h-1zM116 488h1v1h-1zM137 488h1v1h-1zM119 489h1v1h-1zM142 489h2v1h-2zM113 490h1v1h-1zM115 490h1v1h-1zM137 490h3v1h-3zM113 491h1v1h-1zM122 491h1v1h-1zM137 491h2v1h-2zM141 491h1v1h-1zM113 492h2v1h-2zM119 492h1v1h-1zM123 492h2v1h-2zM141 492h1v1h-1zM114 493h1v1h-1zM124 493h2v1h-2zM133 493h1v1h-1zM139 493h1v1h-1zM143 493h1v1h-1zM120 494h1v1h-1zM123 494h4v1h-4zM134 494h5v1h-5zM120 495h2v1h-2zM125 495h1v1h-1zM114 496h2v1h-2zM117 496h1v1h-1zM132 496h1v1h-1zM135 496h1v1h-1z" fill="#000" fill-opacity="0.25"/>
<path d="M115 448h1v1h-1zM120 448h1v1h-1zM124 448h1v1h-1zM121 449h3v1h-3zM117 450h1v1h-1zM119 450h2v1h-2zM116 451h1v1h-1zM119 451h1v1h-1zM127 451h1v1h-1zM115 452h2v1h-2zM121 452h2v1h-2zM129 452h1v1h-1zM131 452h1v1h-1zM115 453h2v1h-2zM127 453h2v1h-2zM131 453h1v1h-1zM127 454h1v1h-1zM123 456h1v1h-1zM118 457h1v1h-1zM122 457h2v1h-2zM127 457h1v1h-1zM129 457h1v1h-1zM116 458h1v1h-1zM116 459h1v1h-1zM121 459h1v1h-1zM120 460h2v1h-2zM124 460h1v1h-1zM120 462h1v1h-1zM120 463h1v1h-1zM122 463h1v1h-1zM119 464h3v1h-3zM118 466h1v1h-1zM114 470h1v1h-1zM119 470h1v1h-1zM118 471h1v1h-1zM120 471h1v1h-1zM134 471h1v1h-1zM115 472h4v1h-4zM120 472h1v1h-1zM123 472h1v1h-1zM130 472h1v1h-1zM117 473h1v1h-1zM126 473h1v1h-1zM135 473h1v1h-1zM139 473h1v1h-1zM114 474h1v1h-1zM118 474h1v1h-1zM123 474h1v1h-1zM125 474h1v1h-1zM128 474h2v1h-2zM114 475h1v1h-1zM117 475h1v1h-1zM120 475h1v1h-1zM133 475h1v1h-1zM135 475h1v1h-1zM115 476h1v1h-1zM129 476h2v1h-2zM114 477h1v1h-1zM118 477h1v1h-1zM128 477h1v1h-1zM131 477h1v1h-1zM114 478h1v1h-1zM118 478h1v1h-1zM129 478h1v1h-1zM116 479h1v1h-1zM119 479h1v1h-1zM129 479h1v1h-1zM133 479h2v1h-2zM115 480h2v1h-2zM122 480h1v1h-1zM124 480h1v1h-1zM127 480h1v1h-1zM129 480h1v1h-1zM131 480h5v1h-5zM113 481h2v1h-2zM125 481h1v1h-1zM129 481h1v1h-1zM134 481h2v1h-2zM115 482h1v1h-1zM131 482h2v1h-2zM134 482h3v1h-3zM113 483h1v1h-1zM115 483h1v1h-1zM123 483h1v1h-1zM125 483h1v1h-1zM134 483h2v1h-2zM137 483h1v1h-1zM123 484h1v1h-1zM140 484h1v1h-1zM113 485h1v1h-1zM124 485h1v1h-1zM134 485h1v1h-1zM136 485h1v1h-1zM138 485h1v1h-1zM114 486h2v1h-2zM121 486h2v1h-2zM139 486h1v1h-1zM114 487h1v1h-1zM121 487h1v1h-1zM136 487h2v1h-2zM140 487h2v1h-2zM123 488h1v1h-1zM139 488h1v1h-1zM136 489h1v1h-1zM138 489h1v1h-1zM141 489h1v1h-1zM125 490h1v1h-1zM119 491h1v1h-1zM125 491h2v1h-2zM129 491h1v1h-1zM115 492h1v1h-1zM126 492h1v1h-1zM136 492h2v1h-2zM140 492h1v1h-1zM119 493h1v1h-1zM128 493h1v1h-1zM116 494h2v1h-2zM129 494h1v1h-1zM133 494h1v1h-1zM114 495h1v1h-1zM116 495h1v1h-1zM118 495h2v1h-2zM129 495h1v1h-1zM131 495h2v1h-2zM134 495h1v1h-1zM120 496h1v1h-1z" fill="#000" fill-opacity="0.50"/>
<path d="M123 448h1v1h-1zM118 449h1v1h-1zM120 449h1v1h-1zM125 449h1v1h-1zM118 450h1v1h-1zM122 450h1v1h-1zM124 450h1v1h-1zM117 451h1v1h-1zM120 451h2v1h-2zM117 452h1v1h-1zM125 452h3v1h-3zM125 453h1v1h-1zM116 454h1v1h-1zM118 454h2v1h-2zM121 454h1v1h-1zM124 454h1v1h-1zM114 455h1v1h-1zM118 455h1v1h-1zM120 455h2v1h-2zM124 455h1v1h-1zM122 456h1v1h-1zM126 456h1v1h-1zM120 457h1v1h-1zM123 458h1v1h-1zM117 460h1v1h-1zM116 461h1v1h-1zM120 466h1v1h-1zM117 474h1v1h-1zM119 474h1v1h-1zM116 475h1v1h-1zM119 475h1v1h-1zM121 475h1v1h-1zM117 476h1v1h-1zM128 476h1v1h-1zM116 477h1v1h-1zM115 478h1v1h-1zM117 478h1v1h-1zM115 479h1v1h-1zM117 479h2v1h-2zM123 479h1v1h-1zM120 480h1v1h-1zM125 480h1v1h-1zM128 480h1v1h-1zM115 481h1v1h-1zM128 481h1v1h-1zM131 481h2v1h-2zM136 481h1v1h-1zM117 482h1v1h-1zM119 482h1v1h-1zM121 482h3v1h-3zM127 482h2v1h-2zM114 483h1v1h-1zM132 483h1v1h-1zM115 484h1v1h-1zM119 484h1v1h-1zM121 484h2v1h-2zM116 486h1v1h-1zM137 486h1v1h-1zM140 486h1v1h-1zM127 487h1v1h-1zM139 487h1v1h-1zM117 488h1v1h-1zM122 488h1v1h-1zM138 488h1v1h-1zM114 489h1v1h-1zM121 490h2v1h-2zM133 490h1v1h-1zM140 490h1v1h-1zM115 491h1v1h-1zM118 491h1v1h-1zM123 491h1v1h-1zM133 491h1v1h-1zM136 491h1v1h-1zM140 491h1v1h-1zM117 492h1v1h-1zM122 492h1v1h-1zM135 492h1v1h-1zM121 493h1v1h-1zM129 493h2v1h-2zM134 493h2v1h-2zM137 493h1v1h-1zM118 494h1v1h-1zM127 494h1v1h-1zM132 494h1v1h-1zM118 496h1v1h-1zM127 496h1v1h-1z" fill="#000" fill-opacity="0.62"/>
<path d="M123 450h1v1h-1zM123 451h2v1h-2zM118 452h1v1h-1zM113 453h1v1h-1zM120 453h1v1h-1zM123 453h1v1h-1zM126 453h1v1h-1zM120 454h1v1h-1zM125 454h2v1h-2zM128 454h1v1h-1zM119 455h1v1h-1zM122 455h2v1h-2zM121 456h1v1h-1zM124 456h1v1h-1zM117 477h1v1h-1zM120 478h1v1h-1zM128 479h1v1h-1zM117 480h1v1h-1zM119 480h1v1h-1zM118 481h1v1h-1zM127 481h1v1h-1zM130 481h1v1h-1zM118 482h1v1h-1zM124 482h3v1h-3zM130 482h1v1h-1zM117 483h2v1h-2zM120 483h2v1h-2zM124 483h1v1h-1zM128 483h1v1h-1zM131 483h1v1h-1zM136 483h1v1h-1zM116 484h1v1h-1zM120 484h1v1h-1zM124 484h1v1h-1zM131 484h2v1h-2zM136 484h1v1h-1zM117 485h1v1h-1zM120 485h1v1h-1zM122 485h1v1h-1zM125 485h1v1h-1zM128 485h1v1h-1zM135 485h1v1h-1zM119 486h2v1h-2zM123 486h1v1h-1zM126 486h1v1h-1zM135 486h1v1h-1zM115 487h2v1h-2zM118 487h2v1h-2zM122 487h1v1h-1zM128 487h1v1h-1zM115 488h1v1h-1zM121 488h1v1h-1zM129 488h1v1h-1zM132 488h1v1h-1zM120 489h1v1h-1zM122 489h2v1h-2zM134 489h2v1h-2zM137 489h1v1h-1zM116 490h2v1h-2zM119 490h2v1h-2zM132 490h1v1h-1zM135 490h2v1h-2zM117 491h1v1h-1zM120 491h2v1h-2zM124 491h1v1h-1zM134 491h1v1h-1zM116 492h1v1h-1zM120 492h2v1h-2zM125 492h1v1h-1zM127 492h4v1h-4zM132 492h1v1h-1zM134 492h1v1h-1zM115 493h1v1h-1zM117 493h2v1h-2zM126 493h1v1h-1zM131 493h1v1h-1zM115 494h1v1h-1zM119 494h1v1h-1zM130 494h2v1h-2zM115 495h1v1h-1z" fill="#000" fill-opacity="0.75"/>
<path d="M121 450h1v1h-1zM122 451h1v1h-1zM125 451h1v1h-1zM120 452h1v1h-1zM123 452h2v1h-2zM118 453h2v1h-2zM121 453h2v1h-2zM124 453h1v1h-1zM122 454h2v1h-2zM126 455h1v1h-1zM116 478h1v1h-1zM119 478h1v1h-1zM127 479h1v1h-1zM118 480h1v1h-1zM130 480h1v1h-1zM116 481h2v1h-2zM119 481h1v1h-1zM116 482h1v1h-1zM116 483h1v1h-1zM119 483h1v1h-1zM126 483h2v1h-2zM129 483h2v1h-2zM133 483h1v1h-1zM117 484h2v1h-2zM125 484h6v1h-6zM133 484h3v1h-3zM115 485h2v1h-2zM118 485h2v1h-2zM121 485h1v1h-1zM126 485h2v1h-2zM129 485h5v1h-5zM117 486h2v1h-2zM124 486h2v1h-2zM127 486h8v1h-8zM136 486h1v1h-1zM117 487h1v1h-1zM120 487h1v1h-1zM124 487h3v1h-3zM129 487h7v1h-7zM118 488h3v1h-3zM124 488h5v1h-5zM130 488h2v1h-2zM133 488h4v1h-4zM116 489h3v1h-3zM121 489h1v1h-1zM124 489h10v1h-10zM118 490h1v1h-1zM123 490h2v1h-2zM126 490h6v1h-6zM134 490h1v1h-1zM116 491h1v1h-1zM127 491h2v1h-2zM130 491h3v1h-3zM135 491h1v1h-1zM118 492h1v1h-1zM131 492h1v1h-1zM133 492h1v1h-1zM120 493h1v1h-1zM128 494h1v1h-1z" fill="#000" fill-opacity="0.88"/>
<line x1="111.50" y1="469.50" x2="163.50" y2="469.50" stroke="#505050" stroke-width="1.0"/>
<line x1="122.50" y1="444.50" x2="122.50" y2="497.50" stroke="#3a3a3a" stroke-width="1.0"/>
<rect x="111.50" y="444.50" width="52.00" height="53.00" fill="none" stroke="#2a2a2a" stroke-width="1.2"/>
<text x="158.80" y="455.90" font-size="8.2" text-anchor="end" fill="#2a2a2a" stroke="#2a2a2a" stroke-width="0.12">19%</text>
<text x="100.24" y="499.20" font-size="5.3" fill="#222">10<tspan dy="-2.38" font-size="3.71">0</tspan></text>
<text x="100.24" y="486.02" font-size="5.3" fill="#222">10<tspan dy="-2.38" font-size="3.71">1</tspan></text>
<text x="100.24" y="472.00" font-size="5.3" fill="#222">10<tspan dy="-2.38" font-size="3.71">2</tspan></text>
<text x="100.24" y="459.68" font-size="5.3" fill="#222">10<tspan dy="-2.38" font-size="3.71">3</tspan></text>
<text x="100.24" y="446.50" font-size="5.3" fill="#222">10<tspan dy="-2.38" font-size="3.71">4</tspan></text>
<text x="109.31" y="507.60" font-size="5.3" fill="#222">10<tspan dy="-2.38" font-size="3.71">0</tspan></text>
<text x="120.79" y="507.60" font-size="5.3" fill="#222">10<tspan dy="-2.38" font-size="3.71">1</tspan></text>
<text x="132.80" y="507.60" font-size="5.3" fill="#222">10<tspan dy="-2.38" font-size="3.71">2</tspan></text>
<text x="145.85" y="507.60" font-size="5.3" fill="#222">10<tspan dy="-2.38" font-size="3.71">3</tspan></text>
<text x="156.03" y="507.60" font-size="5.3" fill="#222">10<tspan dy="-2.38" font-size="3.71">4</tspan></text>
<path d="M188 446h2v1h-2zM184 447h1v1h-1zM190 447h1v1h-1zM186 448h3v1h-3zM191 448h3v1h-3zM188 449h1v1h-1zM194 449h1v1h-1zM186 450h1v1h-1zM189 450h1v1h-1zM192 450h1v1h-1zM183 451h1v1h-1zM185 451h1v1h-1zM187 451h2v1h-2zM193 451h2v1h-2zM196 451h2v1h-2zM202 451h1v1h-1zM185 452h1v1h-1zM189 452h1v1h-1zM193 452h1v1h-1zM197 452h2v1h-2zM200 452h1v1h-1zM184 453h1v1h-1zM187 453h1v1h-1zM195 453h1v1h-1zM183 454h2v1h-2zM195 454h2v1h-2zM199 454h2v1h-2zM186 455h1v1h-1zM184 456h1v1h-1zM188 456h1v1h-1zM196 456h3v1h-3zM201 456h1v1h-1zM184 457h2v1h-2zM188 457h1v1h-1zM192 457h2v1h-2zM183 458h1v1h-1zM196 458h1v1h-1zM198 458h1v1h-1zM186 459h1v1h-1zM188 459h1v1h-1zM192 459h1v1h-1zM194 459h2v1h-2zM199 459h1v1h-1zM186 460h1v1h-1zM188 460h1v1h-1zM191 460h1v1h-1zM193 460h3v1h-3zM193 461h1v1h-1zM210 461h1v1h-1zM184 462h1v1h-1zM189 462h2v1h-2zM194 462h1v1h-1zM200 462h1v1h-1zM186 463h1v1h-1zM189 463h1v1h-1zM207 463h1v1h-1zM214 463h1v1h-1zM190 464h1v1h-1zM198 465h1v1h-1zM202 465h2v1h-2zM208 465h1v1h-1zM197 466h1v1h-1zM208 466h1v1h-1zM202 467h1v1h-1zM205 467h1v1h-1zM207 467h1v1h-1zM197 468h1v1h-1zM200 468h4v1h-4zM206 468h1v1h-1zM208 468h1v1h-1zM200 469h1v1h-1zM202 469h1v1h-1zM204 469h1v1h-1zM202 470h1v1h-1zM204 470h2v1h-2zM210 470h2v1h-2zM213 470h1v1h-1zM216 470h1v1h-1zM192 471h2v1h-2zM197 471h1v1h-1zM201 471h2v1h-2zM204 471h1v1h-1zM206 471h1v1h-1zM187 472h1v1h-1zM194 472h1v1h-1zM196 472h1v1h-1zM200 472h1v1h-1zM203 472h3v1h-3zM209 472h1v1h-1zM214 472h1v1h-1zM217 472h1v1h-1zM194 473h1v1h-1zM196 473h1v1h-1zM198 473h3v1h-3zM204 473h3v1h-3zM208 473h1v1h-1zM212 473h1v1h-1zM214 473h1v1h-1zM186 474h1v1h-1zM193 474h1v1h-1zM196 474h1v1h-1zM198 474h3v1h-3zM203 474h2v1h-2zM206 474h1v1h-1zM208 474h1v1h-1zM210 474h1v1h-1zM185 475h1v1h-1zM188 475h1v1h-1zM193 475h2v1h-2zM200 475h8v1h-8zM210 475h1v1h-1zM217 475h3v1h-3zM188 476h1v1h-1zM191 476h1v1h-1zM199 476h1v1h-1zM202 476h2v1h-2zM207 476h1v1h-1zM211 476h1v1h-1zM183 477h2v1h-2zM189 477h1v1h-1zM192 477h1v1h-1zM195 477h1v1h-1zM197 477h2v1h-2zM201 477h1v1h-1zM206 477h1v1h-1zM208 477h2v1h-2zM211 477h3v1h-3zM216 477h1v1h-1zM185 478h1v1h-1zM187 478h1v1h-1zM191 478h1v1h-1zM197 478h1v1h-1zM200 478h1v1h-1zM202 478h4v1h-4zM209 478h1v1h-1zM213 478h1v1h-1zM215 478h2v1h-2zM220 478h1v1h-1zM182 479h2v1h-2zM189 479h2v1h-2zM196 479h2v1h-2zM199 479h3v1h-3zM203 479h1v1h-1zM209 479h2v1h-2zM213 479h2v1h-2zM185 480h3v1h-3zM189 480h1v1h-1zM193 480h1v1h-1zM195 480h2v1h-2zM198 480h5v1h-5zM205 480h1v1h-1zM210 480h1v1h-1zM182 481h1v1h-1zM190 481h1v1h-1zM193 481h1v1h-1zM195 481h2v1h-2zM198 481h1v1h-1zM211 481h1v1h-1zM215 481h1v1h-1zM184 482h1v1h-1zM189 482h1v1h-1zM208 482h2v1h-2zM214 482h1v1h-1zM182 483h2v1h-2zM189 483h2v1h-2zM197 483h1v1h-1zM214 483h1v1h-1zM218 483h1v1h-1zM182 484h1v1h-1zM184 484h1v1h-1zM188 484h1v1h-1zM190 484h1v1h-1zM195 484h2v1h-2zM212 484h1v1h-1zM215 484h1v1h-1zM217 484h1v1h-1zM182 485h1v1h-1zM190 485h1v1h-1zM193 485h1v1h-1zM195 485h2v1h-2zM213 485h3v1h-3zM189 486h1v1h-1zM193 486h1v1h-1zM195 486h2v1h-2zM216 486h1v1h-1zM182 487h2v1h-2zM189 487h2v1h-2zM196 487h1v1h-1zM214 487h1v1h-1zM217 487h2v1h-2zM190 488h2v1h-2zM193 488h1v1h-1zM196 488h2v1h-2zM212 488h1v1h-1zM188 489h5v1h-5zM194 489h2v1h-2zM197 489h1v1h-1zM190 490h1v1h-1zM193 490h4v1h-4zM212 490h2v1h-2zM188 491h1v1h-1zM190 491h2v1h-2zM195 491h1v1h-1zM197 491h1v1h-1zM211 491h1v1h-1zM213 491h1v1h-1zM184 492h1v1h-1zM198 492h1v1h-1zM206 492h1v1h-1zM209 492h1v1h-1zM213 492h2v1h-2zM216 492h1v1h-1zM185 493h1v1h-1zM198 493h1v1h-1zM201 493h1v1h-1zM204 493h1v1h-1zM208 493h2v1h-2zM211 493h3v1h-3zM182 494h3v1h-3zM190 494h1v1h-1zM202 494h1v1h-1zM207 494h3v1h-3zM212 494h1v1h-1zM199 495h2v1h-2zM204 495h1v1h-1zM208 495h1v1h-1zM186 496h5v1h-5zM208 496h1v1h-1zM211 496h1v1h-1z" fill="#000" fill-opacity="0.25"/>
<path d="M186 449h1v1h-1zM189 449h1v1h-1zM191 449h2v1h-2zM185 450h1v1h-1zM191 450h1v1h-1zM196 450h2v1h-2zM186 451h1v1h-1zM192 451h1v1h-1zM187 452h1v1h-1zM191 452h1v1h-1zM196 452h1v1h-1zM188 453h1v1h-1zM192 453h1v1h-1zM197 453h1v1h-1zM193 454h1v1h-1zM197 454h1v1h-1zM188 455h2v1h-2zM195 455h1v1h-1zM186 456h2v1h-2zM193 456h1v1h-1zM191 457h1v1h-1zM186 458h1v1h-1zM188 458h2v1h-2zM191 458h2v1h-2zM195 458h1v1h-1zM185 459h1v1h-1zM189 459h3v1h-3zM189 460h2v1h-2zM187 463h1v1h-1zM211 469h1v1h-1zM203 470h1v1h-1zM209 470h1v1h-1zM209 471h1v1h-1zM199 472h1v1h-1zM207 472h1v1h-1zM201 473h1v1h-1zM207 473h1v1h-1zM211 473h1v1h-1zM197 474h1v1h-1zM209 474h1v1h-1zM214 474h1v1h-1zM186 475h2v1h-2zM187 476h1v1h-1zM200 476h2v1h-2zM206 476h1v1h-1zM208 476h1v1h-1zM196 477h1v1h-1zM199 477h1v1h-1zM204 477h1v1h-1zM184 478h1v1h-1zM189 478h1v1h-1zM199 478h1v1h-1zM212 478h1v1h-1zM217 478h1v1h-1zM184 479h1v1h-1zM202 479h1v1h-1zM206 479h1v1h-1zM212 479h1v1h-1zM183 480h1v1h-1zM192 480h1v1h-1zM197 480h1v1h-1zM209 480h1v1h-1zM201 481h1v1h-1zM209 481h1v1h-1zM212 481h2v1h-2zM183 482h1v1h-1zM196 482h1v1h-1zM200 482h1v1h-1zM211 482h2v1h-2zM191 483h1v1h-1zM195 483h1v1h-1zM210 483h1v1h-1zM212 483h1v1h-1zM183 484h1v1h-1zM199 484h1v1h-1zM211 484h1v1h-1zM197 485h2v1h-2zM184 486h1v1h-1zM194 486h1v1h-1zM214 486h1v1h-1zM188 487h1v1h-1zM193 487h1v1h-1zM208 487h1v1h-1zM212 487h1v1h-1zM183 488h1v1h-1zM185 488h1v1h-1zM187 489h1v1h-1zM196 489h1v1h-1zM211 489h2v1h-2zM183 490h1v1h-1zM189 490h1v1h-1zM198 490h1v1h-1zM214 490h1v1h-1zM184 491h1v1h-1zM208 491h2v1h-2zM212 491h1v1h-1zM183 492h1v1h-1zM188 492h2v1h-2zM183 493h2v1h-2zM189 493h1v1h-1zM196 493h1v1h-1zM200 493h1v1h-1zM205 493h1v1h-1zM210 493h1v1h-1zM186 494h1v1h-1zM189 494h1v1h-1zM200 494h1v1h-1zM184 495h1v1h-1zM187 495h1v1h-1zM189 495h1v1h-1zM203 495h1v1h-1zM184 496h1v1h-1zM199 496h1v1h-1z" fill="#000" fill-opacity="0.50"/>
<path d="M195 449h1v1h-1zM188 450h1v1h-1zM190 451h1v1h-1zM190 452h1v1h-1zM192 452h1v1h-1zM194 452h2v1h-2zM189 453h1v1h-1zM194 453h1v1h-1zM191 454h1v1h-1zM194 454h1v1h-1zM187 455h1v1h-1zM190 455h1v1h-1zM196 455h2v1h-2zM191 456h1v1h-1zM195 456h1v1h-1zM186 457h2v1h-2zM184 458h1v1h-1zM194 458h1v1h-1zM193 459h1v1h-1zM208 470h1v1h-1zM185 476h1v1h-1zM185 477h2v1h-2zM188 477h1v1h-1zM202 477h1v1h-1zM188 478h1v1h-1zM206 478h1v1h-1zM205 479h1v1h-1zM188 480h1v1h-1zM207 480h1v1h-1zM186 481h1v1h-1zM189 481h1v1h-1zM200 481h1v1h-1zM204 481h1v1h-1zM206 481h1v1h-1zM208 481h1v1h-1zM210 481h1v1h-1zM198 482h2v1h-2zM199 483h1v1h-1zM213 483h1v1h-1zM189 484h1v1h-1zM197 484h1v1h-1zM184 485h1v1h-1zM189 485h1v1h-1zM199 485h1v1h-1zM188 486h1v1h-1zM212 486h1v1h-1zM197 487h2v1h-2zM215 487h1v1h-1zM189 488h1v1h-1zM195 488h1v1h-1zM198 488h1v1h-1zM213 488h1v1h-1zM198 489h2v1h-2zM197 490h1v1h-1zM211 490h1v1h-1zM189 491h1v1h-1zM198 491h2v1h-2zM200 492h1v1h-1zM205 492h1v1h-1zM207 492h2v1h-2zM210 492h1v1h-1zM212 492h1v1h-1zM186 493h2v1h-2zM199 493h1v1h-1zM202 493h1v1h-1zM187 494h1v1h-1zM201 494h1v1h-1zM206 494h1v1h-1zM185 495h2v1h-2zM185 496h1v1h-1z" fill="#000" fill-opacity="0.62"/>
<path d="M193 450h1v1h-1zM191 451h1v1h-1zM188 452h1v1h-1zM186 453h1v1h-1zM196 453h1v1h-1zM186 454h2v1h-2zM192 454h1v1h-1zM191 455h4v1h-4zM189 456h2v1h-2zM194 457h1v1h-1zM187 458h1v1h-1zM193 458h1v1h-1zM200 470h1v1h-1zM202 474h1v1h-1zM208 475h1v1h-1zM204 476h1v1h-1zM200 477h1v1h-1zM207 477h1v1h-1zM186 478h1v1h-1zM201 478h1v1h-1zM207 478h1v1h-1zM185 479h2v1h-2zM204 479h1v1h-1zM208 479h1v1h-1zM184 480h1v1h-1zM204 480h1v1h-1zM206 480h1v1h-1zM208 480h1v1h-1zM185 481h1v1h-1zM187 481h1v1h-1zM202 481h2v1h-2zM205 481h1v1h-1zM207 481h1v1h-1zM185 482h2v1h-2zM201 482h1v1h-1zM206 482h1v1h-1zM210 482h1v1h-1zM213 482h1v1h-1zM184 483h1v1h-1zM186 483h3v1h-3zM196 483h1v1h-1zM200 483h3v1h-3zM211 483h1v1h-1zM198 484h1v1h-1zM200 484h2v1h-2zM209 484h2v1h-2zM185 485h1v1h-1zM188 485h1v1h-1zM200 485h1v1h-1zM210 485h2v1h-2zM183 486h1v1h-1zM198 486h1v1h-1zM211 486h1v1h-1zM184 487h1v1h-1zM199 487h2v1h-2zM211 487h1v1h-1zM184 488h1v1h-1zM188 488h1v1h-1zM200 488h1v1h-1zM210 488h2v1h-2zM184 489h1v1h-1zM184 490h1v1h-1zM188 490h1v1h-1zM200 490h3v1h-3zM207 490h1v1h-1zM210 490h1v1h-1zM185 491h3v1h-3zM203 491h2v1h-2zM185 492h1v1h-1zM187 492h1v1h-1zM201 492h2v1h-2zM203 493h1v1h-1zM206 493h2v1h-2zM185 494h1v1h-1zM188 494h1v1h-1zM203 494h2v1h-2zM210 495h1v1h-1z" fill="#000" fill-opacity="0.75"/>
<path d="M186 452h1v1h-1zM190 453h2v1h-2zM193 453h1v1h-1zM188 454h3v1h-3zM192 456h1v1h-1zM187 479h1v1h-1zM203 480h1v1h-1zM187 482h2v1h-2zM202 482h4v1h-4zM207 482h1v1h-1zM185 483h1v1h-1zM198 483h1v1h-1zM203 483h7v1h-7zM185 484h3v1h-3zM202 484h7v1h-7zM186 485h2v1h-2zM201 485h9v1h-9zM185 486h3v1h-3zM199 486h12v1h-12zM185 487h3v1h-3zM201 487h7v1h-7zM209 487h2v1h-2zM186 488h2v1h-2zM199 488h1v1h-1zM201 488h9v1h-9zM185 489h2v1h-2zM200 489h11v1h-11zM185 490h3v1h-3zM199 490h1v1h-1zM203 490h4v1h-4zM208 490h2v1h-2zM200 491h3v1h-3zM205 491h3v1h-3zM210 491h1v1h-1zM186 492h1v1h-1zM203 492h2v1h-2zM188 493h1v1h-1zM211 494h1v1h-1z" fill="#000" fill-opacity="0.88"/>
<line x1="182.50" y1="470.50" x2="234.50" y2="470.50" stroke="#505050" stroke-width="1.0"/>
<line x1="192.50" y1="444.50" x2="192.50" y2="497.50" stroke="#3a3a3a" stroke-width="1.0"/>
<rect x="182.50" y="444.50" width="52.00" height="53.00" fill="none" stroke="#2a2a2a" stroke-width="1.2"/>
<text x="229.00" y="455.50" font-size="8.2" text-anchor="end" fill="#2a2a2a" stroke="#2a2a2a" stroke-width="0.12">15%</text>
<text x="171.24" y="499.70" font-size="5.3" fill="#222">10<tspan dy="-2.38" font-size="3.71">0</tspan></text>
<text x="171.24" y="486.55" font-size="5.3" fill="#222">10<tspan dy="-2.38" font-size="3.71">1</tspan></text>
<text x="171.24" y="472.50" font-size="5.3" fill="#222">10<tspan dy="-2.38" font-size="3.71">2</tspan></text>
<text x="171.24" y="460.25" font-size="5.3" fill="#222">10<tspan dy="-2.38" font-size="3.71">3</tspan></text>
<text x="171.24" y="447.10" font-size="5.3" fill="#222">10<tspan dy="-2.38" font-size="3.71">4</tspan></text>
<text x="180.30" y="508.10" font-size="5.3" fill="#222">10<tspan dy="-2.38" font-size="3.71">0</tspan></text>
<text x="191.74" y="508.10" font-size="5.3" fill="#222">10<tspan dy="-2.38" font-size="3.71">1</tspan></text>
<text x="203.70" y="508.10" font-size="5.3" fill="#222">10<tspan dy="-2.38" font-size="3.71">2</tspan></text>
<text x="216.70" y="508.10" font-size="5.3" fill="#222">10<tspan dy="-2.38" font-size="3.71">3</tspan></text>
<text x="226.84" y="508.10" font-size="5.3" fill="#222">10<tspan dy="-2.38" font-size="3.71">4</tspan></text>
<path d="M257 447h1v1h-1zM255 449h2v1h-2zM259 449h1v1h-1zM261 449h1v1h-1zM263 449h1v1h-1zM265 449h1v1h-1zM254 450h1v1h-1zM256 450h1v1h-1zM258 450h1v1h-1zM266 450h1v1h-1zM272 450h1v1h-1zM255 451h1v1h-1zM258 451h1v1h-1zM260 451h1v1h-1zM263 451h1v1h-1zM265 451h1v1h-1zM268 451h1v1h-1zM271 451h1v1h-1zM254 452h1v1h-1zM257 452h1v1h-1zM265 452h2v1h-2zM271 452h1v1h-1zM274 452h1v1h-1zM262 453h1v1h-1zM267 453h1v1h-1zM253 454h5v1h-5zM270 454h1v1h-1zM251 455h1v1h-1zM254 455h1v1h-1zM267 455h2v1h-2zM270 455h2v1h-2zM275 455h1v1h-1zM279 455h1v1h-1zM252 456h2v1h-2zM267 456h1v1h-1zM270 456h1v1h-1zM254 457h1v1h-1zM268 457h1v1h-1zM272 457h1v1h-1zM275 457h1v1h-1zM254 458h2v1h-2zM271 458h2v1h-2zM275 458h1v1h-1zM279 458h1v1h-1zM255 459h1v1h-1zM266 459h1v1h-1zM268 459h1v1h-1zM274 459h2v1h-2zM254 460h1v1h-1zM256 460h1v1h-1zM267 460h1v1h-1zM277 460h1v1h-1zM281 460h1v1h-1zM252 461h1v1h-1zM255 461h4v1h-4zM260 461h1v1h-1zM269 461h2v1h-2zM272 461h1v1h-1zM256 462h2v1h-2zM261 462h1v1h-1zM265 462h1v1h-1zM270 462h1v1h-1zM273 462h1v1h-1zM277 462h1v1h-1zM279 462h2v1h-2zM257 463h1v1h-1zM259 463h1v1h-1zM262 463h1v1h-1zM265 463h2v1h-2zM269 463h1v1h-1zM271 463h1v1h-1zM273 463h1v1h-1zM275 463h2v1h-2zM278 463h1v1h-1zM284 463h1v1h-1zM258 464h2v1h-2zM263 464h1v1h-1zM266 464h2v1h-2zM269 464h1v1h-1zM277 464h1v1h-1zM279 464h1v1h-1zM261 465h1v1h-1zM267 465h1v1h-1zM270 465h1v1h-1zM272 465h1v1h-1zM256 466h1v1h-1zM259 466h1v1h-1zM261 466h2v1h-2zM264 466h2v1h-2zM267 466h2v1h-2zM271 466h2v1h-2zM275 466h1v1h-1zM278 466h1v1h-1zM282 466h1v1h-1zM257 467h1v1h-1zM265 467h1v1h-1zM275 467h1v1h-1zM268 468h1v1h-1zM270 468h1v1h-1zM272 468h1v1h-1zM274 468h1v1h-1zM281 468h1v1h-1zM254 469h1v1h-1zM256 469h1v1h-1zM266 469h3v1h-3zM270 469h1v1h-1zM273 469h1v1h-1zM275 469h2v1h-2zM285 469h1v1h-1zM254 470h1v1h-1zM258 470h1v1h-1zM265 470h2v1h-2zM274 470h1v1h-1zM277 470h1v1h-1zM253 471h3v1h-3zM264 471h1v1h-1zM267 471h2v1h-2zM273 471h1v1h-1zM253 472h1v1h-1zM257 472h1v1h-1zM262 472h1v1h-1zM264 472h1v1h-1zM266 472h1v1h-1zM268 472h1v1h-1zM253 473h2v1h-2zM257 473h1v1h-1zM264 473h1v1h-1zM266 473h1v1h-1zM269 473h1v1h-1zM273 473h3v1h-3zM280 473h1v1h-1zM282 473h1v1h-1zM254 474h1v1h-1zM260 474h1v1h-1zM265 474h1v1h-1zM269 474h2v1h-2zM274 474h3v1h-3zM278 474h1v1h-1zM280 474h1v1h-1zM282 474h1v1h-1zM256 475h1v1h-1zM258 475h1v1h-1zM263 475h3v1h-3zM267 475h1v1h-1zM270 475h1v1h-1zM274 475h1v1h-1zM276 475h1v1h-1zM278 475h3v1h-3zM287 475h1v1h-1zM251 476h1v1h-1zM253 476h2v1h-2zM258 476h1v1h-1zM260 476h2v1h-2zM265 476h2v1h-2zM269 476h2v1h-2zM273 476h3v1h-3zM279 476h1v1h-1zM281 476h1v1h-1zM284 476h1v1h-1zM257 477h1v1h-1zM266 477h2v1h-2zM269 477h1v1h-1zM271 477h4v1h-4zM276 477h3v1h-3zM285 477h1v1h-1zM252 478h1v1h-1zM256 478h1v1h-1zM259 478h1v1h-1zM268 478h2v1h-2zM271 478h1v1h-1zM275 478h1v1h-1zM258 479h2v1h-2zM263 479h3v1h-3zM268 479h2v1h-2zM273 479h1v1h-1zM280 479h1v1h-1zM251 480h1v1h-1zM266 480h2v1h-2zM269 480h2v1h-2zM274 480h2v1h-2zM277 480h1v1h-1zM293 480h1v1h-1zM252 481h1v1h-1zM269 481h1v1h-1zM274 481h1v1h-1zM278 481h1v1h-1zM258 482h1v1h-1zM261 482h1v1h-1zM263 482h3v1h-3zM267 482h1v1h-1zM278 482h1v1h-1zM283 482h1v1h-1zM259 483h1v1h-1zM268 483h1v1h-1zM277 483h3v1h-3zM284 483h1v1h-1zM262 484h1v1h-1zM264 484h1v1h-1zM277 484h1v1h-1zM257 485h1v1h-1zM259 485h1v1h-1zM261 485h1v1h-1zM276 485h1v1h-1zM252 486h1v1h-1zM263 486h1v1h-1zM279 486h1v1h-1zM260 487h3v1h-3zM282 487h2v1h-2zM252 488h1v1h-1zM261 488h1v1h-1zM278 488h1v1h-1zM280 488h1v1h-1zM258 489h3v1h-3zM280 489h1v1h-1zM260 490h1v1h-1zM280 490h1v1h-1zM282 490h1v1h-1zM260 491h1v1h-1zM263 491h1v1h-1zM282 491h1v1h-1zM254 492h1v1h-1zM257 492h2v1h-2zM276 492h1v1h-1zM279 492h2v1h-2zM283 492h1v1h-1zM253 493h2v1h-2zM261 493h1v1h-1zM267 493h1v1h-1zM269 493h1v1h-1zM274 493h1v1h-1zM277 493h2v1h-2zM281 493h1v1h-1zM256 494h2v1h-2zM264 494h1v1h-1zM267 494h1v1h-1zM269 494h1v1h-1zM279 494h2v1h-2zM252 495h2v1h-2zM255 495h3v1h-3zM265 495h2v1h-2zM269 495h1v1h-1zM273 495h2v1h-2zM276 495h1v1h-1zM255 496h1v1h-1zM263 496h1v1h-1z" fill="#000" fill-opacity="0.25"/>
<path d="M257 450h1v1h-1zM263 450h1v1h-1zM265 450h1v1h-1zM257 451h1v1h-1zM266 451h1v1h-1zM256 452h1v1h-1zM260 452h1v1h-1zM263 452h1v1h-1zM259 453h1v1h-1zM270 453h1v1h-1zM268 454h2v1h-2zM253 455h1v1h-1zM255 455h1v1h-1zM269 455h1v1h-1zM251 457h1v1h-1zM267 457h1v1h-1zM269 457h1v1h-1zM256 459h1v1h-1zM261 460h1v1h-1zM271 460h1v1h-1zM275 460h1v1h-1zM265 461h2v1h-2zM260 462h1v1h-1zM262 462h3v1h-3zM267 462h1v1h-1zM269 462h1v1h-1zM271 462h1v1h-1zM274 462h1v1h-1zM261 463h1v1h-1zM263 463h1v1h-1zM262 464h1v1h-1zM264 464h1v1h-1zM273 464h1v1h-1zM276 464h1v1h-1zM264 465h1v1h-1zM267 467h1v1h-1zM270 467h1v1h-1zM272 467h1v1h-1zM275 468h1v1h-1zM269 469h1v1h-1zM271 469h1v1h-1zM263 470h1v1h-1zM267 470h1v1h-1zM270 470h1v1h-1zM262 471h1v1h-1zM275 471h1v1h-1zM267 472h1v1h-1zM270 472h2v1h-2zM276 472h1v1h-1zM256 473h1v1h-1zM263 473h1v1h-1zM267 473h1v1h-1zM256 474h1v1h-1zM261 474h1v1h-1zM267 474h1v1h-1zM273 474h1v1h-1zM272 475h2v1h-2zM255 476h1v1h-1zM257 476h1v1h-1zM262 476h1v1h-1zM264 476h1v1h-1zM268 476h1v1h-1zM272 476h1v1h-1zM252 477h1v1h-1zM256 477h1v1h-1zM265 477h1v1h-1zM270 477h1v1h-1zM275 477h1v1h-1zM279 477h2v1h-2zM255 478h1v1h-1zM273 478h1v1h-1zM254 479h1v1h-1zM262 479h1v1h-1zM274 479h1v1h-1zM276 479h1v1h-1zM252 480h2v1h-2zM258 480h1v1h-1zM263 480h1v1h-1zM265 480h1v1h-1zM272 480h2v1h-2zM251 481h1v1h-1zM258 481h1v1h-1zM265 481h1v1h-1zM267 481h1v1h-1zM272 481h1v1h-1zM279 481h1v1h-1zM259 482h1v1h-1zM273 482h1v1h-1zM275 482h1v1h-1zM277 482h1v1h-1zM280 482h1v1h-1zM252 483h1v1h-1zM257 483h1v1h-1zM264 483h1v1h-1zM274 483h1v1h-1zM259 484h1v1h-1zM263 484h1v1h-1zM278 484h1v1h-1zM258 485h1v1h-1zM278 485h3v1h-3zM251 486h1v1h-1zM278 486h1v1h-1zM256 487h1v1h-1zM258 488h1v1h-1zM265 488h1v1h-1zM276 488h2v1h-2zM261 489h1v1h-1zM263 489h1v1h-1zM273 489h1v1h-1zM278 489h1v1h-1zM281 489h1v1h-1zM257 490h1v1h-1zM262 490h1v1h-1zM264 490h1v1h-1zM251 491h3v1h-3zM278 491h2v1h-2zM263 492h1v1h-1zM271 492h1v1h-1zM277 492h2v1h-2zM264 493h1v1h-1zM268 493h1v1h-1zM273 493h1v1h-1zM276 493h1v1h-1zM255 494h1v1h-1zM262 494h1v1h-1zM265 494h1v1h-1zM271 494h1v1h-1zM267 495h2v1h-2zM253 496h2v1h-2zM256 496h1v1h-1z" fill="#000" fill-opacity="0.50"/>
<path d="M262 451h1v1h-1zM264 451h1v1h-1zM262 452h1v1h-1zM264 452h1v1h-1zM261 453h1v1h-1zM263 453h2v1h-2zM265 454h1v1h-1zM256 455h1v1h-1zM264 455h1v1h-1zM255 456h2v1h-2zM262 456h1v1h-1zM255 457h3v1h-3zM266 457h1v1h-1zM254 459h1v1h-1zM257 459h1v1h-1zM259 459h1v1h-1zM255 460h1v1h-1zM258 460h1v1h-1zM265 460h1v1h-1zM270 460h1v1h-1zM261 461h1v1h-1zM264 461h1v1h-1zM267 461h1v1h-1zM260 463h1v1h-1zM264 463h1v1h-1zM272 464h1v1h-1zM254 472h1v1h-1zM274 472h1v1h-1zM266 474h1v1h-1zM272 474h1v1h-1zM266 475h1v1h-1zM268 475h1v1h-1zM264 477h1v1h-1zM257 478h2v1h-2zM272 478h1v1h-1zM256 479h1v1h-1zM267 479h1v1h-1zM255 480h1v1h-1zM253 481h1v1h-1zM257 481h1v1h-1zM268 481h1v1h-1zM270 481h1v1h-1zM266 482h1v1h-1zM268 482h1v1h-1zM270 482h3v1h-3zM276 482h1v1h-1zM258 483h1v1h-1zM263 483h1v1h-1zM267 483h1v1h-1zM275 483h2v1h-2zM252 484h1v1h-1zM266 484h1v1h-1zM268 484h1v1h-1zM280 484h1v1h-1zM252 485h1v1h-1zM260 485h1v1h-1zM263 485h1v1h-1zM277 485h1v1h-1zM258 486h1v1h-1zM262 486h1v1h-1zM264 486h1v1h-1zM276 486h1v1h-1zM253 487h1v1h-1zM279 487h1v1h-1zM256 488h1v1h-1zM263 488h1v1h-1zM253 489h2v1h-2zM256 489h1v1h-1zM262 489h1v1h-1zM264 489h1v1h-1zM253 490h1v1h-1zM255 490h1v1h-1zM278 490h1v1h-1zM257 491h1v1h-1zM264 491h1v1h-1zM275 491h1v1h-1zM255 492h2v1h-2zM262 492h1v1h-1zM264 492h2v1h-2zM275 492h1v1h-1zM255 493h2v1h-2zM253 494h2v1h-2z" fill="#000" fill-opacity="0.62"/>
<path d="M261 451h1v1h-1zM255 452h1v1h-1zM261 452h1v1h-1zM257 453h2v1h-2zM260 453h1v1h-1zM259 454h1v1h-1zM262 454h1v1h-1zM264 454h1v1h-1zM267 454h1v1h-1zM263 455h1v1h-1zM254 456h1v1h-1zM265 456h1v1h-1zM268 456h1v1h-1zM260 457h2v1h-2zM264 457h1v1h-1zM256 458h1v1h-1zM264 458h1v1h-1zM266 458h1v1h-1zM269 458h1v1h-1zM258 459h1v1h-1zM265 459h1v1h-1zM262 460h1v1h-1zM266 460h1v1h-1zM266 462h1v1h-1zM257 474h1v1h-1zM255 475h1v1h-1zM256 476h1v1h-1zM253 477h3v1h-3zM253 478h2v1h-2zM253 479h1v1h-1zM270 479h1v1h-1zM257 480h1v1h-1zM268 480h1v1h-1zM271 480h1v1h-1zM256 481h1v1h-1zM266 481h1v1h-1zM271 481h1v1h-1zM276 481h1v1h-1zM252 482h1v1h-1zM254 482h1v1h-1zM257 482h1v1h-1zM269 482h1v1h-1zM274 482h1v1h-1zM253 483h1v1h-1zM255 483h2v1h-2zM266 483h1v1h-1zM253 484h1v1h-1zM256 484h3v1h-3zM265 484h1v1h-1zM274 484h3v1h-3zM254 485h1v1h-1zM262 485h1v1h-1zM264 485h1v1h-1zM275 485h1v1h-1zM256 486h1v1h-1zM265 486h1v1h-1zM275 486h1v1h-1zM252 487h1v1h-1zM255 487h1v1h-1zM257 487h3v1h-3zM264 487h2v1h-2zM276 487h3v1h-3zM257 488h1v1h-1zM264 488h1v1h-1zM279 488h1v1h-1zM257 489h1v1h-1zM276 489h2v1h-2zM279 489h1v1h-1zM254 490h1v1h-1zM256 490h1v1h-1zM275 490h1v1h-1zM254 491h1v1h-1zM265 491h2v1h-2zM253 492h1v1h-1zM266 492h4v1h-4zM266 493h1v1h-1zM270 493h3v1h-3zM275 493h1v1h-1zM270 494h1v1h-1zM272 494h1v1h-1zM274 494h1v1h-1zM254 495h1v1h-1z" fill="#000" fill-opacity="0.75"/>
<path d="M259 452h1v1h-1zM266 453h1v1h-1zM258 454h1v1h-1zM260 454h2v1h-2zM263 454h1v1h-1zM266 454h1v1h-1zM257 455h6v1h-6zM265 455h2v1h-2zM257 456h5v1h-5zM263 456h2v1h-2zM266 456h1v1h-1zM258 457h2v1h-2zM262 457h2v1h-2zM265 457h1v1h-1zM257 458h7v1h-7zM265 458h1v1h-1zM260 459h5v1h-5zM257 460h1v1h-1zM259 460h2v1h-2zM263 460h2v1h-2zM259 461h1v1h-1zM262 461h2v1h-2zM255 479h1v1h-1zM254 480h1v1h-1zM256 480h1v1h-1zM254 481h2v1h-2zM253 482h1v1h-1zM255 482h2v1h-2zM254 483h1v1h-1zM265 483h1v1h-1zM269 483h5v1h-5zM254 484h2v1h-2zM267 484h1v1h-1zM269 484h5v1h-5zM253 485h1v1h-1zM255 485h2v1h-2zM265 485h10v1h-10zM253 486h3v1h-3zM257 486h1v1h-1zM266 486h9v1h-9zM277 486h1v1h-1zM254 487h1v1h-1zM266 487h10v1h-10zM253 488h3v1h-3zM266 488h10v1h-10zM252 489h1v1h-1zM255 489h1v1h-1zM265 489h8v1h-8zM274 489h2v1h-2zM265 490h10v1h-10zM276 490h2v1h-2zM255 491h2v1h-2zM267 491h8v1h-8zM276 491h2v1h-2zM270 492h1v1h-1zM272 492h3v1h-3z" fill="#000" fill-opacity="0.88"/>
<line x1="251.50" y1="470.50" x2="303.50" y2="470.50" stroke="#505050" stroke-width="1.0"/>
<line x1="261.50" y1="444.50" x2="261.50" y2="497.50" stroke="#3a3a3a" stroke-width="1.0"/>
<rect x="251.50" y="444.50" width="52.00" height="53.00" fill="none" stroke="#2a2a2a" stroke-width="1.2"/>
<text x="298.80" y="455.50" font-size="8.2" text-anchor="end" fill="#2a2a2a" stroke="#2a2a2a" stroke-width="0.12">26%</text>
<text x="240.04" y="499.40" font-size="5.3" fill="#222">10<tspan dy="-2.38" font-size="3.71">0</tspan></text>
<text x="240.04" y="486.18" font-size="5.3" fill="#222">10<tspan dy="-2.38" font-size="3.71">1</tspan></text>
<text x="240.04" y="472.50" font-size="5.3" fill="#222">10<tspan dy="-2.38" font-size="3.71">2</tspan></text>
<text x="240.04" y="459.72" font-size="5.3" fill="#222">10<tspan dy="-2.38" font-size="3.71">3</tspan></text>
<text x="240.04" y="446.50" font-size="5.3" fill="#222">10<tspan dy="-2.38" font-size="3.71">4</tspan></text>
<text x="249.13" y="507.80" font-size="5.3" fill="#222">10<tspan dy="-2.38" font-size="3.71">0</tspan></text>
<text x="260.70" y="507.80" font-size="5.3" fill="#222">10<tspan dy="-2.38" font-size="3.71">1</tspan></text>
<text x="272.80" y="507.80" font-size="5.3" fill="#222">10<tspan dy="-2.38" font-size="3.71">2</tspan></text>
<text x="285.95" y="507.80" font-size="5.3" fill="#222">10<tspan dy="-2.38" font-size="3.71">3</tspan></text>
<text x="296.20" y="507.80" font-size="5.3" fill="#222">10<tspan dy="-2.38" font-size="3.71">4</tspan></text>
<path d="M61 526h1v1h-1zM56 527h1v1h-1zM59 527h1v1h-1zM56 529h1v1h-1zM58 529h1v1h-1zM58 531h2v1h-2zM61 531h1v1h-1zM49 532h1v1h-1zM55 532h1v1h-1zM58 532h1v1h-1zM60 532h2v1h-2zM54 533h1v1h-1zM56 533h1v1h-1zM58 533h2v1h-2zM53 534h1v1h-1zM55 534h1v1h-1zM58 534h1v1h-1zM60 534h2v1h-2zM63 534h1v1h-1zM52 535h1v1h-1zM54 535h1v1h-1zM57 535h1v1h-1zM61 535h2v1h-2zM56 536h1v1h-1zM61 536h2v1h-2zM53 537h1v1h-1zM58 537h1v1h-1zM61 537h1v1h-1zM54 538h2v1h-2zM55 539h1v1h-1zM61 539h1v1h-1zM53 540h2v1h-2zM57 540h1v1h-1zM60 540h2v1h-2zM56 541h1v1h-1zM59 541h2v1h-2zM54 542h1v1h-1zM57 542h1v1h-1zM59 542h1v1h-1zM61 542h1v1h-1zM54 543h4v1h-4zM63 543h1v1h-1zM65 543h1v1h-1zM58 544h2v1h-2zM62 544h1v1h-1zM54 545h1v1h-1zM57 545h1v1h-1zM64 545h1v1h-1zM53 546h2v1h-2zM59 546h1v1h-1zM63 546h1v1h-1zM55 547h1v1h-1zM58 547h2v1h-2zM58 548h1v1h-1zM58 549h3v1h-3zM64 549h1v1h-1zM53 550h1v1h-1zM60 551h1v1h-1zM64 554h1v1h-1zM64 555h1v1h-1zM67 555h3v1h-3zM71 555h1v1h-1zM64 556h1v1h-1zM70 556h1v1h-1zM60 557h2v1h-2zM72 557h2v1h-2zM56 558h1v1h-1zM48 560h1v1h-1zM50 561h1v1h-1zM52 561h1v1h-1zM55 561h1v1h-1zM73 561h1v1h-1zM50 562h1v1h-1zM52 562h1v1h-1zM53 563h2v1h-2zM48 564h1v1h-1zM53 564h1v1h-1zM50 565h1v1h-1zM71 565h1v1h-1zM51 566h1v1h-1zM51 568h1v1h-1zM52 569h1v1h-1zM51 570h1v1h-1zM66 570h1v1h-1zM50 571h1v1h-1zM52 572h1v1h-1zM52 573h1v1h-1zM63 573h1v1h-1zM53 574h1v1h-1zM55 574h1v1h-1zM61 574h1v1h-1zM51 575h1v1h-1zM54 575h1v1h-1zM53 576h1v1h-1zM60 576h1v1h-1zM53 578h1v1h-1zM58 578h1v1h-1z" fill="#000" fill-opacity="0.25"/>
<path d="M56 530h1v1h-1zM56 531h1v1h-1zM55 533h1v1h-1zM57 533h1v1h-1zM60 533h1v1h-1zM57 534h1v1h-1zM53 535h1v1h-1zM60 535h1v1h-1zM57 536h1v1h-1zM59 536h2v1h-2zM57 537h1v1h-1zM56 538h1v1h-1zM61 538h1v1h-1zM57 539h1v1h-1zM59 539h2v1h-2zM56 540h1v1h-1zM59 540h1v1h-1zM58 541h1v1h-1zM60 548h1v1h-1zM61 556h1v1h-1zM67 556h1v1h-1zM73 559h1v1h-1zM58 560h1v1h-1zM52 564h1v1h-1zM55 564h1v1h-1zM70 564h2v1h-2zM54 565h1v1h-1zM52 566h1v1h-1zM69 566h1v1h-1zM49 569h1v1h-1zM52 570h2v1h-2zM65 570h1v1h-1zM62 572h2v1h-2zM54 574h1v1h-1zM56 574h1v1h-1zM59 574h1v1h-1zM62 574h1v1h-1z" fill="#000" fill-opacity="0.50"/>
<path d="M59 534h1v1h-1zM58 536h1v1h-1zM56 537h1v1h-1zM58 538h2v1h-2zM58 539h1v1h-1zM62 539h1v1h-1zM68 556h1v1h-1zM69 557h1v1h-1zM73 558h1v1h-1zM59 560h1v1h-1zM58 561h2v1h-2zM72 561h1v1h-1zM56 562h1v1h-1zM65 562h1v1h-1zM72 562h1v1h-1zM66 563h1v1h-1zM57 564h1v1h-1zM53 565h1v1h-1zM60 565h1v1h-1zM69 565h1v1h-1zM53 567h1v1h-1zM68 567h1v1h-1zM52 568h2v1h-2zM57 568h1v1h-1zM66 568h2v1h-2zM66 569h1v1h-1zM52 571h1v1h-1zM58 571h1v1h-1zM63 571h2v1h-2zM59 572h1v1h-1zM51 573h1v1h-1zM53 573h1v1h-1zM59 573h2v1h-2zM62 573h1v1h-1zM60 574h1v1h-1z" fill="#000" fill-opacity="0.62"/>
<path d="M58 535h1v1h-1zM60 537h1v1h-1zM66 555h1v1h-1zM63 556h1v1h-1zM66 556h1v1h-1zM69 556h1v1h-1zM71 556h1v1h-1zM62 557h1v1h-1zM64 557h1v1h-1zM66 557h2v1h-2zM60 558h1v1h-1zM62 558h1v1h-1zM67 558h2v1h-2zM59 559h2v1h-2zM62 559h2v1h-2zM66 559h2v1h-2zM72 559h1v1h-1zM60 560h1v1h-1zM65 560h1v1h-1zM68 560h1v1h-1zM72 560h1v1h-1zM57 562h1v1h-1zM63 562h1v1h-1zM66 562h1v1h-1zM71 562h1v1h-1zM55 563h1v1h-1zM68 563h1v1h-1zM70 563h3v1h-3zM54 564h1v1h-1zM62 565h1v1h-1zM64 565h1v1h-1zM68 565h1v1h-1zM53 566h1v1h-1zM55 566h1v1h-1zM68 566h1v1h-1zM52 567h1v1h-1zM67 567h1v1h-1zM60 568h1v1h-1zM65 568h1v1h-1zM63 569h1v1h-1zM55 570h1v1h-1zM54 571h1v1h-1zM57 573h1v1h-1zM58 574h1v1h-1z" fill="#000" fill-opacity="0.75"/>
<path d="M65 556h1v1h-1zM63 557h1v1h-1zM65 557h1v1h-1zM68 557h1v1h-1zM70 557h2v1h-2zM61 558h1v1h-1zM63 558h4v1h-4zM69 558h4v1h-4zM61 559h1v1h-1zM64 559h2v1h-2zM68 559h4v1h-4zM61 560h4v1h-4zM66 560h2v1h-2zM69 560h3v1h-3zM60 561h12v1h-12zM58 562h5v1h-5zM64 562h1v1h-1zM67 562h4v1h-4zM56 563h10v1h-10zM67 563h1v1h-1zM69 563h1v1h-1zM56 564h1v1h-1zM58 564h12v1h-12zM55 565h5v1h-5zM61 565h1v1h-1zM63 565h1v1h-1zM65 565h3v1h-3zM54 566h1v1h-1zM56 566h12v1h-12zM54 567h13v1h-13zM54 568h3v1h-3zM58 568h2v1h-2zM61 568h4v1h-4zM53 569h10v1h-10zM64 569h2v1h-2zM54 570h1v1h-1zM56 570h9v1h-9zM53 571h1v1h-1zM55 571h3v1h-3zM59 571h4v1h-4zM53 572h6v1h-6zM60 572h2v1h-2zM54 573h3v1h-3zM58 573h1v1h-1zM61 573h1v1h-1z" fill="#000" fill-opacity="0.88"/>
<line x1="40.50" y1="552.50" x2="92.50" y2="552.50" stroke="#505050" stroke-width="1.0"/>
<line x1="51.50" y1="525.50" x2="51.50" y2="579.50" stroke="#3a3a3a" stroke-width="1.0"/>
<rect x="40.50" y="525.50" width="52.00" height="54.00" fill="none" stroke="#2a2a2a" stroke-width="1.2"/>
<text x="89.00" y="536.20" font-size="8.2" text-anchor="end" fill="#2a2a2a" stroke="#2a2a2a" stroke-width="0.12">6.5%</text>
<text x="45.85" y="538.85" font-size="3.0" text-anchor="middle" fill="#555" stroke="#555" stroke-width="0.12">88</text>
<text x="72.60" y="542.70" font-size="3.0" text-anchor="middle" fill="#555" stroke="#555" stroke-width="0.12">87</text>
<text x="29.34" y="581.40" font-size="5.3" fill="#222">10<tspan dy="-2.38" font-size="3.71">0</tspan></text>
<text x="29.34" y="567.98" font-size="5.3" fill="#222">10<tspan dy="-2.38" font-size="3.71">1</tspan></text>
<text x="29.34" y="554.40" font-size="5.3" fill="#222">10<tspan dy="-2.38" font-size="3.71">2</tspan></text>
<text x="29.34" y="541.12" font-size="5.3" fill="#222">10<tspan dy="-2.38" font-size="3.71">3</tspan></text>
<text x="29.34" y="527.70" font-size="5.3" fill="#222">10<tspan dy="-2.38" font-size="3.71">4</tspan></text>
<text x="38.41" y="589.80" font-size="5.3" fill="#222">10<tspan dy="-2.38" font-size="3.71">0</tspan></text>
<text x="49.87" y="589.80" font-size="5.3" fill="#222">10<tspan dy="-2.38" font-size="3.71">1</tspan></text>
<text x="61.85" y="589.80" font-size="5.3" fill="#222">10<tspan dy="-2.38" font-size="3.71">2</tspan></text>
<text x="74.88" y="589.80" font-size="5.3" fill="#222">10<tspan dy="-2.38" font-size="3.71">3</tspan></text>
<text x="85.04" y="589.80" font-size="5.3" fill="#222">10<tspan dy="-2.38" font-size="3.71">4</tspan></text>
<path d="M136 527h1v1h-1zM129 528h1v1h-1zM131 529h1v1h-1zM135 529h3v1h-3zM130 530h1v1h-1zM136 530h1v1h-1zM128 532h1v1h-1zM138 532h1v1h-1zM136 533h1v1h-1zM138 533h1v1h-1zM127 534h1v1h-1zM135 534h2v1h-2zM129 535h1v1h-1zM136 535h1v1h-1zM128 536h1v1h-1zM137 536h1v1h-1zM128 537h1v1h-1zM133 537h1v1h-1zM135 537h1v1h-1zM137 537h1v1h-1zM128 538h3v1h-3zM134 538h1v1h-1zM136 538h1v1h-1zM128 539h1v1h-1zM131 539h1v1h-1zM127 540h2v1h-2zM134 540h1v1h-1zM129 541h1v1h-1zM135 541h2v1h-2zM130 542h1v1h-1zM135 542h2v1h-2zM129 543h3v1h-3zM128 545h1v1h-1zM135 545h1v1h-1zM132 546h1v1h-1zM129 547h1v1h-1zM136 547h1v1h-1zM132 548h1v1h-1zM134 548h1v1h-1zM130 549h1v1h-1zM131 550h2v1h-2zM134 551h2v1h-2zM133 552h2v1h-2zM131 553h1v1h-1zM135 553h1v1h-1zM134 554h1v1h-1zM137 554h1v1h-1zM139 555h2v1h-2zM142 555h1v1h-1zM134 556h1v1h-1zM136 556h1v1h-1zM120 557h1v1h-1zM135 557h1v1h-1zM136 558h1v1h-1zM134 559h1v1h-1zM121 560h1v1h-1zM124 560h1v1h-1zM133 560h1v1h-1zM144 561h1v1h-1zM125 562h2v1h-2zM129 562h1v1h-1zM143 562h1v1h-1zM120 563h2v1h-2zM124 563h1v1h-1zM128 563h1v1h-1zM142 563h1v1h-1zM122 564h1v1h-1zM124 564h3v1h-3zM124 565h1v1h-1zM141 565h1v1h-1zM138 567h1v1h-1zM120 568h1v1h-1zM122 568h1v1h-1zM138 568h1v1h-1zM122 569h1v1h-1zM117 570h1v1h-1zM122 570h2v1h-2zM136 570h1v1h-1zM119 571h1v1h-1zM136 571h1v1h-1zM117 572h1v1h-1zM121 572h2v1h-2zM121 573h1v1h-1zM123 573h1v1h-1zM125 573h1v1h-1zM132 573h1v1h-1zM123 574h1v1h-1zM126 574h1v1h-1zM128 574h1v1h-1zM132 574h1v1h-1zM120 575h1v1h-1zM123 575h1v1h-1zM127 575h1v1h-1zM132 576h1v1h-1zM121 577h1v1h-1zM126 577h2v1h-2zM120 578h1v1h-1zM131 578h1v1h-1z" fill="#000" fill-opacity="0.25"/>
<path d="M131 528h1v1h-1zM133 528h1v1h-1zM134 529h1v1h-1zM137 530h1v1h-1zM129 532h1v1h-1zM135 532h1v1h-1zM128 533h2v1h-2zM135 533h1v1h-1zM128 534h1v1h-1zM129 536h2v1h-2zM136 536h1v1h-1zM131 538h1v1h-1zM134 539h1v1h-1zM131 540h3v1h-3zM130 541h1v1h-1zM132 541h1v1h-1zM131 542h1v1h-1zM134 542h1v1h-1zM130 544h1v1h-1zM134 544h1v1h-1zM130 545h1v1h-1zM132 545h1v1h-1zM130 546h1v1h-1zM133 546h1v1h-1zM135 547h1v1h-1zM130 548h2v1h-2zM136 548h1v1h-1zM133 549h1v1h-1zM133 550h1v1h-1zM135 550h1v1h-1zM132 553h2v1h-2zM140 556h2v1h-2zM138 557h1v1h-1zM135 558h1v1h-1zM145 558h1v1h-1zM144 560h1v1h-1zM126 561h1v1h-1zM143 561h1v1h-1zM142 562h1v1h-1zM126 563h1v1h-1zM123 567h2v1h-2zM137 567h1v1h-1zM135 570h1v1h-1zM123 571h1v1h-1zM135 571h1v1h-1zM128 573h1v1h-1zM130 573h2v1h-2zM134 573h1v1h-1zM129 574h1v1h-1z" fill="#000" fill-opacity="0.50"/>
<path d="M132 529h1v1h-1zM129 531h2v1h-2zM134 532h1v1h-1zM133 539h1v1h-1zM135 539h1v1h-1zM131 541h1v1h-1zM134 541h1v1h-1zM133 542h1v1h-1zM135 543h1v1h-1zM131 545h1v1h-1zM133 545h1v1h-1zM134 546h2v1h-2zM131 547h1v1h-1zM133 547h1v1h-1zM135 548h1v1h-1zM131 549h2v1h-2zM135 549h1v1h-1zM132 551h2v1h-2zM137 558h1v1h-1zM135 559h2v1h-2zM145 559h1v1h-1zM134 560h1v1h-1zM131 561h2v1h-2zM140 564h1v1h-1zM140 565h1v1h-1zM136 569h1v1h-1zM123 572h1v1h-1zM125 572h2v1h-2zM124 573h1v1h-1zM126 573h1v1h-1z" fill="#000" fill-opacity="0.62"/>
<path d="M132 530h1v1h-1zM135 530h1v1h-1zM132 531h1v1h-1zM134 531h2v1h-2zM132 532h1v1h-1zM136 532h1v1h-1zM130 533h1v1h-1zM134 533h1v1h-1zM134 535h1v1h-1zM131 536h1v1h-1zM135 536h1v1h-1zM130 537h3v1h-3zM134 537h1v1h-1zM132 538h2v1h-2zM135 538h1v1h-1zM132 539h1v1h-1zM135 540h1v1h-1zM132 543h1v1h-1zM134 543h1v1h-1zM131 544h3v1h-3zM134 545h1v1h-1zM132 547h1v1h-1zM134 547h1v1h-1zM133 548h1v1h-1zM134 549h1v1h-1zM131 551h1v1h-1zM142 556h1v1h-1zM141 557h1v1h-1zM138 558h1v1h-1zM144 558h1v1h-1zM141 560h1v1h-1zM141 561h2v1h-2zM130 562h1v1h-1zM132 562h1v1h-1zM129 563h1v1h-1zM136 563h1v1h-1zM127 564h2v1h-2zM125 565h2v1h-2zM139 565h1v1h-1zM124 566h1v1h-1zM134 566h1v1h-1zM139 566h1v1h-1zM124 568h1v1h-1zM137 568h1v1h-1zM123 569h1v1h-1zM135 569h1v1h-1zM133 571h2v1h-2zM124 572h1v1h-1zM127 572h1v1h-1zM133 572h1v1h-1z" fill="#000" fill-opacity="0.75"/>
<path d="M131 530h1v1h-1zM133 530h2v1h-2zM131 531h1v1h-1zM133 531h1v1h-1zM131 532h1v1h-1zM133 532h1v1h-1zM131 533h3v1h-3zM130 534h5v1h-5zM130 535h4v1h-4zM135 535h1v1h-1zM132 536h3v1h-3zM133 541h1v1h-1zM132 542h1v1h-1zM133 543h1v1h-1zM134 550h1v1h-1zM139 557h2v1h-2zM142 557h2v1h-2zM139 558h5v1h-5zM137 559h8v1h-8zM135 560h6v1h-6zM142 560h2v1h-2zM133 561h8v1h-8zM131 562h1v1h-1zM133 562h9v1h-9zM130 563h6v1h-6zM137 563h5v1h-5zM129 564h11v1h-11zM127 565h12v1h-12zM125 566h9v1h-9zM135 566h4v1h-4zM125 567h12v1h-12zM125 568h12v1h-12zM124 569h11v1h-11zM124 570h11v1h-11zM124 571h9v1h-9zM128 572h5v1h-5z" fill="#000" fill-opacity="0.88"/>
<line x1="111.50" y1="552.50" x2="163.50" y2="552.50" stroke="#505050" stroke-width="1.0"/>
<line x1="122.50" y1="525.50" x2="122.50" y2="580.50" stroke="#3a3a3a" stroke-width="1.0"/>
<rect x="111.50" y="525.50" width="52.00" height="55.00" fill="none" stroke="#2a2a2a" stroke-width="1.2"/>
<text x="159.60" y="535.70" font-size="8.2" text-anchor="end" fill="#2a2a2a" stroke="#2a2a2a" stroke-width="0.12">15%</text>
<text x="116.85" y="539.00" font-size="3.0" text-anchor="middle" fill="#555" stroke="#555" stroke-width="0.12">88</text>
<text x="143.64" y="542.20" font-size="3.0" text-anchor="middle" fill="#555" stroke="#555" stroke-width="0.12">87</text>
<text x="100.44" y="582.20" font-size="5.3" fill="#222">10<tspan dy="-2.38" font-size="3.71">0</tspan></text>
<text x="100.44" y="568.65" font-size="5.3" fill="#222">10<tspan dy="-2.38" font-size="3.71">1</tspan></text>
<text x="100.44" y="554.40" font-size="5.3" fill="#222">10<tspan dy="-2.38" font-size="3.71">2</tspan></text>
<text x="100.44" y="541.55" font-size="5.3" fill="#222">10<tspan dy="-2.38" font-size="3.71">3</tspan></text>
<text x="100.44" y="528.00" font-size="5.3" fill="#222">10<tspan dy="-2.38" font-size="3.71">4</tspan></text>
<text x="109.50" y="590.60" font-size="5.3" fill="#222">10<tspan dy="-2.38" font-size="3.71">0</tspan></text>
<text x="120.94" y="590.60" font-size="5.3" fill="#222">10<tspan dy="-2.38" font-size="3.71">1</tspan></text>
<text x="132.90" y="590.60" font-size="5.3" fill="#222">10<tspan dy="-2.38" font-size="3.71">2</tspan></text>
<text x="145.90" y="590.60" font-size="5.3" fill="#222">10<tspan dy="-2.38" font-size="3.71">3</tspan></text>
<text x="156.04" y="590.60" font-size="5.3" fill="#222">10<tspan dy="-2.38" font-size="3.71">4</tspan></text>
<path d="M197 527h1v1h-1zM199 527h1v1h-1zM204 528h1v1h-1zM198 529h1v1h-1zM202 529h1v1h-1zM198 530h1v1h-1zM201 530h1v1h-1zM204 530h1v1h-1zM206 530h1v1h-1zM206 531h1v1h-1zM205 532h2v1h-2zM197 533h1v1h-1zM207 533h1v1h-1zM197 535h1v1h-1zM206 535h1v1h-1zM195 536h1v1h-1zM208 536h1v1h-1zM198 537h1v1h-1zM207 537h1v1h-1zM206 538h1v1h-1zM199 539h1v1h-1zM196 540h1v1h-1zM199 541h1v1h-1zM206 541h1v1h-1zM202 542h1v1h-1zM205 542h2v1h-2zM198 543h1v1h-1zM202 544h1v1h-1zM208 544h1v1h-1zM210 544h1v1h-1zM199 545h1v1h-1zM204 545h2v1h-2zM204 546h1v1h-1zM207 546h1v1h-1zM199 547h2v1h-2zM202 547h1v1h-1zM197 548h1v1h-1zM203 548h1v1h-1zM206 548h1v1h-1zM209 548h1v1h-1zM203 549h1v1h-1zM206 549h1v1h-1zM203 550h1v1h-1zM193 551h2v1h-2zM196 551h1v1h-1zM199 551h2v1h-2zM202 551h2v1h-2zM207 551h1v1h-1zM192 552h1v1h-1zM201 552h1v1h-1zM205 552h1v1h-1zM193 553h1v1h-1zM196 553h1v1h-1zM203 553h1v1h-1zM194 554h1v1h-1zM202 554h3v1h-3zM195 555h1v1h-1zM197 555h4v1h-4zM205 555h1v1h-1zM194 556h3v1h-3zM198 556h1v1h-1zM204 556h1v1h-1zM196 557h3v1h-3zM200 557h1v1h-1zM203 557h1v1h-1zM194 558h1v1h-1zM197 558h1v1h-1zM216 558h1v1h-1zM215 559h1v1h-1zM191 560h1v1h-1zM194 560h1v1h-1zM196 560h1v1h-1zM191 561h1v1h-1zM213 561h2v1h-2zM191 562h2v1h-2zM194 562h1v1h-1zM192 563h1v1h-1zM212 563h1v1h-1zM192 564h1v1h-1zM210 564h2v1h-2zM191 565h2v1h-2zM210 565h1v1h-1zM195 566h1v1h-1zM194 567h1v1h-1zM207 567h1v1h-1zM192 568h3v1h-3zM192 569h1v1h-1zM206 569h1v1h-1zM190 570h1v1h-1zM204 571h1v1h-1zM192 572h2v1h-2zM199 572h1v1h-1zM203 572h1v1h-1zM193 573h1v1h-1zM196 573h1v1h-1zM200 573h1v1h-1zM194 574h1v1h-1zM197 574h1v1h-1zM188 575h2v1h-2zM194 575h1v1h-1zM196 575h2v1h-2zM199 575h1v1h-1zM197 576h1v1h-1zM194 577h1v1h-1zM196 577h1v1h-1zM198 577h1v1h-1zM198 578h1v1h-1z" fill="#000" fill-opacity="0.25"/>
<path d="M203 528h1v1h-1zM200 529h1v1h-1zM199 530h1v1h-1zM198 531h2v1h-2zM203 531h1v1h-1zM199 532h2v1h-2zM206 533h1v1h-1zM198 534h2v1h-2zM198 535h2v1h-2zM205 537h1v1h-1zM198 538h1v1h-1zM206 539h1v1h-1zM198 540h2v1h-2zM205 540h1v1h-1zM203 541h1v1h-1zM205 541h1v1h-1zM200 542h2v1h-2zM204 542h1v1h-1zM200 543h2v1h-2zM203 543h1v1h-1zM205 543h1v1h-1zM203 544h3v1h-3zM197 545h1v1h-1zM201 545h1v1h-1zM203 545h1v1h-1zM206 545h1v1h-1zM197 546h1v1h-1zM201 546h1v1h-1zM197 547h1v1h-1zM201 547h1v1h-1zM203 547h1v1h-1zM205 547h1v1h-1zM198 548h1v1h-1zM200 548h1v1h-1zM205 548h1v1h-1zM196 549h1v1h-1zM205 549h1v1h-1zM194 550h1v1h-1zM199 550h2v1h-2zM205 550h1v1h-1zM201 551h1v1h-1zM199 552h1v1h-1zM204 552h1v1h-1zM192 553h1v1h-1zM199 553h1v1h-1zM201 553h2v1h-2zM206 553h1v1h-1zM199 554h1v1h-1zM196 555h1v1h-1zM199 556h1v1h-1zM202 556h1v1h-1zM201 557h1v1h-1zM209 557h1v1h-1zM211 557h1v1h-1zM193 558h1v1h-1zM198 558h1v1h-1zM215 558h1v1h-1zM197 559h1v1h-1zM199 559h1v1h-1zM195 560h1v1h-1zM196 561h1v1h-1zM193 562h1v1h-1zM195 562h1v1h-1zM196 563h1v1h-1zM193 564h1v1h-1zM195 564h1v1h-1zM195 565h1v1h-1zM194 566h1v1h-1zM195 568h1v1h-1zM194 569h1v1h-1zM204 570h1v1h-1zM194 571h1v1h-1zM194 572h1v1h-1zM194 573h1v1h-1zM198 573h2v1h-2z" fill="#000" fill-opacity="0.50"/>
<path d="M202 530h1v1h-1zM204 531h1v1h-1zM199 533h1v1h-1zM205 535h1v1h-1zM198 536h1v1h-1zM206 537h1v1h-1zM199 538h2v1h-2zM203 538h1v1h-1zM205 539h1v1h-1zM203 540h2v1h-2zM200 541h1v1h-1zM204 541h1v1h-1zM203 542h1v1h-1zM204 543h1v1h-1zM200 544h2v1h-2zM200 545h1v1h-1zM200 546h1v1h-1zM200 549h1v1h-1zM202 549h1v1h-1zM205 551h1v1h-1zM200 552h1v1h-1zM205 556h1v1h-1zM215 557h1v1h-1zM200 558h1v1h-1zM198 560h1v1h-1zM197 561h1v1h-1zM196 562h1v1h-1zM212 562h1v1h-1zM195 563h1v1h-1zM211 563h1v1h-1zM198 564h1v1h-1zM195 567h1v1h-1zM204 568h1v1h-1zM195 569h1v1h-1zM205 569h1v1h-1zM194 570h2v1h-2zM202 572h1v1h-1zM197 573h1v1h-1z" fill="#000" fill-opacity="0.62"/>
<path d="M203 530h1v1h-1zM200 531h1v1h-1zM205 531h1v1h-1zM198 532h1v1h-1zM203 532h2v1h-2zM205 533h1v1h-1zM204 535h1v1h-1zM201 536h1v1h-1zM205 536h1v1h-1zM199 537h1v1h-1zM205 538h1v1h-1zM200 539h2v1h-2zM204 539h1v1h-1zM200 540h1v1h-1zM201 541h2v1h-2zM199 543h1v1h-1zM198 544h1v1h-1zM202 545h1v1h-1zM202 546h2v1h-2zM204 547h1v1h-1zM206 547h1v1h-1zM201 548h2v1h-2zM204 548h1v1h-1zM199 549h1v1h-1zM204 549h1v1h-1zM198 550h1v1h-1zM204 550h1v1h-1zM202 552h2v1h-2zM201 555h1v1h-1zM205 557h1v1h-1zM207 557h2v1h-2zM210 557h1v1h-1zM212 557h2v1h-2zM201 558h1v1h-1zM208 558h1v1h-1zM214 558h1v1h-1zM198 559h1v1h-1zM200 559h1v1h-1zM204 559h1v1h-1zM214 559h1v1h-1zM200 560h1v1h-1zM210 560h1v1h-1zM214 560h1v1h-1zM212 561h1v1h-1zM209 563h1v1h-1zM200 564h1v1h-1zM208 565h2v1h-2zM196 566h1v1h-1zM197 567h1v1h-1zM206 567h1v1h-1zM205 568h2v1h-2zM195 572h1v1h-1zM197 572h2v1h-2zM201 572h1v1h-1z" fill="#000" fill-opacity="0.75"/>
<path d="M201 531h2v1h-2zM201 532h2v1h-2zM200 533h5v1h-5zM200 534h6v1h-6zM200 535h4v1h-4zM199 536h2v1h-2zM202 536h3v1h-3zM200 537h5v1h-5zM201 538h2v1h-2zM204 538h1v1h-1zM202 539h1v1h-1zM201 540h2v1h-2zM201 549h1v1h-1zM201 550h2v1h-2zM204 557h1v1h-1zM206 557h1v1h-1zM202 558h6v1h-6zM209 558h5v1h-5zM201 559h3v1h-3zM205 559h9v1h-9zM199 560h1v1h-1zM201 560h9v1h-9zM211 560h3v1h-3zM198 561h14v1h-14zM197 562h15v1h-15zM197 563h12v1h-12zM210 563h1v1h-1zM196 564h2v1h-2zM199 564h1v1h-1zM201 564h9v1h-9zM196 565h12v1h-12zM197 566h11v1h-11zM196 567h1v1h-1zM198 567h8v1h-8zM196 568h8v1h-8zM196 569h9v1h-9zM196 570h8v1h-8zM195 571h8v1h-8zM196 572h1v1h-1zM200 572h1v1h-1z" fill="#000" fill-opacity="0.88"/>
<line x1="181.50" y1="552.50" x2="233.50" y2="552.50" stroke="#505050" stroke-width="1.0"/>
<line x1="192.50" y1="525.50" x2="192.50" y2="580.50" stroke="#3a3a3a" stroke-width="1.0"/>
<rect x="181.50" y="525.50" width="52.00" height="55.00" fill="none" stroke="#2a2a2a" stroke-width="1.2"/>
<text x="230.30" y="536.20" font-size="8.2" text-anchor="end" fill="#2a2a2a" stroke="#2a2a2a" stroke-width="0.12">20%</text>
<text x="187.10" y="539.20" font-size="3.0" text-anchor="middle" fill="#555" stroke="#555" stroke-width="0.12">88</text>
<text x="213.82" y="542.70" font-size="3.0" text-anchor="middle" fill="#555" stroke="#555" stroke-width="0.12">87</text>
<text x="170.74" y="582.50" font-size="5.3" fill="#222">10<tspan dy="-2.38" font-size="3.71">0</tspan></text>
<text x="170.74" y="568.85" font-size="5.3" fill="#222">10<tspan dy="-2.38" font-size="3.71">1</tspan></text>
<text x="170.74" y="554.90" font-size="5.3" fill="#222">10<tspan dy="-2.38" font-size="3.71">2</tspan></text>
<text x="170.74" y="541.55" font-size="5.3" fill="#222">10<tspan dy="-2.38" font-size="3.71">3</tspan></text>
<text x="170.74" y="527.90" font-size="5.3" fill="#222">10<tspan dy="-2.38" font-size="3.71">4</tspan></text>
<text x="179.79" y="590.90" font-size="5.3" fill="#222">10<tspan dy="-2.38" font-size="3.71">0</tspan></text>
<text x="191.19" y="590.90" font-size="5.3" fill="#222">10<tspan dy="-2.38" font-size="3.71">1</tspan></text>
<text x="203.10" y="590.90" font-size="5.3" fill="#222">10<tspan dy="-2.38" font-size="3.71">2</tspan></text>
<text x="216.05" y="590.90" font-size="5.3" fill="#222">10<tspan dy="-2.38" font-size="3.71">3</tspan></text>
<text x="226.15" y="590.90" font-size="5.3" fill="#222">10<tspan dy="-2.38" font-size="3.71">4</tspan></text>
<path d="M268 532h1v1h-1zM267 534h1v1h-1zM276 534h1v1h-1zM267 535h1v1h-1zM276 536h2v1h-2zM276 537h2v1h-2zM267 538h1v1h-1zM267 539h1v1h-1zM277 540h1v1h-1zM267 541h1v1h-1zM277 542h1v1h-1zM277 544h1v1h-1zM267 545h2v1h-2zM277 545h1v1h-1zM277 548h1v1h-1zM277 549h1v1h-1zM267 551h1v1h-1zM277 551h1v1h-1zM274 552h1v1h-1zM267 553h1v1h-1zM269 553h2v1h-2zM272 553h1v1h-1zM264 554h1v1h-1zM264 555h1v1h-1zM263 556h1v1h-1zM271 556h1v1h-1zM256 557h2v1h-2zM261 557h1v1h-1zM266 557h1v1h-1zM280 557h1v1h-1zM260 558h1v1h-1zM264 558h3v1h-3zM280 558h1v1h-1zM264 559h1v1h-1zM265 560h1v1h-1zM282 560h1v1h-1zM260 561h1v1h-1zM262 561h1v1h-1zM264 561h1v1h-1zM281 561h1v1h-1zM263 562h1v1h-1zM265 562h1v1h-1zM264 563h2v1h-2zM261 564h1v1h-1zM279 564h1v1h-1zM260 566h1v1h-1zM262 566h1v1h-1zM255 567h1v1h-1zM259 567h2v1h-2zM264 568h1v1h-1zM277 568h1v1h-1zM261 569h2v1h-2zM258 570h1v1h-1zM261 570h1v1h-1zM276 570h1v1h-1zM260 572h3v1h-3zM268 572h1v1h-1zM274 572h1v1h-1zM264 573h1v1h-1zM270 573h1v1h-1zM272 573h1v1h-1zM274 573h1v1h-1zM263 574h1v1h-1zM266 574h1v1h-1zM263 575h1v1h-1zM265 575h1v1h-1zM268 575h3v1h-3zM261 576h1v1h-1zM270 576h1v1h-1zM265 577h1v1h-1zM268 578h2v1h-2z" fill="#000" fill-opacity="0.25"/>
<path d="M272 532h1v1h-1zM275 533h1v1h-1zM268 535h1v1h-1zM268 539h1v1h-1zM277 541h1v1h-1zM268 546h1v1h-1zM268 549h1v1h-1zM277 550h1v1h-1zM271 553h1v1h-1zM265 554h1v1h-1zM265 556h1v1h-1zM270 557h1v1h-1zM274 557h1v1h-1zM276 557h1v1h-1zM278 558h2v1h-2zM266 559h1v1h-1zM282 559h1v1h-1zM271 560h1v1h-1zM265 561h1v1h-1zM264 562h1v1h-1zM257 563h1v1h-1zM280 564h1v1h-1zM263 565h1v1h-1zM263 567h1v1h-1zM258 568h1v1h-1zM262 568h1v1h-1zM276 568h1v1h-1zM274 570h1v1h-1zM273 571h1v1h-1zM263 572h1v1h-1zM273 572h1v1h-1zM260 573h1v1h-1zM266 573h2v1h-2z" fill="#000" fill-opacity="0.50"/>
<path d="M268 533h2v1h-2zM271 533h1v1h-1zM276 535h1v1h-1zM267 536h1v1h-1zM277 538h1v1h-1zM276 539h1v1h-1zM271 541h1v1h-1zM276 542h1v1h-1zM276 543h1v1h-1zM269 545h1v1h-1zM268 548h1v1h-1zM276 548h1v1h-1zM272 551h1v1h-1zM272 552h1v1h-1zM275 552h1v1h-1zM271 557h1v1h-1zM273 557h1v1h-1zM271 558h1v1h-1zM277 558h1v1h-1zM281 558h1v1h-1zM267 559h1v1h-1zM269 559h1v1h-1zM281 560h1v1h-1zM280 563h1v1h-1zM264 564h2v1h-2zM264 565h1v1h-1zM272 566h1v1h-1zM277 566h2v1h-2zM264 567h1v1h-1zM263 570h1v1h-1zM274 571h2v1h-2zM263 573h1v1h-1zM265 573h1v1h-1zM268 573h1v1h-1z" fill="#000" fill-opacity="0.62"/>
<path d="M270 533h1v1h-1zM272 533h2v1h-2zM268 534h3v1h-3zM272 534h1v1h-1zM275 534h1v1h-1zM275 535h1v1h-1zM268 537h1v1h-1zM270 537h1v1h-1zM268 538h2v1h-2zM276 538h1v1h-1zM269 539h1v1h-1zM275 539h1v1h-1zM275 540h2v1h-2zM276 541h1v1h-1zM268 542h1v1h-1zM275 543h1v1h-1zM276 544h1v1h-1zM269 546h1v1h-1zM276 546h1v1h-1zM268 547h1v1h-1zM275 547h1v1h-1zM270 548h1v1h-1zM274 548h1v1h-1zM269 549h1v1h-1zM271 549h1v1h-1zM276 549h1v1h-1zM272 550h1v1h-1zM276 550h1v1h-1zM269 551h2v1h-2zM275 551h2v1h-2zM270 552h2v1h-2zM272 557h1v1h-1zM269 558h2v1h-2zM272 558h4v1h-4zM268 559h1v1h-1zM280 559h2v1h-2zM266 560h1v1h-1zM266 561h1v1h-1zM274 561h1v1h-1zM266 562h1v1h-1zM273 562h1v1h-1zM280 562h1v1h-1zM273 563h1v1h-1zM276 563h1v1h-1zM279 563h1v1h-1zM266 564h1v1h-1zM277 564h1v1h-1zM265 565h1v1h-1zM272 565h1v1h-1zM264 566h1v1h-1zM265 567h1v1h-1zM277 567h1v1h-1zM272 568h1v1h-1zM264 569h1v1h-1zM275 569h1v1h-1zM264 570h1v1h-1zM275 570h1v1h-1zM264 571h1v1h-1zM271 571h1v1h-1zM264 572h1v1h-1zM266 572h1v1h-1zM269 572h3v1h-3z" fill="#000" fill-opacity="0.75"/>
<path d="M274 533h1v1h-1zM271 534h1v1h-1zM273 534h2v1h-2zM269 535h6v1h-6zM268 536h8v1h-8zM269 537h1v1h-1zM271 537h5v1h-5zM270 538h6v1h-6zM270 539h5v1h-5zM268 540h7v1h-7zM268 541h3v1h-3zM272 541h4v1h-4zM269 542h7v1h-7zM269 543h6v1h-6zM269 544h7v1h-7zM270 545h7v1h-7zM270 546h6v1h-6zM269 547h6v1h-6zM276 547h1v1h-1zM269 548h1v1h-1zM271 548h3v1h-3zM275 548h1v1h-1zM270 549h1v1h-1zM272 549h4v1h-4zM269 550h3v1h-3zM273 550h3v1h-3zM271 551h1v1h-1zM273 551h2v1h-2zM276 558h1v1h-1zM270 559h10v1h-10zM267 560h4v1h-4zM272 560h9v1h-9zM267 561h7v1h-7zM275 561h6v1h-6zM267 562h6v1h-6zM274 562h6v1h-6zM266 563h7v1h-7zM274 563h2v1h-2zM277 563h2v1h-2zM267 564h10v1h-10zM278 564h1v1h-1zM266 565h6v1h-6zM273 565h6v1h-6zM265 566h7v1h-7zM273 566h4v1h-4zM266 567h11v1h-11zM265 568h7v1h-7zM273 568h3v1h-3zM265 569h10v1h-10zM265 570h9v1h-9zM263 571h1v1h-1zM265 571h6v1h-6zM272 571h1v1h-1zM265 572h1v1h-1zM267 572h1v1h-1zM272 572h1v1h-1z" fill="#000" fill-opacity="0.88"/>
<line x1="251.50" y1="552.50" x2="303.50" y2="552.50" stroke="#505050" stroke-width="1.0"/>
<line x1="261.50" y1="525.50" x2="261.50" y2="579.50" stroke="#3a3a3a" stroke-width="1.0"/>
<rect x="251.50" y="525.50" width="52.00" height="54.00" fill="none" stroke="#2a2a2a" stroke-width="1.2"/>
<text x="298.30" y="536.00" font-size="8.2" text-anchor="end" fill="#2a2a2a" stroke="#2a2a2a" stroke-width="0.12">36%</text>
<text x="256.25" y="539.35" font-size="3.0" text-anchor="middle" fill="#555" stroke="#555" stroke-width="0.12">88</text>
<text x="283.24" y="542.50" font-size="3.0" text-anchor="middle" fill="#555" stroke="#555" stroke-width="0.12">87</text>
<text x="240.04" y="582.00" font-size="5.3" fill="#222">10<tspan dy="-2.38" font-size="3.71">0</tspan></text>
<text x="240.04" y="568.50" font-size="5.3" fill="#222">10<tspan dy="-2.38" font-size="3.71">1</tspan></text>
<text x="240.04" y="555.10" font-size="5.3" fill="#222">10<tspan dy="-2.38" font-size="3.71">2</tspan></text>
<text x="240.04" y="541.50" font-size="5.3" fill="#222">10<tspan dy="-2.38" font-size="3.71">3</tspan></text>
<text x="240.04" y="528.00" font-size="5.3" fill="#222">10<tspan dy="-2.38" font-size="3.71">4</tspan></text>
<text x="249.10" y="590.40" font-size="5.3" fill="#222">10<tspan dy="-2.38" font-size="3.71">0</tspan></text>
<text x="260.54" y="590.40" font-size="5.3" fill="#222">10<tspan dy="-2.38" font-size="3.71">1</tspan></text>
<text x="272.50" y="590.40" font-size="5.3" fill="#222">10<tspan dy="-2.38" font-size="3.71">2</tspan></text>
<text x="285.50" y="590.40" font-size="5.3" fill="#222">10<tspan dy="-2.38" font-size="3.71">3</tspan></text>
<text x="295.64" y="590.40" font-size="5.3" fill="#222">10<tspan dy="-2.38" font-size="3.71">4</tspan></text>
<line x1="404.60" y1="267.25" x2="404.60" y2="364.40" stroke="#222" stroke-width="1"/>
<line x1="404.10" y1="363.90" x2="468.40" y2="363.90" stroke="#222" stroke-width="1.1"/>
<line x1="401.60" y1="363.90" x2="404.60" y2="363.90" stroke="#222" stroke-width="0.9"/>
<text x="398.70" y="366.64" font-size="7.6" text-anchor="end" fill="#2a2a2a" stroke="#2a2a2a" stroke-width="0.12">0</text>
<line x1="401.60" y1="345.17" x2="404.60" y2="345.17" stroke="#222" stroke-width="0.9"/>
<text x="398.70" y="347.91" font-size="7.6" text-anchor="end" fill="#2a2a2a" stroke="#2a2a2a" stroke-width="0.12">10</text>
<line x1="401.60" y1="326.44" x2="404.60" y2="326.44" stroke="#222" stroke-width="0.9"/>
<text x="398.70" y="329.18" font-size="7.6" text-anchor="end" fill="#2a2a2a" stroke="#2a2a2a" stroke-width="0.12">20</text>
<line x1="401.60" y1="307.71" x2="404.60" y2="307.71" stroke="#222" stroke-width="0.9"/>
<text x="398.70" y="310.45" font-size="7.6" text-anchor="end" fill="#2a2a2a" stroke="#2a2a2a" stroke-width="0.12">30</text>
<line x1="401.60" y1="288.98" x2="404.60" y2="288.98" stroke="#222" stroke-width="0.9"/>
<text x="398.70" y="291.72" font-size="7.6" text-anchor="end" fill="#2a2a2a" stroke="#2a2a2a" stroke-width="0.12">40</text>
<line x1="401.60" y1="270.25" x2="404.60" y2="270.25" stroke="#222" stroke-width="0.9"/>
<text x="398.70" y="272.99" font-size="7.6" text-anchor="end" fill="#2a2a2a" stroke="#2a2a2a" stroke-width="0.12">50</text>
<rect x="408.90" y="352.66" width="5.30" height="11.24" fill="#134a87"/>
<line x1="411.55" y1="351.54" x2="411.55" y2="353.79" stroke="#10243c" stroke-width="0.85"/>
<line x1="409.85" y1="351.54" x2="413.25" y2="351.54" stroke="#10243c" stroke-width="0.85"/>
<line x1="409.85" y1="353.79" x2="413.25" y2="353.79" stroke="#10243c" stroke-width="0.85"/>
<line x1="409.20" y1="353.06" x2="413.90" y2="353.06" stroke="#0b2c52" stroke-width="0.8"/>
<rect x="414.50" y="353.60" width="5.30" height="10.30" fill="#f7900e"/>
<line x1="417.15" y1="353.04" x2="417.15" y2="354.16" stroke="#3a2a14" stroke-width="0.85"/>
<line x1="415.45" y1="353.04" x2="418.85" y2="353.04" stroke="#3a2a14" stroke-width="0.85"/>
<line x1="415.45" y1="354.16" x2="418.85" y2="354.16" stroke="#3a2a14" stroke-width="0.85"/>
<line x1="414.80" y1="354.00" x2="419.50" y2="354.00" stroke="#b0650a" stroke-width="0.8"/>
<rect x="424.30" y="332.06" width="5.30" height="31.84" fill="#134a87"/>
<line x1="426.95" y1="331.31" x2="426.95" y2="332.81" stroke="#10243c" stroke-width="0.85"/>
<line x1="425.25" y1="331.31" x2="428.65" y2="331.31" stroke="#10243c" stroke-width="0.85"/>
<line x1="425.25" y1="332.81" x2="428.65" y2="332.81" stroke="#10243c" stroke-width="0.85"/>
<line x1="424.60" y1="332.46" x2="429.30" y2="332.46" stroke="#0b2c52" stroke-width="0.8"/>
<rect x="429.90" y="350.79" width="5.30" height="13.11" fill="#f7900e"/>
<line x1="432.55" y1="349.10" x2="432.55" y2="352.47" stroke="#3a2a14" stroke-width="0.85"/>
<line x1="430.85" y1="349.10" x2="434.25" y2="349.10" stroke="#3a2a14" stroke-width="0.85"/>
<line x1="430.85" y1="352.47" x2="434.25" y2="352.47" stroke="#3a2a14" stroke-width="0.85"/>
<line x1="430.20" y1="351.19" x2="434.90" y2="351.19" stroke="#b0650a" stroke-width="0.8"/>
<rect x="439.70" y="321.94" width="5.30" height="41.96" fill="#134a87"/>
<line x1="442.35" y1="321.38" x2="442.35" y2="322.51" stroke="#10243c" stroke-width="0.85"/>
<line x1="440.65" y1="321.38" x2="444.05" y2="321.38" stroke="#10243c" stroke-width="0.85"/>
<line x1="440.65" y1="322.51" x2="444.05" y2="322.51" stroke="#10243c" stroke-width="0.85"/>
<line x1="440.00" y1="322.34" x2="444.70" y2="322.34" stroke="#0b2c52" stroke-width="0.8"/>
<rect x="445.30" y="344.61" width="5.30" height="19.29" fill="#f7900e"/>
<line x1="447.95" y1="343.11" x2="447.95" y2="346.11" stroke="#3a2a14" stroke-width="0.85"/>
<line x1="446.25" y1="343.11" x2="449.65" y2="343.11" stroke="#3a2a14" stroke-width="0.85"/>
<line x1="446.25" y1="346.11" x2="449.65" y2="346.11" stroke="#3a2a14" stroke-width="0.85"/>
<line x1="445.60" y1="345.01" x2="450.30" y2="345.01" stroke="#b0650a" stroke-width="0.8"/>
<rect x="455.10" y="292.73" width="5.30" height="71.17" fill="#134a87"/>
<line x1="457.75" y1="288.04" x2="457.75" y2="297.41" stroke="#10243c" stroke-width="0.85"/>
<line x1="456.05" y1="288.04" x2="459.45" y2="288.04" stroke="#10243c" stroke-width="0.85"/>
<line x1="456.05" y1="297.41" x2="459.45" y2="297.41" stroke="#10243c" stroke-width="0.85"/>
<line x1="455.40" y1="293.13" x2="460.10" y2="293.13" stroke="#0b2c52" stroke-width="0.8"/>
<rect x="460.70" y="338.61" width="5.30" height="25.29" fill="#f7900e"/>
<line x1="463.35" y1="338.05" x2="463.35" y2="339.18" stroke="#3a2a14" stroke-width="0.85"/>
<line x1="461.65" y1="338.05" x2="465.05" y2="338.05" stroke="#3a2a14" stroke-width="0.85"/>
<line x1="461.65" y1="339.18" x2="465.05" y2="339.18" stroke="#3a2a14" stroke-width="0.85"/>
<line x1="461.00" y1="339.01" x2="465.70" y2="339.01" stroke="#b0650a" stroke-width="0.8"/>
<line x1="414.30" y1="363.90" x2="414.30" y2="366.40" stroke="#222" stroke-width="0.9"/>
<line x1="429.70" y1="363.90" x2="429.70" y2="366.40" stroke="#222" stroke-width="0.9"/>
<line x1="445.10" y1="363.90" x2="445.10" y2="366.40" stroke="#222" stroke-width="0.9"/>
<line x1="460.50" y1="363.90" x2="460.50" y2="366.40" stroke="#222" stroke-width="0.9"/>
<line x1="451.40" y1="280.10" x2="473.70" y2="280.10" stroke="#222" stroke-width="1"/>
<text x="462.40" y="279.60" font-size="6.5" text-anchor="middle" fill="#222" stroke="#222" stroke-width="0.12">*</text>
<text transform="translate(371.40,318.20) rotate(-90)" x="0" y="1.50" font-size="6.8" text-anchor="middle" font-weight="bold" fill="#3a3a3a" textLength="49.60" lengthAdjust="spacingAndGlyphs" stroke="#3a3a3a" stroke-width="0.12">mCherry+ or GFP+/</text>
<text transform="translate(381.20,318.20) rotate(-90)" x="0" y="1.50" font-size="6.8" text-anchor="middle" font-weight="bold" fill="#3a3a3a" textLength="38.40" lengthAdjust="spacingAndGlyphs" stroke="#3a3a3a" stroke-width="0.12">annexin V+ (%)</text>
<text x="398.60" y="377.20" font-size="7.6" text-anchor="end" fill="#333" stroke="#333" stroke-width="0.12">VEN 10nM</text>
<text x="398.60" y="389.60" font-size="7.6" text-anchor="end" fill="#333" stroke="#333" stroke-width="0.12">DEC 500nM</text>
<line x1="412.50" y1="374.65" x2="416.10" y2="374.65" stroke="#3a3a3a" stroke-width="0.85"/>
<line x1="412.50" y1="387.05" x2="416.10" y2="387.05" stroke="#3a3a3a" stroke-width="0.85"/>
<text x="429.70" y="377.20" font-size="7.6" text-anchor="middle" fill="#333" stroke="#333" stroke-width="0.12">+</text>
<line x1="427.90" y1="387.05" x2="431.50" y2="387.05" stroke="#3a3a3a" stroke-width="0.85"/>
<line x1="443.30" y1="374.65" x2="446.90" y2="374.65" stroke="#3a3a3a" stroke-width="0.85"/>
<text x="445.10" y="389.60" font-size="7.6" text-anchor="middle" fill="#333" stroke="#333" stroke-width="0.12">+</text>
<text x="460.50" y="377.20" font-size="7.6" text-anchor="middle" fill="#333" stroke="#333" stroke-width="0.12">+</text>
<text x="460.50" y="389.60" font-size="7.6" text-anchor="middle" fill="#333" stroke="#333" stroke-width="0.12">+</text>
<rect x="456.10" y="242.60" width="6.20" height="6.20" fill="#134a87"/>
<text x="465.60" y="247.90" font-size="7.6" fill="#333" stroke="#333" stroke-width="0.12">Control vector</text>
<rect x="456.10" y="254.20" width="6.20" height="6.00" fill="#f7900e"/>
<text x="465.60" y="259.60" font-size="7.6" fill="#333" stroke="#333" stroke-width="0.12"><tspan font-style="italic">PPARG</tspan>-OE</text>
<line x1="404.60" y1="459.15" x2="404.60" y2="556.30" stroke="#222" stroke-width="1"/>
<line x1="404.10" y1="555.80" x2="468.40" y2="555.80" stroke="#222" stroke-width="1.1"/>
<line x1="401.60" y1="555.80" x2="404.60" y2="555.80" stroke="#222" stroke-width="0.9"/>
<text x="398.70" y="558.54" font-size="7.6" text-anchor="end" fill="#2a2a2a" stroke="#2a2a2a" stroke-width="0.12">0</text>
<line x1="401.60" y1="537.07" x2="404.60" y2="537.07" stroke="#222" stroke-width="0.9"/>
<text x="398.70" y="539.81" font-size="7.6" text-anchor="end" fill="#2a2a2a" stroke="#2a2a2a" stroke-width="0.12">10</text>
<line x1="401.60" y1="518.34" x2="404.60" y2="518.34" stroke="#222" stroke-width="0.9"/>
<text x="398.70" y="521.08" font-size="7.6" text-anchor="end" fill="#2a2a2a" stroke="#2a2a2a" stroke-width="0.12">20</text>
<line x1="401.60" y1="499.61" x2="404.60" y2="499.61" stroke="#222" stroke-width="0.9"/>
<text x="398.70" y="502.35" font-size="7.6" text-anchor="end" fill="#2a2a2a" stroke="#2a2a2a" stroke-width="0.12">30</text>
<line x1="401.60" y1="480.88" x2="404.60" y2="480.88" stroke="#222" stroke-width="0.9"/>
<text x="398.70" y="483.62" font-size="7.6" text-anchor="end" fill="#2a2a2a" stroke="#2a2a2a" stroke-width="0.12">40</text>
<line x1="401.60" y1="462.15" x2="404.60" y2="462.15" stroke="#222" stroke-width="0.9"/>
<text x="398.70" y="464.89" font-size="7.6" text-anchor="end" fill="#2a2a2a" stroke="#2a2a2a" stroke-width="0.12">50</text>
<rect x="408.90" y="543.44" width="5.30" height="12.36" fill="#134a87"/>
<line x1="411.55" y1="543.06" x2="411.55" y2="543.81" stroke="#10243c" stroke-width="0.85"/>
<line x1="409.85" y1="543.06" x2="413.25" y2="543.06" stroke="#10243c" stroke-width="0.85"/>
<line x1="409.85" y1="543.81" x2="413.25" y2="543.81" stroke="#10243c" stroke-width="0.85"/>
<line x1="409.20" y1="543.84" x2="413.90" y2="543.84" stroke="#0b2c52" stroke-width="0.8"/>
<rect x="414.50" y="533.70" width="5.30" height="22.10" fill="#f7900e"/>
<line x1="417.15" y1="533.14" x2="417.15" y2="534.26" stroke="#3a2a14" stroke-width="0.85"/>
<line x1="415.45" y1="533.14" x2="418.85" y2="533.14" stroke="#3a2a14" stroke-width="0.85"/>
<line x1="415.45" y1="534.26" x2="418.85" y2="534.26" stroke="#3a2a14" stroke-width="0.85"/>
<line x1="414.80" y1="534.10" x2="419.50" y2="534.10" stroke="#b0650a" stroke-width="0.8"/>
<rect x="424.30" y="527.70" width="5.30" height="28.10" fill="#134a87"/>
<line x1="426.95" y1="526.58" x2="426.95" y2="528.83" stroke="#10243c" stroke-width="0.85"/>
<line x1="425.25" y1="526.58" x2="428.65" y2="526.58" stroke="#10243c" stroke-width="0.85"/>
<line x1="425.25" y1="528.83" x2="428.65" y2="528.83" stroke="#10243c" stroke-width="0.85"/>
<line x1="424.60" y1="528.10" x2="429.30" y2="528.10" stroke="#0b2c52" stroke-width="0.8"/>
<rect x="429.90" y="519.84" width="5.30" height="35.96" fill="#f7900e"/>
<line x1="432.55" y1="519.28" x2="432.55" y2="520.40" stroke="#3a2a14" stroke-width="0.85"/>
<line x1="430.85" y1="519.28" x2="434.25" y2="519.28" stroke="#3a2a14" stroke-width="0.85"/>
<line x1="430.85" y1="520.40" x2="434.25" y2="520.40" stroke="#3a2a14" stroke-width="0.85"/>
<line x1="430.20" y1="520.24" x2="434.90" y2="520.24" stroke="#b0650a" stroke-width="0.8"/>
<rect x="439.70" y="518.34" width="5.30" height="37.46" fill="#134a87"/>
<line x1="442.35" y1="517.78" x2="442.35" y2="518.90" stroke="#10243c" stroke-width="0.85"/>
<line x1="440.65" y1="517.78" x2="444.05" y2="517.78" stroke="#10243c" stroke-width="0.85"/>
<line x1="440.65" y1="518.90" x2="444.05" y2="518.90" stroke="#10243c" stroke-width="0.85"/>
<line x1="440.00" y1="518.74" x2="444.70" y2="518.74" stroke="#0b2c52" stroke-width="0.8"/>
<rect x="445.30" y="529.20" width="5.30" height="26.60" fill="#f7900e"/>
<line x1="447.95" y1="527.71" x2="447.95" y2="530.70" stroke="#3a2a14" stroke-width="0.85"/>
<line x1="446.25" y1="527.71" x2="449.65" y2="527.71" stroke="#3a2a14" stroke-width="0.85"/>
<line x1="446.25" y1="530.70" x2="449.65" y2="530.70" stroke="#3a2a14" stroke-width="0.85"/>
<line x1="445.60" y1="529.60" x2="450.30" y2="529.60" stroke="#b0650a" stroke-width="0.8"/>
<rect x="455.10" y="488.00" width="5.30" height="67.80" fill="#134a87"/>
<line x1="457.75" y1="486.50" x2="457.75" y2="489.50" stroke="#10243c" stroke-width="0.85"/>
<line x1="456.05" y1="486.50" x2="459.45" y2="486.50" stroke="#10243c" stroke-width="0.85"/>
<line x1="456.05" y1="489.50" x2="459.45" y2="489.50" stroke="#10243c" stroke-width="0.85"/>
<line x1="455.40" y1="488.40" x2="460.10" y2="488.40" stroke="#0b2c52" stroke-width="0.8"/>
<rect x="460.70" y="508.41" width="5.30" height="47.39" fill="#f7900e"/>
<line x1="463.35" y1="505.60" x2="463.35" y2="511.22" stroke="#3a2a14" stroke-width="0.85"/>
<line x1="461.65" y1="505.60" x2="465.05" y2="505.60" stroke="#3a2a14" stroke-width="0.85"/>
<line x1="461.65" y1="511.22" x2="465.05" y2="511.22" stroke="#3a2a14" stroke-width="0.85"/>
<line x1="461.00" y1="508.81" x2="465.70" y2="508.81" stroke="#b0650a" stroke-width="0.8"/>
<line x1="414.30" y1="555.80" x2="414.30" y2="558.30" stroke="#222" stroke-width="0.9"/>
<line x1="429.70" y1="555.80" x2="429.70" y2="558.30" stroke="#222" stroke-width="0.9"/>
<line x1="445.10" y1="555.80" x2="445.10" y2="558.30" stroke="#222" stroke-width="0.9"/>
<line x1="460.50" y1="555.80" x2="460.50" y2="558.30" stroke="#222" stroke-width="0.9"/>
<line x1="452.50" y1="476.90" x2="474.70" y2="476.90" stroke="#222" stroke-width="1"/>
<text x="463.00" y="476.40" font-size="6.5" text-anchor="middle" fill="#222" stroke="#222" stroke-width="0.12">*</text>
<text transform="translate(371.40,514.50) rotate(-90)" x="0" y="1.50" font-size="6.8" text-anchor="middle" font-weight="bold" fill="#3a3a3a" textLength="49.60" lengthAdjust="spacingAndGlyphs" stroke="#3a3a3a" stroke-width="0.12">mCherry+ or GFP+/</text>
<text transform="translate(381.20,513.50) rotate(-90)" x="0" y="1.50" font-size="6.8" text-anchor="middle" font-weight="bold" fill="#3a3a3a" textLength="38.40" lengthAdjust="spacingAndGlyphs" stroke="#3a3a3a" stroke-width="0.12">annexin V+ (%)</text>
<text x="398.60" y="568.40" font-size="7.6" text-anchor="end" fill="#333" stroke="#333" stroke-width="0.12">VEN 50nM</text>
<text x="398.60" y="581.20" font-size="7.6" text-anchor="end" fill="#333" stroke="#333" stroke-width="0.12">DEC 500nM</text>
<line x1="412.50" y1="565.85" x2="416.10" y2="565.85" stroke="#3a3a3a" stroke-width="0.85"/>
<line x1="412.50" y1="578.65" x2="416.10" y2="578.65" stroke="#3a3a3a" stroke-width="0.85"/>
<text x="429.70" y="568.40" font-size="7.6" text-anchor="middle" fill="#333" stroke="#333" stroke-width="0.12">+</text>
<line x1="427.90" y1="578.65" x2="431.50" y2="578.65" stroke="#3a3a3a" stroke-width="0.85"/>
<line x1="443.30" y1="565.85" x2="446.90" y2="565.85" stroke="#3a3a3a" stroke-width="0.85"/>
<text x="445.10" y="581.20" font-size="7.6" text-anchor="middle" fill="#333" stroke="#333" stroke-width="0.12">+</text>
<text x="460.50" y="568.40" font-size="7.6" text-anchor="middle" fill="#333" stroke="#333" stroke-width="0.12">+</text>
<text x="460.50" y="581.20" font-size="7.6" text-anchor="middle" fill="#333" stroke="#333" stroke-width="0.12">+</text>
<rect x="0.5" y="0.5" width="519" height="612" fill="none" stroke="#555" stroke-width="1"/>
</svg>
</body></html>
